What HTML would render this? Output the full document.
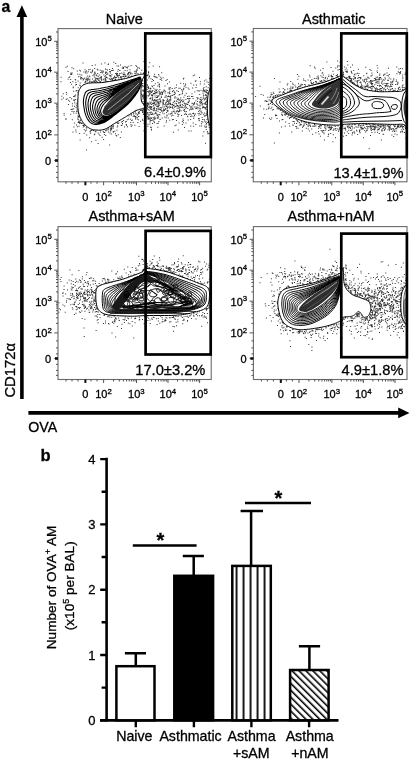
<!DOCTYPE html>
<html><head><meta charset="utf-8"><style>
html,body{margin:0;padding:0;background:#fff;width:412px;height:761px;overflow:hidden;}
svg{display:block;font-family:"Liberation Sans", sans-serif;will-change:transform;}
text{stroke:#000;stroke-width:0.3px;}
</style></head><body>
<svg width="412" height="761" viewBox="0 0 412 761" font-family='"Liberation Sans", sans-serif' fill="#000">
<clipPath id="clip0"><rect x="58" y="28.6" width="153.3" height="153.20000000000002"/></clipPath>
<g clip-path="url(#clip0)">
<path d="M204.1 112.4h1v1h-1zM110.1 130.4h1v1h-1zM80.9 123.1h1v1h-1zM153.1 80.0h1v1h-1zM211.1 83.5h1v1h-1zM212.6 129.0h1v1h-1zM104.4 62.6h1v1h-1zM111.4 126.1h1v1h-1zM208.2 124.5h1v1h-1zM204.6 98.8h1v1h-1zM208.3 83.9h1v1h-1zM95.1 82.4h1v1h-1zM105.3 81.4h1v1h-1zM207.6 96.6h1v1h-1zM147.4 102.2h1v1h-1zM205.6 106.9h1v1h-1zM97.6 143.0h1v1h-1zM195.3 124.0h1v1h-1zM73.2 112.4h1v1h-1zM79.6 139.6h1v1h-1zM101.1 79.8h1v1h-1zM85.7 77.5h1v1h-1zM138.5 111.7h1v1h-1zM109.9 71.0h1v1h-1zM144.0 70.2h1v1h-1zM143.0 103.3h1v1h-1zM75.1 98.9h1v1h-1zM95.4 131.3h1v1h-1zM63.6 112.9h1v1h-1zM71.9 103.2h1v1h-1zM201.5 101.6h1v1h-1zM100.2 81.2h1v1h-1zM152.7 65.5h1v1h-1zM114.9 78.8h1v1h-1zM135.2 117.2h1v1h-1zM151.9 79.1h1v1h-1zM209.8 89.3h1v1h-1zM143.5 61.1h1v1h-1zM124.0 126.6h1v1h-1zM80.8 77.4h1v1h-1zM103.6 81.8h1v1h-1zM106.4 129.7h1v1h-1zM145.0 102.9h1v1h-1zM209.9 127.7h1v1h-1zM205.8 113.3h1v1h-1zM140.1 120.7h1v1h-1zM122.8 74.1h1v1h-1zM74.0 105.8h1v1h-1zM200.6 102.5h1v1h-1zM108.2 129.2h1v1h-1zM210.3 88.7h1v1h-1zM143.2 110.5h1v1h-1zM86.5 72.4h1v1h-1zM205.4 91.0h1v1h-1zM143.6 85.6h1v1h-1zM105.2 77.2h1v1h-1zM78.5 125.8h1v1h-1zM202.5 90.3h1v1h-1zM101.6 136.8h1v1h-1zM139.9 110.0h1v1h-1zM138.8 111.0h1v1h-1zM135.7 113.3h1v1h-1zM77.9 116.0h1v1h-1zM113.3 77.0h1v1h-1zM74.4 96.3h1v1h-1zM89.6 80.8h1v1h-1zM143.6 92.7h1v1h-1zM123.4 74.5h1v1h-1zM115.7 135.0h1v1h-1zM98.3 79.9h1v1h-1zM203.8 115.6h1v1h-1zM71.1 83.7h1v1h-1zM83.8 129.3h1v1h-1zM77.5 115.2h1v1h-1zM131.1 76.1h1v1h-1zM110.0 127.7h1v1h-1zM79.2 133.0h1v1h-1zM190.7 130.6h1v1h-1zM72.0 108.7h1v1h-1zM114.9 76.9h1v1h-1zM115.2 78.7h1v1h-1zM104.2 131.9h1v1h-1zM146.0 106.8h1v1h-1zM118.4 78.4h1v1h-1zM91.6 129.7h1v1h-1zM135.3 113.5h1v1h-1zM71.5 108.7h1v1h-1zM144.5 90.1h1v1h-1zM202.6 93.3h1v1h-1zM89.2 81.0h1v1h-1zM145.3 70.3h1v1h-1zM110.5 129.2h1v1h-1zM201.8 98.8h1v1h-1zM151.4 106.3h1v1h-1zM79.9 85.5h1v1h-1zM121.1 121.4h1v1h-1zM105.5 69.0h1v1h-1zM209.6 89.6h1v1h-1zM107.0 69.6h1v1h-1zM149.1 75.6h1v1h-1zM99.5 135.1h1v1h-1zM206.1 114.7h1v1h-1zM142.4 95.1h1v1h-1zM148.5 104.2h1v1h-1zM205.8 129.1h1v1h-1zM77.7 87.3h1v1h-1zM141.1 110.1h1v1h-1zM78.8 116.6h1v1h-1zM209.6 88.0h1v1h-1zM205.5 103.6h1v1h-1zM117.0 122.4h1v1h-1zM114.3 130.8h1v1h-1zM116.1 77.1h1v1h-1zM207.3 132.2h1v1h-1zM149.3 62.3h1v1h-1zM205.5 121.3h1v1h-1zM117.2 125.3h1v1h-1zM130.4 76.4h1v1h-1zM205.3 94.1h1v1h-1zM201.0 125.6h1v1h-1zM159.1 66.3h1v1h-1zM199.2 112.7h1v1h-1zM205.6 124.2h1v1h-1zM153.8 103.0h1v1h-1zM80.0 119.5h1v1h-1zM86.9 80.3h1v1h-1zM115.1 79.2h1v1h-1zM159.4 89.0h1v1h-1zM109.3 78.2h1v1h-1zM207.7 87.3h1v1h-1zM213.0 133.0h1v1h-1zM143.2 108.8h1v1h-1zM211.2 87.0h1v1h-1zM91.7 82.0h1v1h-1zM94.3 133.5h1v1h-1zM202.8 96.6h1v1h-1zM119.8 137.1h1v1h-1zM148.0 103.4h1v1h-1zM151.2 103.8h1v1h-1zM105.0 130.3h1v1h-1zM208.0 120.6h1v1h-1zM153.8 109.5h1v1h-1zM204.7 94.9h1v1h-1zM75.3 129.5h1v1h-1zM66.1 93.7h1v1h-1zM100.0 131.6h1v1h-1zM135.4 72.9h1v1h-1zM74.2 95.2h1v1h-1zM67.9 103.9h1v1h-1zM207.5 133.3h1v1h-1zM72.3 81.3h1v1h-1zM112.7 125.1h1v1h-1zM78.2 116.1h1v1h-1zM153.8 118.8h1v1h-1zM75.7 112.8h1v1h-1zM116.1 135.5h1v1h-1zM151.9 86.2h1v1h-1zM206.5 92.0h1v1h-1zM101.0 79.3h1v1h-1zM135.7 71.6h1v1h-1zM205.5 79.6h1v1h-1zM211.7 131.1h1v1h-1zM85.8 127.3h1v1h-1zM134.6 75.0h1v1h-1zM73.5 111.1h1v1h-1zM74.1 100.2h1v1h-1zM145.2 110.3h1v1h-1zM130.8 114.8h1v1h-1zM75.0 84.4h1v1h-1zM117.7 134.3h1v1h-1zM65.8 98.9h1v1h-1zM147.3 112.7h1v1h-1zM145.2 113.1h1v1h-1zM89.4 78.7h1v1h-1zM143.3 72.3h1v1h-1zM207.9 93.3h1v1h-1zM207.8 122.1h1v1h-1zM199.3 125.6h1v1h-1zM123.1 120.0h1v1h-1zM146.6 75.0h1v1h-1zM103.0 131.2h1v1h-1zM84.4 124.8h1v1h-1zM210.0 129.3h1v1h-1zM144.8 104.2h1v1h-1zM75.6 131.4h1v1h-1zM105.5 71.3h1v1h-1zM99.7 69.7h1v1h-1zM139.1 67.8h1v1h-1zM92.5 81.2h1v1h-1zM106.5 81.1h1v1h-1zM122.6 78.7h1v1h-1zM73.2 108.2h1v1h-1zM117.3 70.7h1v1h-1zM141.8 110.1h1v1h-1zM87.5 77.7h1v1h-1zM134.9 116.1h1v1h-1zM123.0 68.1h1v1h-1zM83.3 84.6h1v1h-1zM90.2 132.7h1v1h-1zM71.9 105.6h1v1h-1zM204.2 125.5h1v1h-1zM63.7 114.8h1v1h-1zM206.1 111.4h1v1h-1zM105.3 78.8h1v1h-1zM184.1 108.9h1v1h-1zM135.8 70.7h1v1h-1zM82.5 125.0h1v1h-1zM93.9 134.3h1v1h-1zM111.1 128.1h1v1h-1zM135.8 71.7h1v1h-1zM144.1 87.0h1v1h-1zM209.5 85.1h1v1h-1zM136.1 75.2h1v1h-1zM133.4 112.6h1v1h-1zM76.0 124.6h1v1h-1zM141.5 84.9h1v1h-1zM110.5 128.6h1v1h-1zM208.5 124.3h1v1h-1zM104.4 76.1h1v1h-1zM144.0 122.3h1v1h-1zM212.7 129.5h1v1h-1zM105.2 79.0h1v1h-1zM144.8 108.9h1v1h-1zM144.3 113.4h1v1h-1zM142.3 111.4h1v1h-1zM115.9 74.4h1v1h-1zM204.7 114.8h1v1h-1zM154.8 112.8h1v1h-1zM76.9 126.3h1v1h-1zM126.0 124.8h1v1h-1zM210.1 85.9h1v1h-1zM78.1 119.3h1v1h-1zM111.1 128.8h1v1h-1zM85.1 130.4h1v1h-1zM107.3 77.5h1v1h-1zM89.6 69.0h1v1h-1zM207.2 114.1h1v1h-1zM95.2 79.9h1v1h-1zM204.5 107.8h1v1h-1zM212.2 132.9h1v1h-1zM196.7 90.2h1v1h-1zM92.5 81.3h1v1h-1zM142.6 97.9h1v1h-1zM198.5 114.5h1v1h-1zM116.2 74.6h1v1h-1zM75.6 90.6h1v1h-1zM93.9 76.4h1v1h-1zM78.9 115.0h1v1h-1zM204.8 126.7h1v1h-1zM203.5 90.0h1v1h-1zM206.5 89.7h1v1h-1zM147.2 105.5h1v1h-1zM98.7 79.8h1v1h-1zM99.4 81.0h1v1h-1zM205.7 86.2h1v1h-1zM203.2 97.8h1v1h-1zM128.1 73.6h1v1h-1zM202.3 121.5h1v1h-1zM77.6 109.5h1v1h-1zM199.8 83.5h1v1h-1zM135.4 73.4h1v1h-1zM137.3 122.1h1v1h-1zM127.7 76.2h1v1h-1zM77.9 76.3h1v1h-1zM124.9 76.1h1v1h-1zM124.2 73.5h1v1h-1zM94.7 130.7h1v1h-1zM208.4 81.9h1v1h-1zM212.5 84.0h1v1h-1zM110.7 126.8h1v1h-1zM137.9 112.1h1v1h-1zM120.8 78.5h1v1h-1zM61.4 95.7h1v1h-1zM90.8 130.0h1v1h-1zM76.2 90.1h1v1h-1zM65.8 118.5h1v1h-1zM124.7 74.4h1v1h-1zM131.8 119.5h1v1h-1zM117.4 123.0h1v1h-1zM116.8 126.5h1v1h-1zM134.1 115.9h1v1h-1zM142.7 89.6h1v1h-1zM130.4 72.5h1v1h-1zM201.7 103.6h1v1h-1zM78.7 121.7h1v1h-1zM100.7 78.8h1v1h-1zM96.6 81.7h1v1h-1zM76.1 105.3h1v1h-1zM125.8 121.1h1v1h-1zM105.3 130.3h1v1h-1zM125.5 75.8h1v1h-1zM94.7 78.7h1v1h-1zM121.7 124.6h1v1h-1zM130.7 113.8h1v1h-1zM203.7 119.0h1v1h-1zM109.1 144.4h1v1h-1zM97.6 132.6h1v1h-1zM209.7 127.4h1v1h-1zM122.0 123.1h1v1h-1zM147.8 91.8h1v1h-1zM133.0 113.5h1v1h-1zM97.1 78.6h1v1h-1zM132.7 122.0h1v1h-1zM80.4 121.9h1v1h-1zM206.5 119.1h1v1h-1zM205.9 96.6h1v1h-1zM77.6 90.2h1v1h-1zM75.1 94.4h1v1h-1zM141.3 69.7h1v1h-1zM86.1 127.5h1v1h-1zM149.9 105.9h1v1h-1zM204.1 91.2h1v1h-1zM202.4 106.4h1v1h-1zM71.8 119.3h1v1h-1zM143.2 90.5h1v1h-1zM206.0 126.5h1v1h-1zM113.0 131.4h1v1h-1zM202.6 91.2h1v1h-1zM148.7 76.3h1v1h-1zM207.2 121.9h1v1h-1zM91.1 141.3h1v1h-1zM144.9 76.8h1v1h-1zM128.1 118.6h1v1h-1zM113.0 126.2h1v1h-1zM72.4 131.6h1v1h-1zM79.6 75.8h1v1h-1zM127.0 74.2h1v1h-1zM103.1 139.1h1v1h-1zM131.3 75.4h1v1h-1zM150.4 78.2h1v1h-1zM205.5 108.8h1v1h-1zM143.0 96.8h1v1h-1zM79.3 121.5h1v1h-1zM97.5 78.9h1v1h-1zM112.7 131.0h1v1h-1zM114.4 79.7h1v1h-1zM118.0 122.7h1v1h-1zM119.6 72.9h1v1h-1zM206.3 99.2h1v1h-1zM124.6 69.9h1v1h-1zM141.9 84.9h1v1h-1zM211.1 84.6h1v1h-1zM126.7 119.2h1v1h-1zM205.4 97.7h1v1h-1zM129.2 72.0h1v1h-1zM205.0 142.8h1v1h-1zM91.0 130.1h1v1h-1zM89.6 131.4h1v1h-1zM93.9 81.1h1v1h-1zM77.4 91.9h1v1h-1zM93.6 80.4h1v1h-1zM116.8 75.8h1v1h-1zM136.5 69.9h1v1h-1zM74.2 102.2h1v1h-1zM158.5 75.6h1v1h-1zM144.7 78.0h1v1h-1zM211.8 128.3h1v1h-1zM69.1 100.7h1v1h-1zM86.7 78.6h1v1h-1zM128.6 115.5h1v1h-1zM94.6 81.8h1v1h-1zM201.7 104.4h1v1h-1zM87.5 82.5h1v1h-1zM203.8 103.3h1v1h-1zM201.3 112.5h1v1h-1zM76.6 105.4h1v1h-1zM206.0 91.8h1v1h-1zM83.6 124.1h1v1h-1zM211.7 129.0h1v1h-1zM108.9 78.4h1v1h-1zM128.0 76.3h1v1h-1zM146.5 75.2h1v1h-1zM89.1 137.2h1v1h-1zM83.6 132.8h1v1h-1zM142.2 80.3h1v1h-1zM202.4 135.4h1v1h-1zM88.5 79.5h1v1h-1zM77.2 102.7h1v1h-1zM206.6 101.5h1v1h-1zM203.4 131.2h1v1h-1zM145.9 70.6h1v1h-1zM212.3 84.9h1v1h-1zM71.5 111.0h1v1h-1zM148.2 72.5h1v1h-1zM112.7 80.7h1v1h-1zM199.4 98.6h1v1h-1zM110.3 129.6h1v1h-1zM77.7 122.1h1v1h-1zM111.6 126.5h1v1h-1zM79.0 122.0h1v1h-1zM77.2 118.4h1v1h-1zM112.6 127.7h1v1h-1zM135.4 116.4h1v1h-1zM207.9 120.2h1v1h-1zM85.1 84.0h1v1h-1zM111.1 77.9h1v1h-1zM205.3 121.7h1v1h-1zM84.0 77.8h1v1h-1zM112.7 131.5h1v1h-1zM76.3 110.5h1v1h-1zM147.8 86.2h1v1h-1zM109.5 132.4h1v1h-1zM95.2 77.4h1v1h-1zM75.7 103.4h1v1h-1zM123.5 74.0h1v1h-1zM105.2 134.9h1v1h-1zM70.6 109.0h1v1h-1zM131.5 124.8h1v1h-1zM79.7 82.5h1v1h-1zM83.2 124.9h1v1h-1zM148.7 118.0h1v1h-1zM70.2 113.8h1v1h-1zM115.0 133.2h1v1h-1zM143.5 95.5h1v1h-1zM141.2 93.8h1v1h-1zM136.7 117.0h1v1h-1zM210.1 126.9h1v1h-1zM141.5 86.6h1v1h-1zM79.2 115.6h1v1h-1zM101.1 79.5h1v1h-1zM75.6 106.9h1v1h-1zM118.3 122.5h1v1h-1zM140.3 72.6h1v1h-1zM198.5 119.6h1v1h-1zM123.1 67.0h1v1h-1zM103.9 134.0h1v1h-1zM73.5 99.2h1v1h-1zM62.7 93.3h1v1h-1zM137.9 119.2h1v1h-1zM144.7 104.1h1v1h-1zM131.2 119.9h1v1h-1zM154.1 73.7h1v1h-1zM146.8 107.9h1v1h-1zM191.3 107.2h1v1h-1zM103.8 132.0h1v1h-1zM134.4 70.7h1v1h-1zM63.0 97.5h1v1h-1zM138.8 112.8h1v1h-1zM203.9 106.7h1v1h-1zM142.9 73.0h1v1h-1zM77.9 110.3h1v1h-1zM105.2 80.0h1v1h-1zM85.4 79.0h1v1h-1zM85.8 129.6h1v1h-1zM110.2 79.1h1v1h-1zM146.3 97.6h1v1h-1zM78.3 121.3h1v1h-1zM65.0 118.4h1v1h-1zM205.2 106.9h1v1h-1zM120.8 125.1h1v1h-1zM61.3 98.8h1v1h-1zM142.1 112.1h1v1h-1zM138.6 125.9h1v1h-1zM138.4 116.1h1v1h-1zM137.3 113.7h1v1h-1zM206.7 92.8h1v1h-1zM202.0 107.4h1v1h-1zM65.8 92.0h1v1h-1zM122.0 120.9h1v1h-1zM73.2 90.7h1v1h-1zM77.7 98.9h1v1h-1zM125.0 121.5h1v1h-1zM76.8 102.5h1v1h-1zM80.2 86.9h1v1h-1zM205.9 126.3h1v1h-1zM78.2 90.6h1v1h-1zM108.2 127.7h1v1h-1zM149.4 123.5h1v1h-1zM205.6 96.9h1v1h-1zM129.9 118.7h1v1h-1zM111.8 70.1h1v1h-1zM150.7 91.4h1v1h-1zM210.9 128.3h1v1h-1zM142.4 109.3h1v1h-1zM149.4 107.3h1v1h-1zM204.7 115.2h1v1h-1zM132.7 116.1h1v1h-1zM145.5 109.6h1v1h-1zM143.2 94.3h1v1h-1zM83.0 78.7h1v1h-1zM142.1 83.2h1v1h-1zM143.8 83.0h1v1h-1zM142.3 95.5h1v1h-1zM85.9 149.4h1v1h-1zM209.9 87.7h1v1h-1zM206.0 96.8h1v1h-1zM205.6 89.5h1v1h-1zM206.5 109.4h1v1h-1zM208.7 133.0h1v1h-1zM93.1 130.1h1v1h-1zM206.9 90.1h1v1h-1zM100.2 81.9h1v1h-1zM93.2 129.9h1v1h-1zM149.4 101.5h1v1h-1zM154.2 116.6h1v1h-1zM137.4 73.1h1v1h-1zM106.5 128.7h1v1h-1zM79.3 84.8h1v1h-1zM205.4 101.5h1v1h-1zM111.6 79.0h1v1h-1zM77.9 94.4h1v1h-1zM82.8 126.6h1v1h-1zM73.4 126.5h1v1h-1zM68.1 99.7h1v1h-1zM73.9 122.5h1v1h-1zM66.6 98.2h1v1h-1zM142.3 89.7h1v1h-1zM206.4 106.0h1v1h-1zM82.6 79.4h1v1h-1zM82.8 85.1h1v1h-1zM198.7 118.0h1v1h-1zM192.7 122.6h1v1h-1zM128.1 72.0h1v1h-1zM79.7 120.1h1v1h-1zM111.7 125.9h1v1h-1zM69.5 96.9h1v1h-1zM148.0 72.2h1v1h-1zM207.5 116.4h1v1h-1zM91.2 81.2h1v1h-1zM206.2 113.6h1v1h-1zM155.9 90.2h1v1h-1zM77.9 113.2h1v1h-1zM85.3 81.7h1v1h-1zM73.4 99.9h1v1h-1zM205.9 104.2h1v1h-1zM138.3 112.9h1v1h-1zM103.5 79.4h1v1h-1zM86.2 134.5h1v1h-1zM142.0 82.9h1v1h-1zM208.3 84.0h1v1h-1zM144.3 81.3h1v1h-1zM116.1 72.8h1v1h-1zM141.6 94.6h1v1h-1zM79.2 122.9h1v1h-1zM135.0 118.5h1v1h-1zM85.7 79.0h1v1h-1zM131.4 76.3h1v1h-1zM212.9 85.3h1v1h-1zM79.4 122.7h1v1h-1zM143.9 100.9h1v1h-1zM102.8 131.6h1v1h-1zM136.8 114.7h1v1h-1zM148.7 112.1h1v1h-1zM208.1 122.3h1v1h-1zM78.0 121.2h1v1h-1zM72.8 87.3h1v1h-1zM206.6 81.4h1v1h-1zM73.1 96.1h1v1h-1zM205.9 100.7h1v1h-1zM128.5 76.6h1v1h-1zM144.6 96.3h1v1h-1zM206.6 113.4h1v1h-1zM123.9 76.4h1v1h-1zM154.8 76.5h1v1h-1zM112.7 78.1h1v1h-1zM89.1 82.6h1v1h-1zM210.2 134.4h1v1h-1zM136.4 68.9h1v1h-1zM87.6 78.7h1v1h-1zM148.4 77.6h1v1h-1zM77.2 99.7h1v1h-1zM148.4 66.6h1v1h-1zM71.1 98.2h1v1h-1zM120.7 77.5h1v1h-1zM75.4 82.0h1v1h-1zM130.3 124.2h1v1h-1zM92.0 78.5h1v1h-1zM146.7 111.9h1v1h-1zM207.8 92.9h1v1h-1zM78.1 94.1h1v1h-1zM83.7 125.7h1v1h-1zM98.6 77.7h1v1h-1zM107.9 131.5h1v1h-1zM89.8 130.5h1v1h-1zM204.7 115.4h1v1h-1zM94.4 71.6h1v1h-1zM133.6 115.0h1v1h-1zM76.2 110.9h1v1h-1zM81.9 122.8h1v1h-1zM86.8 79.8h1v1h-1zM110.8 133.6h1v1h-1zM116.4 129.8h1v1h-1zM95.8 75.3h1v1h-1zM211.0 84.9h1v1h-1zM119.4 70.0h1v1h-1zM208.7 126.7h1v1h-1zM206.9 131.0h1v1h-1zM95.4 139.8h1v1h-1zM135.0 111.6h1v1h-1zM79.1 115.5h1v1h-1zM147.2 116.0h1v1h-1zM76.5 108.6h1v1h-1zM98.6 133.7h1v1h-1zM76.6 111.3h1v1h-1zM147.4 86.5h1v1h-1zM149.8 103.1h1v1h-1zM126.9 67.6h1v1h-1zM144.9 119.5h1v1h-1zM77.6 117.2h1v1h-1zM150.7 94.3h1v1h-1zM209.0 78.1h1v1h-1zM164.2 116.4h1v1h-1zM157.4 82.1h1v1h-1zM200.4 110.5h1v1h-1zM179.4 93.9h1v1h-1zM149.5 92.2h1v1h-1zM166.9 100.9h1v1h-1zM157.9 105.9h1v1h-1zM183.1 109.7h1v1h-1zM178.6 122.5h1v1h-1zM203.6 106.9h1v1h-1zM193.0 112.7h1v1h-1zM185.8 110.9h1v1h-1zM197.5 104.7h1v1h-1zM186.9 97.9h1v1h-1zM200.7 101.9h1v1h-1zM162.8 102.3h1v1h-1zM153.2 105.1h1v1h-1zM198.3 107.4h1v1h-1zM150.4 97.4h1v1h-1zM200.6 111.2h1v1h-1zM158.6 84.3h1v1h-1zM168.7 96.2h1v1h-1zM142.4 120.1h1v1h-1zM144.2 73.2h1v1h-1zM148.2 95.4h1v1h-1zM167.3 110.6h1v1h-1zM184.9 84.8h1v1h-1zM120.9 131.6h1v1h-1zM194.1 74.5h1v1h-1zM147.6 118.8h1v1h-1zM150.4 120.1h1v1h-1zM192.3 113.1h1v1h-1zM174.2 100.6h1v1h-1zM155.3 111.9h1v1h-1zM181.9 90.7h1v1h-1zM180.8 100.0h1v1h-1zM165.1 90.7h1v1h-1zM200.2 99.0h1v1h-1zM158.2 104.8h1v1h-1zM202.9 88.2h1v1h-1zM157.7 115.8h1v1h-1zM167.3 106.7h1v1h-1zM221.5 86.3h1v1h-1zM183.6 102.5h1v1h-1zM178.6 94.5h1v1h-1zM184.7 103.8h1v1h-1zM156.4 95.2h1v1h-1zM193.6 113.6h1v1h-1zM147.6 95.2h1v1h-1zM203.1 113.8h1v1h-1zM204.9 102.5h1v1h-1zM162.2 112.4h1v1h-1zM160.9 97.0h1v1h-1zM180.2 97.4h1v1h-1zM176.3 90.3h1v1h-1zM152.5 109.4h1v1h-1zM189.6 113.3h1v1h-1zM127.0 126.3h1v1h-1zM165.6 117.2h1v1h-1zM166.3 105.7h1v1h-1zM169.4 100.7h1v1h-1zM183.4 107.3h1v1h-1zM146.5 102.7h1v1h-1zM190.1 119.1h1v1h-1zM171.7 113.4h1v1h-1zM160.4 93.8h1v1h-1zM143.2 95.4h1v1h-1zM147.6 118.0h1v1h-1zM184.6 106.4h1v1h-1zM152.9 100.5h1v1h-1zM177.5 116.0h1v1h-1zM201.5 98.7h1v1h-1zM200.8 99.9h1v1h-1zM168.9 81.4h1v1h-1zM150.0 112.5h1v1h-1zM200.5 89.7h1v1h-1zM183.4 96.7h1v1h-1zM203.0 94.8h1v1h-1zM176.3 111.0h1v1h-1zM204.7 102.2h1v1h-1zM196.3 103.2h1v1h-1zM193.2 84.5h1v1h-1zM188.1 102.0h1v1h-1zM185.5 86.8h1v1h-1zM181.6 106.4h1v1h-1zM181.4 107.0h1v1h-1zM199.8 102.8h1v1h-1zM163.7 125.5h1v1h-1zM173.5 109.6h1v1h-1zM199.6 104.6h1v1h-1zM173.8 100.9h1v1h-1zM170.1 113.6h1v1h-1zM168.6 88.7h1v1h-1zM145.3 114.6h1v1h-1zM158.9 108.7h1v1h-1zM168.4 113.6h1v1h-1zM181.0 89.3h1v1h-1zM198.4 90.1h1v1h-1zM152.0 123.1h1v1h-1zM184.5 105.8h1v1h-1zM192.1 87.4h1v1h-1zM159.3 99.0h1v1h-1zM190.5 82.7h1v1h-1zM183.3 77.8h1v1h-1zM151.5 85.4h1v1h-1zM175.5 106.0h1v1h-1zM169.7 102.5h1v1h-1zM190.4 106.1h1v1h-1zM189.0 109.6h1v1h-1zM165.5 79.9h1v1h-1zM143.9 99.7h1v1h-1zM182.4 89.4h1v1h-1zM200.4 97.0h1v1h-1zM163.5 100.1h1v1h-1zM195.5 87.0h1v1h-1zM170.2 97.7h1v1h-1zM174.5 125.2h1v1h-1zM173.9 91.4h1v1h-1zM176.0 84.4h1v1h-1zM202.7 106.0h1v1h-1zM179.0 109.6h1v1h-1zM172.3 108.1h1v1h-1zM169.4 90.7h1v1h-1zM184.2 114.0h1v1h-1zM154.5 94.4h1v1h-1zM163.9 90.5h1v1h-1zM174.7 96.3h1v1h-1zM162.4 101.8h1v1h-1zM173.2 110.9h1v1h-1zM161.3 109.9h1v1h-1zM186.8 103.9h1v1h-1zM174.7 112.9h1v1h-1zM228.6 87.6h1v1h-1zM183.8 85.7h1v1h-1zM173.9 111.5h1v1h-1zM183.3 87.7h1v1h-1zM183.3 99.7h1v1h-1zM175.5 97.6h1v1h-1zM154.8 118.3h1v1h-1zM192.7 75.2h1v1h-1zM152.0 112.7h1v1h-1zM219.6 128.2h1v1h-1zM168.1 103.3h1v1h-1zM174.6 102.8h1v1h-1zM198.2 111.0h1v1h-1zM206.1 123.1h1v1h-1zM149.3 89.9h1v1h-1zM167.7 104.0h1v1h-1zM142.5 101.0h1v1h-1zM179.3 109.2h1v1h-1zM173.6 104.8h1v1h-1zM167.6 110.3h1v1h-1zM159.6 98.4h1v1h-1zM166.7 103.5h1v1h-1zM158.1 95.6h1v1h-1zM188.7 95.7h1v1h-1zM173.2 90.1h1v1h-1zM166.0 120.3h1v1h-1zM187.8 101.5h1v1h-1zM153.2 87.8h1v1h-1zM172.5 115.1h1v1h-1zM151.0 94.8h1v1h-1zM192.7 108.6h1v1h-1zM178.4 102.8h1v1h-1zM172.1 105.8h1v1h-1zM184.9 104.9h1v1h-1zM170.1 96.7h1v1h-1zM190.3 125.4h1v1h-1zM182.9 78.4h1v1h-1zM172.3 103.7h1v1h-1zM199.6 107.8h1v1h-1zM205.2 91.4h1v1h-1zM149.8 87.9h1v1h-1zM157.3 126.7h1v1h-1zM210.1 125.9h1v1h-1zM158.3 108.9h1v1h-1zM147.7 103.8h1v1h-1zM160.7 108.2h1v1h-1zM164.0 110.0h1v1h-1zM138.0 116.0h1v1h-1zM176.7 107.8h1v1h-1zM145.3 104.6h1v1h-1zM147.0 104.9h1v1h-1zM198.0 117.9h1v1h-1zM159.6 112.0h1v1h-1zM174.3 92.0h1v1h-1zM191.1 96.0h1v1h-1zM195.5 106.6h1v1h-1zM167.9 96.1h1v1h-1zM177.1 98.9h1v1h-1zM156.2 92.5h1v1h-1zM191.6 107.7h1v1h-1zM149.5 113.9h1v1h-1zM176.1 103.1h1v1h-1zM193.1 125.8h1v1h-1zM187.5 102.2h1v1h-1zM219.9 138.1h1v1h-1zM163.1 108.5h1v1h-1zM173.9 97.5h1v1h-1zM145.2 71.9h1v1h-1zM182.0 101.3h1v1h-1zM179.6 105.0h1v1h-1zM178.3 87.8h1v1h-1zM125.8 124.0h1v1h-1zM159.9 100.2h1v1h-1zM178.7 111.0h1v1h-1zM145.9 75.1h1v1h-1zM155.2 104.5h1v1h-1zM167.2 99.2h1v1h-1zM184.2 110.5h1v1h-1zM172.0 104.0h1v1h-1zM154.7 90.4h1v1h-1zM194.9 113.4h1v1h-1zM163.0 110.6h1v1h-1zM164.0 109.6h1v1h-1zM142.9 114.1h1v1h-1zM157.1 115.1h1v1h-1zM191.6 102.8h1v1h-1zM174.3 87.8h1v1h-1zM193.2 117.8h1v1h-1zM166.9 110.8h1v1h-1zM181.8 104.1h1v1h-1zM149.2 98.2h1v1h-1zM207.4 103.3h1v1h-1zM202.4 103.3h1v1h-1zM181.7 99.3h1v1h-1zM150.9 126.8h1v1h-1zM199.4 105.5h1v1h-1zM183.1 88.7h1v1h-1zM205.9 95.0h1v1h-1zM161.4 110.9h1v1h-1zM171.5 111.3h1v1h-1zM176.0 100.6h1v1h-1zM186.2 103.6h1v1h-1zM198.6 90.8h1v1h-1zM207.7 117.3h1v1h-1zM148.4 107.1h1v1h-1zM143.5 130.2h1v1h-1zM184.4 94.7h1v1h-1zM160.3 101.5h1v1h-1zM195.4 100.3h1v1h-1zM179.7 87.7h1v1h-1zM164.6 92.6h1v1h-1zM179.3 106.8h1v1h-1zM157.9 102.0h1v1h-1zM178.4 114.0h1v1h-1zM151.0 113.9h1v1h-1zM157.7 106.6h1v1h-1zM185.3 103.3h1v1h-1zM162.7 100.2h1v1h-1zM165.2 109.1h1v1h-1zM196.6 103.7h1v1h-1zM195.3 107.9h1v1h-1zM188.7 99.4h1v1h-1zM187.6 87.5h1v1h-1zM175.5 111.4h1v1h-1zM153.2 120.5h1v1h-1zM169.9 103.6h1v1h-1zM142.9 112.5h1v1h-1zM167.7 117.6h1v1h-1zM188.4 113.9h1v1h-1zM160.1 101.0h1v1h-1zM176.1 104.4h1v1h-1zM167.4 92.2h1v1h-1zM158.3 108.2h1v1h-1zM147.5 114.3h1v1h-1zM177.5 97.7h1v1h-1zM134.4 124.7h1v1h-1zM178.7 99.8h1v1h-1zM176.5 100.8h1v1h-1zM160.2 100.4h1v1h-1zM151.7 95.2h1v1h-1zM143.8 121.3h1v1h-1zM190.4 108.9h1v1h-1zM167.3 100.6h1v1h-1zM148.2 87.4h1v1h-1zM201.0 102.0h1v1h-1zM153.6 113.5h1v1h-1zM168.8 102.7h1v1h-1zM201.2 121.3h1v1h-1zM184.1 111.1h1v1h-1zM162.3 105.5h1v1h-1zM189.0 105.3h1v1h-1zM146.0 110.2h1v1h-1zM158.5 95.2h1v1h-1zM173.0 131.8h1v1h-1zM172.7 102.0h1v1h-1zM167.9 95.4h1v1h-1zM175.7 87.1h1v1h-1zM190.2 116.1h1v1h-1zM174.5 106.3h1v1h-1zM200.9 123.3h1v1h-1zM188.4 130.6h1v1h-1zM168.9 93.2h1v1h-1zM177.9 114.6h1v1h-1zM176.7 109.9h1v1h-1zM154.0 107.4h1v1h-1zM205.1 108.3h1v1h-1zM142.7 102.8h1v1h-1zM204.1 120.5h1v1h-1zM198.9 109.8h1v1h-1zM173.8 106.8h1v1h-1zM157.6 116.7h1v1h-1zM170.6 112.9h1v1h-1zM187.3 108.1h1v1h-1zM193.8 106.6h1v1h-1zM182.9 122.3h1v1h-1zM199.8 108.6h1v1h-1zM162.6 102.0h1v1h-1zM181.6 93.6h1v1h-1zM194.3 91.5h1v1h-1zM179.7 104.2h1v1h-1zM166.0 105.9h1v1h-1zM203.9 80.5h1v1h-1zM192.6 103.2h1v1h-1zM177.0 104.9h1v1h-1zM201.6 117.0h1v1h-1zM163.6 89.5h1v1h-1zM177.8 91.1h1v1h-1zM170.0 102.9h1v1h-1zM184.4 113.8h1v1h-1zM191.5 115.8h1v1h-1zM206.9 105.3h1v1h-1zM152.3 89.9h1v1h-1zM153.6 93.1h1v1h-1zM182.7 101.1h1v1h-1zM203.8 83.5h1v1h-1zM193.1 104.2h1v1h-1zM153.5 110.1h1v1h-1zM159.2 101.4h1v1h-1zM164.9 108.1h1v1h-1zM174.8 92.7h1v1h-1zM203.5 87.0h1v1h-1zM145.0 96.0h1v1h-1zM187.2 115.7h1v1h-1zM190.6 114.3h1v1h-1zM189.4 98.0h1v1h-1zM187.2 116.3h1v1h-1zM187.7 119.6h1v1h-1zM196.6 108.3h1v1h-1zM189.5 98.0h1v1h-1zM206.8 92.7h1v1h-1zM169.7 87.0h1v1h-1zM169.3 105.8h1v1h-1zM152.7 102.4h1v1h-1zM166.8 98.5h1v1h-1zM159.5 118.8h1v1h-1zM187.9 98.3h1v1h-1zM182.5 118.6h1v1h-1zM170.1 106.7h1v1h-1zM159.0 83.9h1v1h-1zM157.1 96.4h1v1h-1zM148.9 109.7h1v1h-1zM162.9 103.2h1v1h-1zM176.1 120.1h1v1h-1zM171.7 88.0h1v1h-1zM142.1 110.5h1v1h-1zM169.6 96.1h1v1h-1zM154.6 117.6h1v1h-1zM179.8 102.2h1v1h-1zM191.0 95.9h1v1h-1zM168.5 87.5h1v1h-1zM142.0 96.3h1v1h-1zM193.4 116.2h1v1h-1zM157.6 117.7h1v1h-1zM177.5 106.0h1v1h-1zM161.1 91.6h1v1h-1zM178.2 101.7h1v1h-1zM159.6 119.0h1v1h-1zM167.8 106.5h1v1h-1zM156.6 108.4h1v1h-1zM197.0 98.6h1v1h-1zM151.4 80.9h1v1h-1zM148.8 94.5h1v1h-1zM142.7 90.7h1v1h-1zM187.3 104.1h1v1h-1zM152.1 98.7h1v1h-1zM198.8 120.2h1v1h-1zM182.0 92.4h1v1h-1zM149.6 92.9h1v1h-1zM169.4 100.5h1v1h-1zM170.4 95.3h1v1h-1zM159.4 98.3h1v1h-1zM130.3 122.1h1v1h-1zM185.1 83.4h1v1h-1zM184.0 102.8h1v1h-1zM162.1 103.5h1v1h-1zM179.6 102.1h1v1h-1zM197.1 100.9h1v1h-1zM179.7 99.3h1v1h-1zM186.0 114.0h1v1h-1zM192.6 97.9h1v1h-1zM199.5 101.1h1v1h-1zM200.3 114.0h1v1h-1zM173.2 104.9h1v1h-1zM156.5 102.4h1v1h-1zM161.9 92.0h1v1h-1zM199.2 93.9h1v1h-1zM156.7 91.4h1v1h-1zM172.9 105.1h1v1h-1zM172.2 91.3h1v1h-1zM178.2 105.6h1v1h-1zM159.1 108.8h1v1h-1zM158.7 83.6h1v1h-1zM147.0 103.4h1v1h-1zM150.8 101.8h1v1h-1zM156.6 114.7h1v1h-1zM204.8 103.8h1v1h-1zM184.0 127.1h1v1h-1zM158.8 91.2h1v1h-1zM165.7 101.9h1v1h-1zM201.6 112.3h1v1h-1zM154.1 91.2h1v1h-1zM177.7 129.4h1v1h-1zM191.5 93.2h1v1h-1zM194.0 102.5h1v1h-1zM150.8 103.9h1v1h-1zM204.3 89.8h1v1h-1zM167.0 107.5h1v1h-1zM157.6 104.2h1v1h-1zM178.5 107.9h1v1h-1zM170.9 115.4h1v1h-1zM152.3 114.1h1v1h-1zM153.4 106.4h1v1h-1zM191.6 105.4h1v1h-1zM204.5 98.6h1v1h-1zM163.6 104.1h1v1h-1zM174.1 93.9h1v1h-1zM182.8 119.9h1v1h-1zM150.0 126.7h1v1h-1zM152.2 98.7h1v1h-1zM178.3 107.4h1v1h-1zM168.3 100.4h1v1h-1zM150.5 116.9h1v1h-1zM185.3 107.8h1v1h-1zM169.7 103.9h1v1h-1zM200.5 100.5h1v1h-1zM175.9 104.4h1v1h-1zM168.8 92.0h1v1h-1zM179.1 110.4h1v1h-1zM171.9 95.1h1v1h-1zM160.0 108.9h1v1h-1zM166.4 104.4h1v1h-1zM194.0 115.0h1v1h-1zM191.5 102.8h1v1h-1zM206.9 114.3h1v1h-1zM166.6 109.7h1v1h-1zM166.1 100.5h1v1h-1zM180.1 105.1h1v1h-1zM165.1 103.8h1v1h-1zM163.7 113.3h1v1h-1zM194.8 80.8h1v1h-1zM180.3 106.6h1v1h-1zM148.0 86.6h1v1h-1zM199.9 81.3h1v1h-1zM162.2 92.0h1v1h-1zM196.0 84.6h1v1h-1zM158.4 121.0h1v1h-1zM203.0 88.8h1v1h-1zM170.8 104.3h1v1h-1zM156.7 97.1h1v1h-1zM167.0 83.2h1v1h-1zM157.6 99.3h1v1h-1zM180.6 110.3h1v1h-1zM180.2 101.0h1v1h-1zM176.9 113.4h1v1h-1zM162.6 99.0h1v1h-1zM178.2 98.8h1v1h-1zM181.9 123.9h1v1h-1zM203.1 107.0h1v1h-1zM182.6 105.1h1v1h-1zM166.7 96.2h1v1h-1zM171.7 94.7h1v1h-1zM172.8 119.1h1v1h-1zM162.8 90.8h1v1h-1zM162.0 93.0h1v1h-1zM153.8 101.9h1v1h-1zM204.5 98.3h1v1h-1zM175.6 124.5h1v1h-1zM199.0 77.0h1v1h-1zM170.0 107.0h1v1h-1zM177.7 110.8h1v1h-1zM171.9 90.7h1v1h-1zM187.1 95.9h1v1h-1zM195.8 107.8h1v1h-1zM181.8 120.9h1v1h-1zM159.8 92.9h1v1h-1zM157.3 85.6h1v1h-1zM169.3 119.8h1v1h-1zM169.0 99.3h1v1h-1zM211.2 78.6h1v1h-1zM202.1 119.0h1v1h-1zM188.8 100.8h1v1h-1zM166.4 115.4h1v1h-1zM185.4 98.9h1v1h-1zM189.1 98.0h1v1h-1zM171.9 119.2h1v1h-1zM142.1 118.8h1v1h-1zM144.0 79.5h1v1h-1zM185.8 92.7h1v1h-1zM185.4 122.5h1v1h-1zM170.2 99.0h1v1h-1zM147.9 88.0h1v1h-1zM168.1 101.8h1v1h-1zM197.6 97.7h1v1h-1zM203.7 99.6h1v1h-1zM197.1 106.7h1v1h-1zM161.8 94.1h1v1h-1zM155.1 99.8h1v1h-1zM161.7 117.4h1v1h-1zM171.8 107.1h1v1h-1zM199.2 101.8h1v1h-1zM190.7 108.9h1v1h-1zM190.1 107.5h1v1h-1zM181.1 115.0h1v1h-1zM191.9 108.6h1v1h-1zM150.4 117.8h1v1h-1zM165.0 102.5h1v1h-1zM142.7 98.4h1v1h-1zM207.1 108.7h1v1h-1zM194.1 102.0h1v1h-1zM147.2 86.8h1v1h-1zM180.2 82.8h1v1h-1zM170.4 106.8h1v1h-1zM177.9 111.5h1v1h-1zM171.5 111.8h1v1h-1zM188.5 88.8h1v1h-1zM166.5 114.4h1v1h-1zM196.5 97.1h1v1h-1zM181.8 107.3h1v1h-1zM169.0 107.6h1v1h-1zM173.3 94.2h1v1h-1zM165.4 96.5h1v1h-1zM195.5 80.2h1v1h-1zM169.5 92.9h1v1h-1zM183.1 83.2h1v1h-1zM166.6 107.8h1v1h-1zM197.7 113.1h1v1h-1zM150.6 106.9h1v1h-1zM192.3 96.0h1v1h-1zM186.1 106.8h1v1h-1zM153.3 109.7h1v1h-1zM163.7 106.5h1v1h-1zM156.3 92.1h1v1h-1zM147.6 103.0h1v1h-1zM193.8 103.6h1v1h-1zM170.3 99.6h1v1h-1zM185.3 112.8h1v1h-1zM165.7 121.8h1v1h-1zM134.4 71.0h1v1h-1zM102.6 70.4h1v1h-1zM91.8 70.9h1v1h-1zM144.1 77.2h1v1h-1zM130.6 65.1h1v1h-1zM102.7 71.4h1v1h-1zM71.5 67.3h1v1h-1zM86.0 70.4h1v1h-1zM118.9 75.0h1v1h-1zM87.7 77.5h1v1h-1zM113.7 80.1h1v1h-1zM120.7 78.9h1v1h-1zM117.0 73.1h1v1h-1zM84.5 81.8h1v1h-1zM97.2 73.0h1v1h-1zM161.2 72.3h1v1h-1zM76.0 84.1h1v1h-1zM93.6 80.0h1v1h-1zM130.6 76.9h1v1h-1zM101.2 79.8h1v1h-1zM85.5 80.5h1v1h-1zM73.2 68.2h1v1h-1zM117.9 75.2h1v1h-1zM129.5 69.2h1v1h-1zM106.3 72.0h1v1h-1zM80.2 78.5h1v1h-1zM109.0 71.2h1v1h-1zM88.7 75.6h1v1h-1zM109.2 69.0h1v1h-1zM123.0 75.9h1v1h-1zM81.2 77.1h1v1h-1zM135.4 65.1h1v1h-1zM93.6 73.9h1v1h-1zM80.4 78.5h1v1h-1zM100.9 77.4h1v1h-1zM69.9 82.1h1v1h-1zM105.1 68.6h1v1h-1zM112.0 78.6h1v1h-1zM100.2 72.1h1v1h-1zM117.9 76.8h1v1h-1zM97.4 77.9h1v1h-1zM105.1 79.5h1v1h-1zM70.4 72.5h1v1h-1zM106.0 76.7h1v1h-1zM84.6 69.3h1v1h-1zM94.2 67.9h1v1h-1zM102.8 78.7h1v1h-1zM109.6 75.4h1v1h-1zM65.5 66.8h1v1h-1zM67.5 71.0h1v1h-1zM97.8 75.8h1v1h-1zM136.2 65.9h1v1h-1zM116.9 75.1h1v1h-1zM104.5 78.3h1v1h-1zM80.2 77.8h1v1h-1zM82.3 78.0h1v1h-1zM93.8 74.4h1v1h-1zM105.1 75.2h1v1h-1zM101.3 70.3h1v1h-1zM110.0 72.6h1v1h-1zM91.9 70.5h1v1h-1zM80.3 77.3h1v1h-1zM116.8 73.8h1v1h-1zM115.0 78.5h1v1h-1zM99.7 77.4h1v1h-1zM159.7 78.9h1v1h-1zM86.8 75.6h1v1h-1zM99.8 81.9h1v1h-1zM111.4 74.2h1v1h-1zM77.3 73.7h1v1h-1zM148.1 71.2h1v1h-1zM127.4 73.0h1v1h-1zM120.2 75.9h1v1h-1zM119.2 69.9h1v1h-1zM107.7 64.1h1v1h-1zM101.3 71.4h1v1h-1zM94.9 72.7h1v1h-1zM107.4 73.6h1v1h-1zM126.7 70.3h1v1h-1zM112.9 69.8h1v1h-1zM121.2 76.6h1v1h-1zM56.4 88.9h1v1h-1zM161.2 79.8h1v1h-1zM137.0 67.4h1v1h-1zM97.4 75.5h1v1h-1zM84.6 69.2h1v1h-1zM111.7 79.9h1v1h-1zM81.3 74.4h1v1h-1zM122.4 75.9h1v1h-1zM92.4 75.2h1v1h-1zM128.1 72.5h1v1h-1zM137.7 67.3h1v1h-1zM56.2 78.9h1v1h-1zM112.0 68.1h1v1h-1zM88.2 69.2h1v1h-1zM71.2 74.0h1v1h-1zM90.2 71.8h1v1h-1zM99.7 77.1h1v1h-1zM68.5 77.0h1v1h-1zM130.2 76.8h1v1h-1zM153.4 75.8h1v1h-1zM118.1 65.5h1v1h-1zM104.7 77.7h1v1h-1zM76.8 70.5h1v1h-1zM117.8 68.9h1v1h-1zM114.2 75.7h1v1h-1zM122.6 73.5h1v1h-1zM166.7 78.9h1v1h-1zM115.2 62.9h1v1h-1zM72.7 86.4h1v1h-1zM77.6 80.4h1v1h-1zM89.3 76.2h1v1h-1zM121.7 67.8h1v1h-1zM97.4 69.5h1v1h-1zM146.8 79.6h1v1h-1zM123.5 71.7h1v1h-1zM95.7 74.2h1v1h-1zM119.8 77.1h1v1h-1zM124.5 66.0h1v1h-1zM79.4 73.8h1v1h-1zM110.2 75.1h1v1h-1zM142.7 85.7h1v1h-1zM134.1 72.8h1v1h-1zM85.2 71.2h1v1h-1zM108.0 63.4h1v1h-1zM84.9 80.9h1v1h-1zM118.9 73.6h1v1h-1zM127.2 77.5h1v1h-1zM114.3 76.7h1v1h-1zM128.3 65.7h1v1h-1zM70.0 73.7h1v1h-1zM147.4 74.8h1v1h-1zM100.9 63.5h1v1h-1zM121.2 72.4h1v1h-1zM148.9 76.2h1v1h-1zM113.2 77.8h1v1h-1zM69.4 76.3h1v1h-1zM99.2 74.4h1v1h-1zM101.8 72.4h1v1h-1zM105.2 73.1h1v1h-1zM113.3 61.7h1v1h-1zM144.8 71.3h1v1h-1zM60.5 81.2h1v1h-1zM106.1 77.1h1v1h-1zM87.8 71.2h1v1h-1zM94.8 64.6h1v1h-1zM116.0 74.1h1v1h-1zM95.5 78.6h1v1h-1zM129.4 71.4h1v1h-1zM95.5 80.7h1v1h-1zM70.9 73.4h1v1h-1zM112.3 79.8h1v1h-1zM125.6 67.1h1v1h-1zM91.7 64.9h1v1h-1zM55.2 75.9h1v1h-1zM60.6 76.8h1v1h-1zM71.7 72.5h1v1h-1zM93.4 74.1h1v1h-1zM105.4 80.2h1v1h-1zM103.4 74.5h1v1h-1zM122.4 66.6h1v1h-1zM93.7 82.7h1v1h-1zM74.7 79.0h1v1h-1zM75.1 79.5h1v1h-1zM155.7 76.7h1v1h-1zM48.5 88.5h1v1h-1zM100.8 76.1h1v1h-1zM116.6 65.5h1v1h-1zM85.1 72.5h1v1h-1zM105.1 71.9h1v1h-1zM125.7 75.6h1v1h-1zM83.4 71.6h1v1h-1zM111.1 69.9h1v1h-1zM131.5 73.2h1v1h-1zM96.8 68.8h1v1h-1zM70.2 78.9h1v1h-1zM114.5 79.2h1v1h-1zM147.6 74.1h1v1h-1zM110.5 76.2h1v1h-1zM162.6 77.3h1v1h-1zM80.0 70.4h1v1h-1zM126.7 66.5h1v1h-1zM91.3 72.2h1v1h-1zM106.2 73.9h1v1h-1zM107.2 73.2h1v1h-1zM82.5 62.6h1v1h-1zM92.2 69.5h1v1h-1zM66.8 65.7h1v1h-1zM94.0 72.6h1v1h-1zM115.1 72.9h1v1h-1zM79.2 69.7h1v1h-1zM96.4 80.7h1v1h-1zM129.9 73.5h1v1h-1zM100.8 76.9h1v1h-1zM120.0 64.5h1v1h-1zM96.5 77.9h1v1h-1zM67.6 78.8h1v1h-1zM109.1 74.7h1v1h-1zM128.6 74.8h1v1h-1zM56.7 79.7h1v1h-1zM147.5 109.1h1v1h-1zM151.8 90.5h1v1h-1zM153.0 93.0h1v1h-1zM165.6 95.1h1v1h-1zM157.9 103.1h1v1h-1zM154.4 103.8h1v1h-1zM147.5 123.7h1v1h-1zM150.9 117.9h1v1h-1zM148.8 93.6h1v1h-1zM152.1 94.4h1v1h-1zM157.8 122.8h1v1h-1zM142.6 98.4h1v1h-1zM159.7 118.8h1v1h-1zM149.5 121.4h1v1h-1zM160.8 95.7h1v1h-1zM154.2 99.0h1v1h-1zM159.2 103.2h1v1h-1zM155.2 91.9h1v1h-1zM158.3 90.5h1v1h-1zM152.1 97.4h1v1h-1zM146.8 112.5h1v1h-1zM155.8 96.9h1v1h-1zM156.1 99.8h1v1h-1zM164.4 96.7h1v1h-1zM150.6 120.1h1v1h-1zM158.2 74.1h1v1h-1zM144.3 94.4h1v1h-1zM150.4 108.9h1v1h-1zM164.5 85.5h1v1h-1zM160.3 109.5h1v1h-1zM146.5 117.3h1v1h-1zM160.4 91.9h1v1h-1zM158.9 104.7h1v1h-1zM156.5 88.9h1v1h-1zM154.1 108.3h1v1h-1zM153.2 103.3h1v1h-1zM146.6 104.8h1v1h-1zM148.7 118.6h1v1h-1zM156.2 107.9h1v1h-1zM152.7 118.4h1v1h-1zM162.9 109.8h1v1h-1zM149.8 87.8h1v1h-1zM149.8 108.1h1v1h-1zM153.5 84.9h1v1h-1zM154.1 118.2h1v1h-1zM152.2 103.0h1v1h-1zM146.9 106.6h1v1h-1zM160.8 91.5h1v1h-1zM147.8 103.1h1v1h-1zM156.1 105.8h1v1h-1zM150.1 98.3h1v1h-1zM144.6 103.2h1v1h-1zM160.3 76.8h1v1h-1zM136.8 118.6h1v1h-1zM146.7 88.9h1v1h-1zM154.4 76.0h1v1h-1zM149.7 90.7h1v1h-1zM156.4 92.2h1v1h-1zM151.2 108.8h1v1h-1zM149.1 91.3h1v1h-1zM164.8 105.6h1v1h-1zM150.5 90.7h1v1h-1zM150.9 128.7h1v1h-1zM145.4 108.8h1v1h-1zM147.4 125.7h1v1h-1zM155.8 90.0h1v1h-1zM155.2 110.2h1v1h-1zM151.9 90.7h1v1h-1zM147.7 109.2h1v1h-1zM156.0 110.3h1v1h-1zM149.8 88.6h1v1h-1zM150.4 88.2h1v1h-1zM146.8 84.2h1v1h-1zM152.8 93.4h1v1h-1zM147.9 90.7h1v1h-1zM147.1 84.8h1v1h-1zM162.7 103.4h1v1h-1zM156.3 108.7h1v1h-1zM159.1 86.4h1v1h-1zM152.2 95.5h1v1h-1zM157.7 102.3h1v1h-1zM156.6 99.4h1v1h-1zM159.2 93.8h1v1h-1zM166.1 111.9h1v1h-1zM150.6 112.3h1v1h-1zM153.5 110.3h1v1h-1zM151.6 99.7h1v1h-1zM130.8 126.0h1v1h-1zM143.6 123.0h1v1h-1zM152.1 97.3h1v1h-1zM155.7 100.7h1v1h-1zM148.5 116.4h1v1h-1zM158.8 92.5h1v1h-1zM159.7 106.9h1v1h-1zM149.5 102.7h1v1h-1zM160.5 93.7h1v1h-1zM162.5 99.3h1v1h-1zM154.8 83.3h1v1h-1zM146.1 95.6h1v1h-1zM160.8 78.2h1v1h-1zM151.0 129.5h1v1h-1zM149.7 120.2h1v1h-1zM152.7 116.9h1v1h-1zM148.8 105.7h1v1h-1zM158.4 114.1h1v1h-1zM156.7 117.4h1v1h-1zM159.3 114.3h1v1h-1zM155.5 113.1h1v1h-1zM147.2 91.1h1v1h-1zM151.0 107.2h1v1h-1zM157.3 95.7h1v1h-1zM149.6 87.9h1v1h-1zM169.5 88.4h1v1h-1zM150.5 107.2h1v1h-1zM148.5 114.7h1v1h-1zM158.9 85.7h1v1h-1zM156.5 123.0h1v1h-1zM151.8 119.7h1v1h-1zM150.6 97.5h1v1h-1zM154.6 96.5h1v1h-1zM157.0 101.2h1v1h-1zM156.6 113.8h1v1h-1zM150.2 97.4h1v1h-1zM154.6 88.8h1v1h-1zM157.1 106.2h1v1h-1zM156.6 77.2h1v1h-1zM146.7 115.9h1v1h-1zM147.3 105.7h1v1h-1zM150.6 111.4h1v1h-1zM153.1 107.9h1v1h-1zM157.5 110.7h1v1h-1zM155.7 103.7h1v1h-1zM151.2 92.1h1v1h-1zM152.1 99.3h1v1h-1zM162.6 101.1h1v1h-1zM148.3 117.1h1v1h-1zM153.8 121.5h1v1h-1zM161.4 107.0h1v1h-1zM154.1 93.0h1v1h-1zM154.2 99.7h1v1h-1zM149.7 118.7h1v1h-1zM151.3 106.0h1v1h-1zM158.3 101.3h1v1h-1zM154.8 92.8h1v1h-1zM150.4 112.6h1v1h-1zM157.4 105.5h1v1h-1zM154.6 101.4h1v1h-1zM152.6 103.2h1v1h-1zM153.8 122.2h1v1h-1zM153.5 100.1h1v1h-1z" fill="#333"/>
<path d="M86.6 83.6 88.3 83.2 90.1 83.0 92.2 82.9 94.4 82.8 96.7 82.8 99.1 82.7 101.6 82.6 104.0 82.3 106.6 81.9 109.3 81.5 112.2 81.0 115.1 80.5 118.0 80.0 120.7 79.5 123.2 79.0 125.4 78.5 127.3 78.1 128.9 77.6 130.4 77.2 131.7 76.7 132.9 76.3 134.0 75.9 135.0 75.6 136.0 75.3 136.9 75.1 137.8 74.9 138.5 74.7 139.2 74.6 139.8 74.5 140.3 74.4 140.9 74.3 141.4 74.3 141.9 74.2 142.5 74.2 143.0 74.1 143.5 74.0 143.9 74.1 144.2 74.2 144.4 74.4 144.5 74.8 144.4 75.4 144.1 76.1 143.8 76.9 143.3 77.8 142.8 78.8 142.3 79.8 141.9 80.9 141.6 82.0 141.4 83.1 141.3 84.3 141.2 85.6 141.1 86.9 141.0 88.2 141.0 89.5 141.0 90.8 141.0 92.0 141.0 93.2 141.0 94.4 141.0 95.6 141.0 96.7 141.1 97.9 141.2 98.9 141.3 100.0 141.5 101.0 141.8 102.0 142.3 102.9 142.9 103.8 143.6 104.6 144.1 105.4 144.5 106.2 144.7 106.9 144.5 107.5 144.0 108.0 143.2 108.4 142.2 108.8 141.1 109.1 139.8 109.3 138.5 109.7 137.2 110.1 136.0 110.6 134.8 111.2 133.5 112.0 132.2 112.8 130.8 113.6 129.5 114.5 128.1 115.3 126.7 116.2 125.4 117.0 124.1 117.8 122.7 118.6 121.4 119.4 120.1 120.2 118.7 121.0 117.4 121.8 116.0 122.6 114.7 123.4 113.4 124.2 112.0 125.1 110.7 126.0 109.3 126.8 108.0 127.7 106.7 128.4 105.3 129.0 104.0 129.5 102.6 129.8 101.3 130.0 99.9 130.2 98.5 130.2 97.1 130.1 95.8 130.0 94.5 129.9 93.4 129.7 92.4 129.5 91.4 129.2 90.5 128.8 89.6 128.4 88.8 127.9 88.1 127.4 87.3 126.9 86.6 126.3 85.9 125.7 85.2 125.1 84.6 124.4 84.0 123.7 83.4 123.0 82.9 122.2 82.3 121.4 81.8 120.5 81.3 119.6 80.8 118.6 80.3 117.6 79.8 116.5 79.4 115.4 79.0 114.2 78.7 113.0 78.4 111.7 78.2 110.3 78.0 108.7 77.9 107.1 77.8 105.5 77.8 103.8 77.8 102.1 77.8 100.6 77.9 99.1 78.0 97.7 78.0 96.4 78.1 95.1 78.2 93.8 78.4 92.6 78.7 91.5 79.0 90.4 79.5 89.4 80.1 88.5 80.6 87.6 81.3 86.7 82.1 86.0 82.9 85.3 84.0 84.6 85.2 84.1Z" fill="#fff"/>
<path d="M83.5 104.0 83.4 102.7 83.4 101.4 83.5 100.1 83.6 99.0 83.8 97.9 84.0 96.8 84.2 95.9 84.5 95.0 84.8 94.2 85.0 93.5 85.3 92.9 85.6 92.3 86.0 91.8 86.5 91.3 87.1 90.9 88.0 90.5 89.1 90.1 90.3 89.9 91.7 89.6 93.3 89.4 94.9 89.2 96.6 89.0 98.3 88.8 100.0 88.5 101.7 88.1 103.6 87.7 105.5 87.3 107.4 86.9 109.4 86.4 111.3 85.9 113.2 85.5 115.0 85.0 116.7 84.5 118.5 84.0 120.2 83.5 121.9 83.0 123.5 82.4 125.1 81.9 126.6 81.5 128.0 81.0 129.4 80.6 130.7 80.1 131.9 79.7 133.1 79.3 134.2 78.9 135.2 78.6 136.2 78.2 137.0 78.0 137.7 77.8 138.3 77.5 138.8 77.3 139.3 77.2 139.6 77.1 140.0 77.1 140.2 77.2 140.5 77.5 140.7 78.0 140.9 78.6 141.1 79.3 141.2 80.2 141.3 81.1 141.3 82.0 141.2 83.0 141.0 84.0 140.7 85.0 140.4 86.0 140.0 87.1 139.6 88.2 139.1 89.4 138.5 90.6 137.8 91.8 137.0 93.0 136.1 94.3 135.2 95.6 134.1 97.0 133.0 98.4 131.8 99.9 130.6 101.3 129.3 102.7 128.0 104.0 126.6 105.3 125.2 106.6 123.7 107.9 122.2 109.2 120.6 110.4 119.1 111.6 117.5 112.8 116.0 114.0 114.5 115.2 113.0 116.4 111.5 117.6 109.9 118.8 108.4 119.9 106.9 120.9 105.5 121.8 104.0 122.5 102.5 123.1 101.1 123.6 99.6 123.9 98.2 124.2 96.8 124.4 95.4 124.4 94.2 124.3 93.0 124.0 91.9 123.6 91.0 123.0 90.1 122.3 89.2 121.4 88.5 120.4 87.8 119.4 87.1 118.2 86.5 117.0 85.9 115.6 85.4 114.1 84.9 112.4 84.5 110.6 84.2 108.8 83.9 107.1 83.7 105.5ZM85.8 105.0 85.7 103.7 85.7 102.6 85.8 101.4 85.9 100.4 86.1 99.4 86.3 98.4 86.5 97.5 86.8 96.7 87.0 95.9 87.3 95.2 87.5 94.6 87.8 94.1 88.2 93.6 88.7 93.1 89.3 92.7 90.2 92.2 91.2 91.9 92.4 91.6 93.7 91.4 95.2 91.2 96.7 91.0 98.3 90.8 99.9 90.5 101.5 90.2 103.1 89.8 104.8 89.4 106.5 89.0 108.3 88.6 110.1 88.1 111.8 87.6 113.5 87.1 115.2 86.7 116.8 86.2 118.4 85.7 119.9 85.1 121.5 84.6 122.9 84.1 124.4 83.6 125.8 83.1 127.1 82.6 128.4 82.1 129.6 81.7 130.8 81.2 131.9 80.8 133.0 80.3 134.0 79.9 135.0 79.6 135.9 79.3 136.7 79.0 137.4 78.6 138.1 78.3 138.7 78.0 139.3 77.9 139.8 77.8 140.2 77.8 140.5 78.1 140.8 78.5 141.0 79.1 141.1 79.8 141.2 80.6 141.2 81.5 141.1 82.5 141.0 83.4 140.7 84.4 140.4 85.4 140.0 86.5 139.5 87.6 139.0 88.7 138.4 89.9 137.7 91.0 136.9 92.2 136.2 93.4 135.3 94.6 134.4 95.9 133.4 97.2 132.4 98.5 131.3 99.8 130.2 101.1 129.0 102.4 127.8 103.7 126.5 104.9 125.2 106.1 123.8 107.3 122.4 108.5 120.9 109.7 119.5 110.9 118.0 112.0 116.6 113.2 115.1 114.3 113.6 115.5 112.1 116.7 110.7 117.8 109.2 118.9 107.7 120.0 106.2 120.8 104.8 121.5 103.4 122.1 102.1 122.6 100.7 122.9 99.3 123.2 98.0 123.3 96.8 123.3 95.6 123.2 94.6 122.9 93.6 122.5 92.7 122.0 91.8 121.4 91.1 120.6 90.4 119.7 89.7 118.8 89.1 117.7 88.5 116.6 88.0 115.4 87.5 114.0 87.1 112.5 86.7 110.9 86.4 109.3 86.1 107.8 85.9 106.3ZM88.1 105.9 88.0 104.8 88.0 103.8 88.1 102.7 88.2 101.8 88.4 100.8 88.6 100.0 88.8 99.1 89.1 98.4 89.3 97.6 89.5 97.0 89.8 96.4 90.1 95.8 90.5 95.3 90.9 94.8 91.5 94.4 92.3 94.0 93.3 93.6 94.4 93.3 95.6 93.0 97.0 92.8 98.4 92.6 99.8 92.3 101.3 92.0 102.8 91.7 104.3 91.3 105.8 90.8 107.4 90.4 109.0 89.9 110.6 89.4 112.2 88.9 113.8 88.4 115.3 87.9 116.8 87.4 118.3 86.8 119.7 86.3 121.2 85.7 122.6 85.2 123.9 84.6 125.3 84.1 126.5 83.6 127.8 83.1 129.0 82.6 130.1 82.1 131.3 81.6 132.4 81.1 133.4 80.7 134.4 80.3 135.3 79.9 136.2 79.6 137.0 79.2 137.7 78.8 138.5 78.5 139.1 78.3 139.6 78.1 140.1 78.2 140.5 78.3 140.8 78.7 141.0 79.3 141.1 80.0 141.2 80.8 141.1 81.7 141.0 82.7 140.8 83.7 140.6 84.6 140.2 85.6 139.8 86.7 139.3 87.8 138.7 88.9 138.0 90.1 137.3 91.3 136.5 92.5 135.7 93.6 134.9 94.8 134.0 96.0 133.1 97.3 132.1 98.5 131.0 99.8 129.9 101.0 128.8 102.2 127.6 103.4 126.4 104.6 125.2 105.8 123.8 107.0 122.5 108.1 121.1 109.3 119.7 110.4 118.3 111.5 117.0 112.6 115.6 113.7 114.2 114.8 112.7 115.9 111.3 117.0 109.8 118.1 108.4 119.1 107.0 119.9 105.7 120.6 104.4 121.1 103.1 121.5 101.8 121.9 100.5 122.1 99.3 122.2 98.2 122.2 97.1 122.1 96.1 121.8 95.2 121.5 94.4 121.0 93.6 120.5 92.9 119.8 92.3 119.0 91.7 118.2 91.1 117.3 90.6 116.3 90.1 115.2 89.7 114.0 89.3 112.6 88.9 111.2 88.6 109.8 88.4 108.4 88.2 107.1ZM90.3 106.9 90.3 105.9 90.3 105.0 90.4 104.0 90.5 103.2 90.7 102.3 90.9 101.5 91.1 100.8 91.3 100.0 91.6 99.4 91.8 98.7 92.1 98.2 92.4 97.6 92.7 97.1 93.2 96.6 93.8 96.2 94.5 95.7 95.4 95.3 96.4 95.0 97.5 94.7 98.7 94.4 100.0 94.1 101.3 93.8 102.7 93.5 104.0 93.1 105.3 92.6 106.7 92.2 108.2 91.7 109.7 91.1 111.1 90.6 112.6 90.1 114.0 89.5 115.4 89.0 116.8 88.4 118.2 87.9 119.6 87.3 120.9 86.7 122.3 86.1 123.6 85.5 124.8 85.0 126.0 84.4 127.2 83.9 128.4 83.3 129.6 82.8 130.7 82.3 131.8 81.8 132.9 81.3 133.9 80.8 134.8 80.4 135.7 80.0 136.6 79.6 137.4 79.2 138.2 78.9 138.9 78.6 139.6 78.4 140.1 78.4 140.5 78.6 140.8 79.0 141.0 79.5 141.1 80.2 141.2 81.0 141.1 81.9 141.0 82.9 140.7 83.8 140.5 84.8 140.1 85.8 139.6 86.9 139.0 88.0 138.4 89.1 137.7 90.3 137.0 91.5 136.2 92.7 135.4 93.8 134.5 95.0 133.7 96.1 132.7 97.3 131.8 98.5 130.8 99.7 129.7 100.9 128.6 102.1 127.5 103.3 126.4 104.4 125.1 105.5 123.9 106.7 122.6 107.8 121.3 108.9 120.0 109.9 118.6 111.0 117.3 112.0 116.0 113.1 114.6 114.1 113.3 115.2 111.9 116.3 110.5 117.3 109.1 118.2 107.8 119.0 106.5 119.6 105.3 120.1 104.1 120.5 102.9 120.8 101.7 121.0 100.6 121.1 99.6 121.1 98.6 120.9 97.7 120.8 96.8 120.5 96.1 120.1 95.4 119.6 94.7 119.0 94.1 118.3 93.6 117.6 93.1 116.8 92.6 115.9 92.2 115.0 91.8 113.9 91.4 112.7 91.1 111.5 90.8 110.3 90.6 109.1 90.4 107.9ZM92.6 107.8 92.6 107.0 92.6 106.2 92.7 105.3 92.8 104.6 93.0 103.8 93.2 103.1 93.4 102.4 93.6 101.7 93.9 101.1 94.1 100.5 94.3 99.9 94.6 99.4 95.0 98.9 95.4 98.4 96.0 97.9 96.6 97.5 97.4 97.0 98.4 96.7 99.4 96.3 100.5 96.0 101.6 95.6 102.8 95.3 104.0 94.9 105.2 94.4 106.4 94.0 107.7 93.4 109.0 92.9 110.3 92.3 111.6 91.8 113.0 91.2 114.3 90.6 115.6 90.0 116.8 89.4 118.1 88.8 119.4 88.2 120.7 87.6 122.0 87.0 123.2 86.4 124.4 85.8 125.6 85.2 126.8 84.6 127.9 84.0 129.1 83.5 130.2 82.9 131.4 82.3 132.4 81.8 133.5 81.3 134.4 80.9 135.4 80.5 136.3 80.0 137.2 79.6 138.0 79.2 138.8 78.9 139.5 78.7 140.1 78.6 140.5 78.8 140.8 79.1 141.0 79.7 141.1 80.4 141.1 81.2 141.1 82.1 140.9 83.0 140.7 84.0 140.4 85.0 140.0 86.0 139.5 87.0 138.9 88.1 138.2 89.3 137.4 90.5 136.7 91.7 135.9 92.8 135.1 94.0 134.2 95.1 133.4 96.2 132.5 97.4 131.5 98.6 130.5 99.7 129.5 100.9 128.5 102.0 127.4 103.1 126.3 104.2 125.1 105.3 123.9 106.4 122.7 107.4 121.4 108.5 120.2 109.5 118.9 110.5 117.7 111.5 116.4 112.5 115.1 113.5 113.8 114.5 112.4 115.5 111.1 116.4 109.8 117.3 108.6 118.1 107.4 118.7 106.2 119.1 105.1 119.5 104.0 119.7 102.9 119.9 101.9 120.0 101.0 119.9 100.1 119.8 99.2 119.7 98.5 119.4 97.8 119.1 97.2 118.7 96.6 118.2 96.0 117.6 95.5 117.0 95.1 116.3 94.7 115.6 94.3 114.8 93.9 113.8 93.6 112.9 93.3 111.8 93.1 110.8 92.9 109.7 92.7 108.8ZM94.9 108.8 94.9 108.1 94.9 107.4 95.0 106.6 95.1 106.0 95.3 105.3 95.5 104.6 95.7 104.0 95.9 103.4 96.1 102.8 96.4 102.2 96.6 101.7 96.9 101.2 97.3 100.7 97.7 100.2 98.2 99.7 98.8 99.2 99.5 98.7 100.3 98.3 101.2 97.9 102.2 97.5 103.2 97.1 104.2 96.7 105.3 96.3 106.3 95.8 107.4 95.2 108.5 94.7 109.7 94.1 110.9 93.5 112.1 92.9 113.3 92.2 114.5 91.6 115.7 91.0 116.8 90.4 118.0 89.7 119.3 89.1 120.5 88.4 121.7 87.8 122.9 87.1 124.0 86.5 125.2 85.9 126.3 85.3 127.5 84.7 128.7 84.0 129.8 83.4 130.9 82.9 132.0 82.3 133.1 81.8 134.1 81.3 135.0 80.8 136.0 80.4 136.9 79.9 137.9 79.5 138.7 79.1 139.4 78.9 140.0 78.8 140.5 79.0 140.8 79.3 141.0 79.8 141.1 80.5 141.1 81.3 141.0 82.2 140.8 83.2 140.6 84.1 140.3 85.1 139.8 86.1 139.3 87.2 138.7 88.3 138.0 89.4 137.2 90.6 136.4 91.8 135.6 93.0 134.8 94.1 134.0 95.2 133.1 96.3 132.2 97.5 131.3 98.6 130.3 99.7 129.3 100.8 128.3 101.9 127.3 103.0 126.2 104.0 125.1 105.1 124.0 106.1 122.8 107.1 121.6 108.1 120.4 109.1 119.2 110.1 118.0 111.0 116.8 111.9 115.5 112.9 114.3 113.8 113.0 114.8 111.7 115.6 110.5 116.4 109.3 117.1 108.2 117.7 107.1 118.1 106.1 118.4 105.1 118.7 104.1 118.8 103.2 118.8 102.3 118.8 101.5 118.7 100.8 118.6 100.1 118.4 99.5 118.1 98.9 117.8 98.4 117.4 97.9 116.9 97.5 116.4 97.1 115.8 96.7 115.2 96.3 114.5 96.0 113.8 95.7 113.0 95.5 112.1 95.3 111.3 95.1 110.4 95.0 109.6ZM97.0 109.7 97.0 109.1 97.0 108.4 97.1 107.8 97.2 107.2 97.4 106.7 97.6 106.1 97.8 105.5 98.0 104.9 98.2 104.4 98.5 103.9 98.7 103.3 99.0 102.8 99.4 102.3 99.8 101.8 100.2 101.3 100.8 100.8 101.4 100.3 102.1 99.8 102.9 99.4 103.7 98.9 104.6 98.5 105.5 98.0 106.4 97.5 107.3 96.9 108.3 96.4 109.3 95.8 110.3 95.1 111.4 94.5 112.5 93.8 113.6 93.2 114.7 92.5 115.8 91.8 116.9 91.2 118.0 90.5 119.1 89.8 120.3 89.2 121.4 88.5 122.6 87.8 123.7 87.2 124.9 86.5 126.0 85.9 127.1 85.2 128.3 84.6 129.4 83.9 130.6 83.3 131.7 82.7 132.7 82.2 133.7 81.7 134.7 81.2 135.7 80.7 136.7 80.2 137.7 79.7 138.6 79.3 139.4 79.1 140.0 79.0 140.5 79.1 140.8 79.5 141.0 80.0 141.1 80.7 141.1 81.5 141.0 82.3 140.8 83.3 140.5 84.3 140.2 85.2 139.7 86.2 139.2 87.3 138.5 88.4 137.8 89.6 137.0 90.8 136.2 91.9 135.4 93.1 134.6 94.2 133.7 95.3 132.9 96.4 132.0 97.5 131.1 98.6 130.2 99.7 129.2 100.7 128.2 101.8 127.2 102.8 126.2 103.8 125.1 104.9 124.0 105.9 122.9 106.9 121.7 107.8 120.6 108.8 119.4 109.7 118.3 110.6 117.1 111.5 115.9 112.4 114.7 113.2 113.5 114.1 112.3 114.9 111.1 115.7 110.0 116.3 109.0 116.8 108.0 117.2 107.0 117.5 106.1 117.7 105.2 117.8 104.4 117.8 103.6 117.8 102.9 117.7 102.2 117.6 101.6 117.5 101.0 117.2 100.5 116.9 100.1 116.6 99.7 116.2 99.3 115.8 98.9 115.4 98.6 114.9 98.3 114.3 98.0 113.7 97.7 113.1 97.5 112.4 97.3 111.7 97.2 111.0 97.0 110.3ZM98.9 110.5 98.9 110.0 98.9 109.4 99.0 108.9 99.1 108.4 99.3 107.9 99.5 107.4 99.7 106.9 99.9 106.3 100.1 105.8 100.4 105.3 100.6 104.8 100.9 104.3 101.3 103.8 101.6 103.3 102.1 102.8 102.6 102.2 103.1 101.7 103.8 101.2 104.4 100.7 105.1 100.2 105.9 99.7 106.7 99.2 107.5 98.6 108.3 98.0 109.1 97.4 110.0 96.7 110.9 96.1 111.9 95.4 112.8 94.7 113.8 94.0 114.8 93.3 115.8 92.6 116.9 91.9 117.9 91.2 119.0 90.5 120.1 89.8 121.2 89.1 122.3 88.4 123.4 87.7 124.5 87.0 125.7 86.4 126.8 85.7 128.0 85.0 129.1 84.3 130.3 83.7 131.4 83.1 132.4 82.5 133.5 82.0 134.5 81.5 135.5 80.9 136.6 80.4 137.6 79.9 138.5 79.5 139.3 79.3 140.0 79.2 140.5 79.3 140.8 79.6 141.1 80.1 141.1 80.8 141.1 81.6 141.0 82.4 140.8 83.4 140.5 84.4 140.1 85.3 139.7 86.3 139.1 87.4 138.4 88.5 137.7 89.7 136.9 90.9 136.0 92.1 135.2 93.2 134.4 94.3 133.5 95.4 132.7 96.5 131.8 97.5 130.9 98.6 130.0 99.6 129.1 100.7 128.1 101.7 127.1 102.7 126.1 103.7 125.1 104.7 124.0 105.7 122.9 106.6 121.8 107.6 120.7 108.5 119.6 109.4 118.5 110.2 117.4 111.0 116.3 111.9 115.1 112.7 114.0 113.5 112.8 114.3 111.7 115.0 110.7 115.5 109.7 116.0 108.7 116.4 107.9 116.6 107.0 116.8 106.2 116.9 105.5 116.9 104.8 116.9 104.1 116.8 103.5 116.7 103.0 116.6 102.5 116.4 102.0 116.2 101.6 115.9 101.2 115.6 100.9 115.3 100.6 115.0 100.3 114.6 100.0 114.2 99.7 113.7 99.5 113.2 99.3 112.7 99.2 112.1 99.0 111.6 98.9 111.0ZM100.6 111.2 100.6 110.8 100.7 110.3 100.7 109.9 100.9 109.5 101.0 109.0 101.2 108.5 101.4 108.1 101.6 107.6 101.8 107.1 102.1 106.6 102.4 106.1 102.7 105.6 103.0 105.1 103.3 104.6 103.8 104.1 104.2 103.5 104.7 103.0 105.2 102.5 105.8 101.9 106.4 101.4 107.0 100.8 107.7 100.2 108.4 99.6 109.1 99.0 109.8 98.3 110.6 97.6 111.4 96.9 112.3 96.2 113.2 95.5 114.1 94.7 115.0 94.0 115.9 93.3 116.9 92.6 117.9 91.8 118.9 91.1 120.0 90.4 121.0 89.6 122.1 88.9 123.2 88.2 124.3 87.5 125.4 86.8 126.5 86.1 127.7 85.4 128.8 84.7 130.0 84.0 131.1 83.4 132.2 82.8 133.2 82.2 134.3 81.7 135.4 81.1 136.4 80.6 137.5 80.1 138.4 79.7 139.3 79.4 140.0 79.3 140.5 79.4 140.9 79.7 141.1 80.2 141.1 80.9 141.1 81.7 141.0 82.5 140.7 83.5 140.4 84.5 140.1 85.4 139.6 86.4 139.0 87.5 138.3 88.6 137.5 89.8 136.7 91.0 135.9 92.1 135.0 93.3 134.2 94.4 133.4 95.5 132.5 96.5 131.7 97.6 130.8 98.6 129.9 99.6 129.0 100.6 128.0 101.6 127.1 102.6 126.1 103.6 125.1 104.5 124.0 105.5 123.0 106.4 121.9 107.3 120.9 108.2 119.8 109.1 118.8 109.9 117.7 110.7 116.6 111.5 115.5 112.2 114.4 113.0 113.3 113.7 112.2 114.3 111.2 114.9 110.3 115.3 109.4 115.6 108.6 115.8 107.9 116.0 107.1 116.0 106.5 116.1 105.8 116.0 105.3 116.0 104.7 115.9 104.2 115.8 103.7 115.7 103.3 115.5 103.0 115.3 102.6 115.1 102.3 114.9 102.1 114.6 101.8 114.3 101.6 114.0 101.3 113.6 101.1 113.3 101.0 112.9 100.8 112.5 100.7 112.0 100.6 111.6Z" fill="none" stroke="#000" stroke-width="1.05"/>
<path d="M102.5 112.0 102.5 111.7 102.6 111.3 102.7 111.0 102.8 110.6 102.9 110.2 103.1 109.8 103.3 109.4 103.5 109.0 103.7 108.6 104.0 108.1 104.3 107.6 104.6 107.1 104.9 106.6 105.2 106.1 105.6 105.6 106.0 105.0 106.4 104.4 106.8 103.8 107.3 103.2 107.8 102.6 108.3 102.0 108.8 101.3 109.4 100.7 110.0 100.0 110.6 99.3 111.3 98.6 112.0 97.8 112.8 97.1 113.5 96.3 114.3 95.5 115.1 94.8 116.0 94.0 116.9 93.2 117.8 92.5 118.8 91.7 119.8 91.0 120.8 90.2 121.9 89.5 122.9 88.7 124.0 88.0 125.1 87.3 126.2 86.5 127.4 85.8 128.5 85.1 129.7 84.4 130.8 83.7 131.9 83.1 133.0 82.5 134.1 81.9 135.2 81.4 136.3 80.8 137.3 80.3 138.3 79.9 139.2 79.6 140.0 79.4 140.5 79.5 140.9 79.8 141.1 80.3 141.1 81.0 141.1 81.8 140.9 82.6 140.7 83.6 140.4 84.5 140.0 85.5 139.5 86.5 138.9 87.6 138.2 88.7 137.4 89.9 136.6 91.1 135.7 92.2 134.8 93.4 134.0 94.5 133.2 95.6 132.3 96.6 131.5 97.6 130.6 98.6 129.7 99.6 128.8 100.6 127.9 101.6 127.0 102.5 126.0 103.4 125.1 104.4 124.1 105.3 123.1 106.2 122.0 107.1 121.0 107.9 120.0 108.7 119.0 109.5 118.0 110.3 116.9 111.0 115.9 111.7 114.8 112.4 113.8 113.0 112.8 113.6 111.9 114.1 111.0 114.5 110.2 114.8 109.5 115.0 108.8 115.1 108.2 115.1 107.6 115.1 107.0 115.1 106.5 115.0 106.0 115.0 105.6 115.0 105.2 114.9 104.8 114.8 104.5 114.7 104.2 114.5 104.0 114.4 103.7 114.2 103.5 114.0 103.3 113.8 103.1 113.6 102.9 113.4 102.8 113.1 102.7 112.9 102.6 112.6 102.5 112.3Z" fill="#2e2e2e"/>
<path d="M108 110L118 102L128 94L139 83" fill="none" stroke="#bbb" stroke-width="0.8"/>
<path d="M104 107L114 99L124 91.5L134 85" fill="none" stroke="#666" stroke-width="0.7"/>
<path d="M108 114L120 106L130 98L138 89" fill="none" stroke="#666" stroke-width="0.7"/>
<path d="M86.6 83.6 88.3 83.2 90.1 83.0 92.2 82.9 94.4 82.8 96.7 82.8 99.1 82.7 101.6 82.6 104.0 82.3 106.6 81.9 109.3 81.5 112.2 81.0 115.1 80.5 118.0 80.0 120.7 79.5 123.2 79.0 125.4 78.5 127.3 78.1 128.9 77.6 130.4 77.2 131.7 76.7 132.9 76.3 134.0 75.9 135.0 75.6 136.0 75.3 136.9 75.1 137.8 74.9 138.5 74.7 139.2 74.6 139.8 74.5 140.3 74.4 140.9 74.3 141.4 74.3 141.9 74.2 142.5 74.2 143.0 74.1 143.5 74.0 143.9 74.1 144.2 74.2 144.4 74.4 144.5 74.8 144.4 75.4 144.1 76.1 143.8 76.9 143.3 77.8 142.8 78.8 142.3 79.8 141.9 80.9 141.6 82.0 141.4 83.1 141.3 84.3 141.2 85.6 141.1 86.9 141.0 88.2 141.0 89.5 141.0 90.8 141.0 92.0 141.0 93.2 141.0 94.4 141.0 95.6 141.0 96.7 141.1 97.9 141.2 98.9 141.3 100.0 141.5 101.0 141.8 102.0 142.3 102.9 142.9 103.8 143.6 104.6 144.1 105.4 144.5 106.2 144.7 106.9 144.5 107.5 144.0 108.0 143.2 108.4 142.2 108.8 141.1 109.1 139.8 109.3 138.5 109.7 137.2 110.1 136.0 110.6 134.8 111.2 133.5 112.0 132.2 112.8 130.8 113.6 129.5 114.5 128.1 115.3 126.7 116.2 125.4 117.0 124.1 117.8 122.7 118.6 121.4 119.4 120.1 120.2 118.7 121.0 117.4 121.8 116.0 122.6 114.7 123.4 113.4 124.2 112.0 125.1 110.7 126.0 109.3 126.8 108.0 127.7 106.7 128.4 105.3 129.0 104.0 129.5 102.6 129.8 101.3 130.0 99.9 130.2 98.5 130.2 97.1 130.1 95.8 130.0 94.5 129.9 93.4 129.7 92.4 129.5 91.4 129.2 90.5 128.8 89.6 128.4 88.8 127.9 88.1 127.4 87.3 126.9 86.6 126.3 85.9 125.7 85.2 125.1 84.6 124.4 84.0 123.7 83.4 123.0 82.9 122.2 82.3 121.4 81.8 120.5 81.3 119.6 80.8 118.6 80.3 117.6 79.8 116.5 79.4 115.4 79.0 114.2 78.7 113.0 78.4 111.7 78.2 110.3 78.0 108.7 77.9 107.1 77.8 105.5 77.8 103.8 77.8 102.1 77.8 100.6 77.9 99.1 78.0 97.7 78.0 96.4 78.1 95.1 78.2 93.8 78.4 92.6 78.7 91.5 79.0 90.4 79.5 89.4 80.1 88.5 80.6 87.6 81.3 86.7 82.1 86.0 82.9 85.3 84.0 84.6 85.2 84.1Z" fill="none" stroke="#000" stroke-width="1.0"/>
<path d="M213.0 89.5 212.6 87.9 212.1 87.2 211.5 87.3 210.9 87.8 210.2 88.8 209.6 90.0 209.0 91.3 208.6 92.5 208.3 93.8 208.0 95.3 207.8 97.1 207.6 99.0 207.5 101.0 207.4 103.1 207.3 105.1 207.3 107.0 207.3 108.9 207.4 111.0 207.5 113.1 207.6 115.2 207.8 117.2 208.0 119.0 208.3 120.7 208.6 122.0 209.0 123.3 209.6 124.6 210.2 125.9 210.9 126.9 211.5 127.6 212.1 127.7 212.6 127.0 213.0 125.5 213.2 122.6 213.4 118.4 213.5 113.2 213.6 107.5 213.5 101.9 213.4 96.7 213.2 92.4Z" fill="#fff"/>
<path d="M213.0 97.0 212.7 96.1 212.3 95.6 211.8 95.7 211.3 96.1 210.8 96.7 210.3 97.4 209.9 98.3 209.6 99.0 209.4 99.8 209.3 100.8 209.2 101.9 209.2 103.1 209.2 104.3 209.2 105.6 209.2 106.8 209.2 108.0 209.2 109.2 209.2 110.4 209.2 111.7 209.2 112.9 209.2 114.1 209.3 115.2 209.4 116.2 209.6 117.0 209.9 117.7 210.3 118.6 210.8 119.3 211.3 119.9 211.8 120.3 212.3 120.4 212.7 119.9 213.0 119.0 213.2 117.2 213.3 114.6 213.4 111.5 213.4 108.0 213.4 104.5 213.3 101.4 213.2 98.8Z" fill="#999"/>
<path d="M213.0 89.5 212.6 87.9 212.1 87.2 211.5 87.3 210.9 87.8 210.2 88.8 209.6 90.0 209.0 91.3 208.6 92.5 208.3 93.8 208.0 95.3 207.8 97.1 207.6 99.0 207.5 101.0 207.4 103.1 207.3 105.1 207.3 107.0 207.3 108.9 207.4 111.0 207.5 113.1 207.6 115.2 207.8 117.2 208.0 119.0 208.3 120.7 208.6 122.0 209.0 123.3 209.6 124.6 210.2 125.9 210.9 126.9 211.5 127.6 212.1 127.7 212.6 127.0 213.0 125.5 213.2 122.6 213.4 118.4 213.5 113.2 213.6 107.5 213.5 101.9 213.4 96.7 213.2 92.4Z" fill="none" stroke="#000" stroke-width="1.0"/>
</g>
<rect x="58" y="28.6" width="153.3" height="153.20000000000002" fill="none" stroke="#6a6a6a" stroke-width="1.1"/>
<path d="M54.2 41.3H58 M54.2 72.2H58 M54.2 103.2H58 M54.2 134.9H58 M54.2 160.4H58 M56.0 125.4H58 M56.0 119.8H58 M56.0 115.8H58 M56.0 112.7H58 M56.0 110.2H58 M56.0 108.1H58 M56.0 106.3H58 M56.0 104.7H58 M56.0 93.9H58 M56.0 88.4H58 M56.0 84.5H58 M56.0 81.5H58 M56.0 79.1H58 M56.0 77.0H58 M56.0 75.2H58 M56.0 73.6H58 M56.0 62.9H58 M56.0 57.5H58 M56.0 53.6H58 M56.0 50.6H58 M56.0 48.2H58 M56.0 46.1H58 M56.0 44.3H58 M56.0 42.7H58 M56.0 32.0H58 M56.0 142.9H58 M56.0 149.9H58 M56.0 155.9H58 M56.0 166.4H58 M56.0 172.4H58 M56.0 177.4H58 M85.4 181.8V185.3 M103.6 181.8V185.3 M136.5 181.8V185.3 M168.0 181.8V185.3 M199.6 181.8V185.3 M113.5 181.8V183.8 M119.3 181.8V183.8 M123.4 181.8V183.8 M126.6 181.8V183.8 M129.2 181.8V183.8 M131.4 181.8V183.8 M133.3 181.8V183.8 M135.0 181.8V183.8 M146.0 181.8V183.8 M151.5 181.8V183.8 M155.5 181.8V183.8 M158.5 181.8V183.8 M161.0 181.8V183.8 M163.1 181.8V183.8 M164.9 181.8V183.8 M166.6 181.8V183.8 M177.5 181.8V183.8 M183.1 181.8V183.8 M187.0 181.8V183.8 M190.1 181.8V183.8 M192.6 181.8V183.8 M194.7 181.8V183.8 M196.5 181.8V183.8 M198.2 181.8V183.8 M66.0 181.8V183.8 M72.0 181.8V183.8 M78.0 181.8V183.8 M91.0 181.8V183.8 M97.0 181.8V183.8" stroke="#444" stroke-width="0.9" fill="none"/>
<rect x="84.4" y="181.8" width="2" height="3.4" fill="#111"/><rect x="55.0" y="159.2" width="3" height="2.6" fill="#111"/>
<text x="35.2" y="45.7" font-size="11">10<tspan font-size="7.8" dy="-4.8">5</tspan></text>
<text x="35.2" y="76.6" font-size="11">10<tspan font-size="7.8" dy="-4.8">4</tspan></text>
<text x="35.2" y="107.6" font-size="11">10<tspan font-size="7.8" dy="-4.8">3</tspan></text>
<text x="35.2" y="139.3" font-size="11">10<tspan font-size="7.8" dy="-4.8">2</tspan></text>
<text x="51.2" y="164.5" font-size="11" text-anchor="end">0</text>
<text x="85.4" y="200.60000000000002" font-size="11" text-anchor="middle">0</text>
<text x="95.19999999999999" y="200.60000000000002" font-size="11">10<tspan font-size="7.8" dy="-4.8">2</tspan></text>
<text x="128.1" y="200.60000000000002" font-size="11">10<tspan font-size="7.8" dy="-4.8">3</tspan></text>
<text x="159.6" y="200.60000000000002" font-size="11">10<tspan font-size="7.8" dy="-4.8">4</tspan></text>
<text x="191.2" y="200.60000000000002" font-size="11">10<tspan font-size="7.8" dy="-4.8">5</tspan></text>
<text x="105.8" y="23.8" font-size="14.45">Naive</text>
<rect x="145.3" y="33.4" width="65.6" height="123.6" fill="none" stroke="#000" stroke-width="2.7"/>
<text x="206" y="177.3" font-size="14.7" text-anchor="end">6.4±0.9%</text>
<clipPath id="clip1"><rect x="253.3" y="28.5" width="153.7" height="153.3"/></clipPath>
<g clip-path="url(#clip1)">
<path d="M271.6 99.7h1v1h-1zM295.2 86.4h1v1h-1zM362.2 87.0h1v1h-1zM402.5 87.0h1v1h-1zM318.6 82.5h1v1h-1zM351.5 72.7h1v1h-1zM295.3 126.0h1v1h-1zM400.1 68.1h1v1h-1zM275.0 115.2h1v1h-1zM375.4 88.7h1v1h-1zM374.4 124.0h1v1h-1zM290.6 116.4h1v1h-1zM273.6 95.5h1v1h-1zM400.8 126.2h1v1h-1zM281.9 115.0h1v1h-1zM394.0 129.5h1v1h-1zM290.0 116.9h1v1h-1zM371.8 128.9h1v1h-1zM311.2 128.6h1v1h-1zM320.4 125.2h1v1h-1zM370.1 87.5h1v1h-1zM269.5 96.7h1v1h-1zM332.1 75.9h1v1h-1zM337.6 125.4h1v1h-1zM354.6 123.9h1v1h-1zM339.1 127.3h1v1h-1zM343.4 76.2h1v1h-1zM377.7 78.8h1v1h-1zM354.3 124.1h1v1h-1zM385.4 125.5h1v1h-1zM298.3 75.7h1v1h-1zM351.0 71.7h1v1h-1zM403.8 87.3h1v1h-1zM404.9 87.8h1v1h-1zM388.8 74.1h1v1h-1zM349.0 76.9h1v1h-1zM369.8 82.4h1v1h-1zM341.1 68.6h1v1h-1zM303.5 80.0h1v1h-1zM345.4 70.9h1v1h-1zM401.9 88.8h1v1h-1zM394.2 125.6h1v1h-1zM303.9 124.5h1v1h-1zM296.4 119.8h1v1h-1zM271.6 94.1h1v1h-1zM376.6 81.6h1v1h-1zM343.1 73.9h1v1h-1zM323.6 81.9h1v1h-1zM344.0 132.4h1v1h-1zM404.7 127.1h1v1h-1zM288.3 114.5h1v1h-1zM293.6 121.1h1v1h-1zM369.2 125.8h1v1h-1zM377.5 127.3h1v1h-1zM302.0 84.3h1v1h-1zM402.2 126.7h1v1h-1zM365.4 124.1h1v1h-1zM259.5 85.8h1v1h-1zM360.1 85.9h1v1h-1zM366.4 81.0h1v1h-1zM282.2 110.4h1v1h-1zM396.5 134.2h1v1h-1zM397.8 126.6h1v1h-1zM377.3 80.7h1v1h-1zM393.2 78.2h1v1h-1zM363.6 85.8h1v1h-1zM325.0 80.6h1v1h-1zM393.3 79.4h1v1h-1zM383.1 125.6h1v1h-1zM364.4 86.9h1v1h-1zM264.2 114.0h1v1h-1zM370.1 87.1h1v1h-1zM335.0 137.3h1v1h-1zM293.4 117.9h1v1h-1zM323.3 79.4h1v1h-1zM400.3 126.3h1v1h-1zM389.7 86.1h1v1h-1zM284.0 92.3h1v1h-1zM357.8 86.0h1v1h-1zM272.2 97.3h1v1h-1zM360.8 86.7h1v1h-1zM302.8 87.3h1v1h-1zM305.1 80.4h1v1h-1zM405.8 133.2h1v1h-1zM317.6 82.8h1v1h-1zM379.1 85.7h1v1h-1zM290.2 90.3h1v1h-1zM332.4 78.3h1v1h-1zM300.8 83.7h1v1h-1zM394.4 90.1h1v1h-1zM291.2 116.7h1v1h-1zM278.2 108.6h1v1h-1zM389.8 88.7h1v1h-1zM319.3 124.8h1v1h-1zM372.2 125.9h1v1h-1zM407.7 85.1h1v1h-1zM390.2 84.0h1v1h-1zM305.7 122.2h1v1h-1zM371.3 90.3h1v1h-1zM352.1 127.5h1v1h-1zM330.5 66.9h1v1h-1zM279.7 109.5h1v1h-1zM290.5 88.4h1v1h-1zM311.7 83.0h1v1h-1zM362.2 128.4h1v1h-1zM298.0 83.3h1v1h-1zM388.6 126.5h1v1h-1zM405.0 128.1h1v1h-1zM327.9 134.2h1v1h-1zM315.7 78.1h1v1h-1zM357.6 80.2h1v1h-1zM337.9 76.2h1v1h-1zM302.0 87.4h1v1h-1zM324.6 130.0h1v1h-1zM300.2 124.0h1v1h-1zM328.4 80.4h1v1h-1zM346.1 77.4h1v1h-1zM400.1 125.8h1v1h-1zM305.7 122.1h1v1h-1zM346.8 61.1h1v1h-1zM263.0 117.4h1v1h-1zM315.7 82.0h1v1h-1zM306.8 86.2h1v1h-1zM336.3 77.3h1v1h-1zM380.9 139.4h1v1h-1zM281.9 92.4h1v1h-1zM285.2 121.4h1v1h-1zM378.7 82.4h1v1h-1zM378.2 89.1h1v1h-1zM358.5 123.9h1v1h-1zM380.8 125.7h1v1h-1zM327.9 129.9h1v1h-1zM300.5 84.5h1v1h-1zM396.8 84.0h1v1h-1zM294.0 90.0h1v1h-1zM369.0 86.8h1v1h-1zM350.0 127.2h1v1h-1zM284.3 89.0h1v1h-1zM367.0 89.0h1v1h-1zM264.5 100.4h1v1h-1zM285.8 113.4h1v1h-1zM391.2 88.4h1v1h-1zM337.1 66.4h1v1h-1zM284.7 125.7h1v1h-1zM351.3 78.1h1v1h-1zM406.4 127.9h1v1h-1zM286.7 84.4h1v1h-1zM312.7 84.7h1v1h-1zM263.3 108.6h1v1h-1zM335.6 129.9h1v1h-1zM365.5 89.4h1v1h-1zM270.2 95.7h1v1h-1zM393.3 90.3h1v1h-1zM317.6 78.1h1v1h-1zM365.0 86.0h1v1h-1zM301.8 130.5h1v1h-1zM323.4 131.7h1v1h-1zM309.3 84.7h1v1h-1zM381.8 130.6h1v1h-1zM338.8 69.0h1v1h-1zM400.8 125.3h1v1h-1zM346.2 71.0h1v1h-1zM372.9 90.9h1v1h-1zM379.5 90.2h1v1h-1zM382.9 90.9h1v1h-1zM377.0 131.8h1v1h-1zM379.9 88.3h1v1h-1zM346.6 69.5h1v1h-1zM349.9 77.8h1v1h-1zM398.0 125.8h1v1h-1zM376.5 78.8h1v1h-1zM309.1 74.8h1v1h-1zM313.1 82.1h1v1h-1zM343.1 135.8h1v1h-1zM397.2 91.1h1v1h-1zM310.1 80.1h1v1h-1zM373.4 124.1h1v1h-1zM402.2 89.1h1v1h-1zM282.9 111.5h1v1h-1zM273.9 142.6h1v1h-1zM377.9 125.1h1v1h-1zM276.8 108.3h1v1h-1zM406.6 145.9h1v1h-1zM271.6 101.3h1v1h-1zM283.1 92.0h1v1h-1zM361.7 128.0h1v1h-1zM318.5 133.4h1v1h-1zM289.2 125.4h1v1h-1zM297.3 88.7h1v1h-1zM291.2 90.1h1v1h-1zM344.0 66.4h1v1h-1zM395.1 84.1h1v1h-1zM397.0 126.2h1v1h-1zM276.3 97.1h1v1h-1zM325.1 128.2h1v1h-1zM377.9 124.5h1v1h-1zM281.5 114.0h1v1h-1zM328.6 127.0h1v1h-1zM271.7 99.0h1v1h-1zM361.5 124.5h1v1h-1zM273.1 97.2h1v1h-1zM383.1 88.4h1v1h-1zM296.3 126.3h1v1h-1zM336.9 75.4h1v1h-1zM407.2 135.4h1v1h-1zM328.2 133.5h1v1h-1zM353.9 127.6h1v1h-1zM260.6 94.0h1v1h-1zM272.8 91.7h1v1h-1zM289.6 90.1h1v1h-1zM284.4 92.7h1v1h-1zM397.3 83.3h1v1h-1zM374.1 126.8h1v1h-1zM329.9 128.9h1v1h-1zM272.3 99.8h1v1h-1zM392.4 128.0h1v1h-1zM290.2 86.4h1v1h-1zM362.0 128.2h1v1h-1zM345.8 135.0h1v1h-1zM379.9 124.6h1v1h-1zM312.1 133.7h1v1h-1zM342.4 125.6h1v1h-1zM342.1 125.0h1v1h-1zM262.8 94.7h1v1h-1zM336.3 74.9h1v1h-1zM317.6 78.7h1v1h-1zM328.6 127.4h1v1h-1zM360.2 81.4h1v1h-1zM393.2 124.8h1v1h-1zM349.8 80.5h1v1h-1zM334.7 125.9h1v1h-1zM330.2 133.0h1v1h-1zM301.2 121.4h1v1h-1zM357.0 72.8h1v1h-1zM313.8 125.7h1v1h-1zM277.2 95.0h1v1h-1zM333.3 128.6h1v1h-1zM321.2 79.9h1v1h-1zM308.8 85.9h1v1h-1zM359.2 130.5h1v1h-1zM320.3 127.8h1v1h-1zM370.8 129.9h1v1h-1zM259.8 105.5h1v1h-1zM303.0 124.8h1v1h-1zM359.1 131.3h1v1h-1zM381.0 124.3h1v1h-1zM332.3 76.5h1v1h-1zM328.3 80.1h1v1h-1zM326.4 61.6h1v1h-1zM273.9 78.0h1v1h-1zM346.8 71.3h1v1h-1zM398.7 89.3h1v1h-1zM303.4 121.1h1v1h-1zM385.0 128.2h1v1h-1zM403.1 89.9h1v1h-1zM356.3 80.5h1v1h-1zM366.6 130.1h1v1h-1zM308.9 130.5h1v1h-1zM319.9 135.8h1v1h-1zM332.5 70.7h1v1h-1zM276.5 117.9h1v1h-1zM308.8 122.7h1v1h-1zM270.5 108.2h1v1h-1zM397.4 81.7h1v1h-1zM395.6 130.4h1v1h-1zM266.2 108.7h1v1h-1zM321.6 72.8h1v1h-1zM397.8 88.0h1v1h-1zM350.5 125.6h1v1h-1zM353.3 82.6h1v1h-1zM393.9 126.2h1v1h-1zM387.5 82.9h1v1h-1zM288.7 91.1h1v1h-1zM299.3 86.3h1v1h-1zM350.9 78.9h1v1h-1zM373.4 129.0h1v1h-1zM282.7 87.9h1v1h-1zM307.7 125.9h1v1h-1zM381.5 129.2h1v1h-1zM380.8 85.8h1v1h-1zM347.4 64.5h1v1h-1zM276.1 106.3h1v1h-1zM303.9 83.9h1v1h-1zM334.5 128.7h1v1h-1zM327.5 80.8h1v1h-1zM315.4 125.5h1v1h-1zM346.7 71.0h1v1h-1zM402.2 85.2h1v1h-1zM322.9 82.2h1v1h-1zM382.4 128.1h1v1h-1zM295.6 119.1h1v1h-1zM379.6 124.2h1v1h-1zM316.6 76.4h1v1h-1zM372.6 86.6h1v1h-1zM401.3 129.2h1v1h-1zM292.5 121.0h1v1h-1zM351.5 126.1h1v1h-1zM265.5 100.3h1v1h-1zM292.2 82.8h1v1h-1zM356.4 130.4h1v1h-1zM379.9 85.0h1v1h-1zM327.5 80.9h1v1h-1zM368.6 124.0h1v1h-1zM309.5 76.5h1v1h-1zM405.3 125.9h1v1h-1zM358.4 125.1h1v1h-1zM385.2 89.3h1v1h-1zM271.8 104.1h1v1h-1zM272.8 96.9h1v1h-1zM330.7 75.7h1v1h-1zM337.0 76.0h1v1h-1zM381.3 88.3h1v1h-1zM338.7 65.4h1v1h-1zM323.6 81.7h1v1h-1zM364.2 88.9h1v1h-1zM303.6 122.5h1v1h-1zM267.7 104.2h1v1h-1zM315.9 81.2h1v1h-1zM366.3 125.9h1v1h-1zM331.8 126.7h1v1h-1zM314.4 124.5h1v1h-1zM401.6 124.8h1v1h-1zM294.5 84.7h1v1h-1zM331.0 127.8h1v1h-1zM289.4 117.0h1v1h-1zM279.5 81.5h1v1h-1zM382.5 124.8h1v1h-1zM304.8 122.5h1v1h-1zM275.0 114.5h1v1h-1zM282.7 94.2h1v1h-1zM319.2 126.4h1v1h-1zM370.3 125.4h1v1h-1zM269.0 117.8h1v1h-1zM335.7 75.3h1v1h-1zM356.9 83.6h1v1h-1zM327.6 136.1h1v1h-1zM290.1 90.0h1v1h-1zM308.2 123.0h1v1h-1zM332.8 79.0h1v1h-1zM288.0 114.8h1v1h-1zM279.0 120.5h1v1h-1zM387.8 126.0h1v1h-1zM408.1 134.2h1v1h-1zM270.6 92.4h1v1h-1zM297.4 87.0h1v1h-1zM327.8 80.6h1v1h-1zM296.8 87.6h1v1h-1zM390.9 91.4h1v1h-1zM383.0 133.7h1v1h-1zM269.9 103.0h1v1h-1zM309.3 124.7h1v1h-1zM394.0 125.5h1v1h-1zM401.9 68.2h1v1h-1zM371.0 83.8h1v1h-1zM279.7 109.2h1v1h-1zM342.5 74.5h1v1h-1zM350.8 80.0h1v1h-1zM318.1 125.9h1v1h-1zM299.5 124.9h1v1h-1zM307.6 79.5h1v1h-1zM333.2 78.4h1v1h-1zM388.7 127.7h1v1h-1zM279.9 94.6h1v1h-1zM382.0 86.9h1v1h-1zM404.0 125.1h1v1h-1zM371.9 124.5h1v1h-1zM332.4 141.2h1v1h-1zM317.9 77.5h1v1h-1zM330.8 126.2h1v1h-1zM273.3 92.9h1v1h-1zM305.0 84.5h1v1h-1zM268.6 99.2h1v1h-1zM353.2 69.9h1v1h-1zM297.3 78.8h1v1h-1zM331.0 77.8h1v1h-1zM324.3 125.1h1v1h-1zM329.0 125.4h1v1h-1zM355.3 84.3h1v1h-1zM359.7 86.7h1v1h-1zM361.4 126.4h1v1h-1zM294.8 89.5h1v1h-1zM289.5 88.3h1v1h-1zM404.0 131.9h1v1h-1zM280.4 110.0h1v1h-1zM272.8 109.0h1v1h-1zM300.8 120.4h1v1h-1zM358.4 73.1h1v1h-1zM389.7 89.7h1v1h-1zM389.0 126.5h1v1h-1zM300.9 124.3h1v1h-1zM359.4 129.3h1v1h-1zM401.6 86.6h1v1h-1zM275.0 95.0h1v1h-1zM292.6 84.0h1v1h-1zM322.9 81.8h1v1h-1zM325.2 76.8h1v1h-1zM392.1 82.3h1v1h-1zM321.4 80.8h1v1h-1zM279.7 91.2h1v1h-1zM369.2 90.3h1v1h-1zM402.1 126.1h1v1h-1zM281.1 126.6h1v1h-1zM272.2 109.6h1v1h-1zM363.3 124.2h1v1h-1zM278.4 94.1h1v1h-1zM399.2 86.8h1v1h-1zM267.2 100.7h1v1h-1zM288.6 123.0h1v1h-1zM406.7 132.8h1v1h-1zM324.3 127.3h1v1h-1zM330.5 75.3h1v1h-1zM299.4 123.6h1v1h-1zM322.8 76.9h1v1h-1zM298.9 122.1h1v1h-1zM344.5 128.0h1v1h-1zM378.2 125.1h1v1h-1zM359.9 78.2h1v1h-1zM402.5 90.5h1v1h-1zM310.7 82.2h1v1h-1zM292.3 124.5h1v1h-1zM348.2 125.4h1v1h-1zM312.5 125.9h1v1h-1zM289.9 88.4h1v1h-1zM282.4 119.1h1v1h-1zM352.1 82.8h1v1h-1zM394.1 130.9h1v1h-1zM402.2 131.6h1v1h-1zM343.0 71.8h1v1h-1zM284.8 113.4h1v1h-1zM397.1 125.2h1v1h-1zM315.7 83.8h1v1h-1zM322.2 72.3h1v1h-1zM337.2 60.4h1v1h-1zM321.1 125.3h1v1h-1zM322.6 67.9h1v1h-1zM284.2 89.6h1v1h-1zM367.2 126.6h1v1h-1zM322.8 74.4h1v1h-1zM320.4 125.3h1v1h-1zM252.3 91.1h1v1h-1zM375.3 89.5h1v1h-1zM272.9 96.3h1v1h-1zM376.7 88.2h1v1h-1zM392.9 128.2h1v1h-1zM377.6 124.4h1v1h-1zM294.8 89.4h1v1h-1zM303.1 78.4h1v1h-1zM266.0 101.0h1v1h-1zM368.7 148.3h1v1h-1zM387.5 129.3h1v1h-1zM341.6 75.3h1v1h-1zM287.2 88.6h1v1h-1zM270.6 94.3h1v1h-1zM381.0 89.9h1v1h-1zM313.8 78.0h1v1h-1zM352.5 81.9h1v1h-1zM276.9 108.2h1v1h-1zM312.5 125.6h1v1h-1zM387.0 125.3h1v1h-1zM388.0 124.5h1v1h-1zM292.7 124.8h1v1h-1zM314.0 66.6h1v1h-1zM311.0 83.2h1v1h-1zM371.5 87.9h1v1h-1zM357.3 84.8h1v1h-1zM366.9 89.5h1v1h-1zM392.6 89.8h1v1h-1zM406.6 87.8h1v1h-1zM335.3 67.4h1v1h-1zM325.5 128.5h1v1h-1zM378.8 133.0h1v1h-1zM297.4 121.2h1v1h-1zM299.4 85.5h1v1h-1zM278.8 91.7h1v1h-1zM321.7 130.3h1v1h-1zM281.6 119.3h1v1h-1zM362.8 125.0h1v1h-1zM383.3 124.9h1v1h-1zM393.2 136.1h1v1h-1zM354.5 124.3h1v1h-1zM324.8 77.7h1v1h-1zM270.6 101.3h1v1h-1zM317.9 130.9h1v1h-1zM311.4 79.1h1v1h-1zM342.8 74.0h1v1h-1zM336.9 74.1h1v1h-1zM317.7 75.5h1v1h-1zM319.9 80.9h1v1h-1zM347.3 126.3h1v1h-1zM270.3 119.1h1v1h-1zM382.3 125.6h1v1h-1zM281.4 112.2h1v1h-1zM398.0 88.4h1v1h-1zM370.3 126.4h1v1h-1zM326.3 81.1h1v1h-1zM379.2 88.4h1v1h-1zM397.1 90.3h1v1h-1zM357.9 124.7h1v1h-1zM379.4 126.1h1v1h-1zM286.4 113.9h1v1h-1zM296.9 120.3h1v1h-1zM358.1 85.9h1v1h-1zM289.1 118.1h1v1h-1zM389.5 127.8h1v1h-1zM283.1 91.1h1v1h-1zM310.1 126.1h1v1h-1zM271.2 102.1h1v1h-1zM268.1 103.4h1v1h-1zM296.8 120.3h1v1h-1zM326.6 79.5h1v1h-1zM372.2 83.0h1v1h-1zM351.2 81.4h1v1h-1zM278.1 108.2h1v1h-1zM372.9 124.4h1v1h-1zM324.4 125.2h1v1h-1zM353.6 82.9h1v1h-1zM292.2 87.9h1v1h-1zM350.1 79.7h1v1h-1zM348.8 124.2h1v1h-1zM382.7 90.5h1v1h-1zM300.3 85.6h1v1h-1zM316.8 83.4h1v1h-1zM278.9 132.6h1v1h-1zM255.1 96.1h1v1h-1zM324.0 139.5h1v1h-1zM362.1 87.2h1v1h-1zM385.4 83.1h1v1h-1zM384.5 125.2h1v1h-1zM320.7 130.2h1v1h-1zM320.9 80.8h1v1h-1zM395.1 128.2h1v1h-1zM271.2 117.5h1v1h-1zM389.0 129.7h1v1h-1zM315.4 132.3h1v1h-1zM377.0 90.7h1v1h-1zM374.5 131.8h1v1h-1zM325.7 81.5h1v1h-1zM392.9 91.4h1v1h-1zM390.1 91.3h1v1h-1zM371.7 84.3h1v1h-1zM272.7 96.2h1v1h-1zM318.7 126.0h1v1h-1zM327.0 77.7h1v1h-1zM275.2 95.8h1v1h-1zM268.6 106.5h1v1h-1zM321.6 82.2h1v1h-1zM314.0 123.8h1v1h-1zM407.7 84.6h1v1h-1zM284.7 114.7h1v1h-1zM276.1 115.0h1v1h-1zM395.1 125.8h1v1h-1zM291.3 131.5h1v1h-1zM407.0 130.6h1v1h-1zM269.8 100.3h1v1h-1zM361.3 85.0h1v1h-1zM308.2 84.4h1v1h-1zM370.1 126.5h1v1h-1zM373.4 126.1h1v1h-1zM329.3 126.7h1v1h-1zM390.0 127.6h1v1h-1zM284.0 113.8h1v1h-1zM376.9 129.4h1v1h-1zM366.4 124.3h1v1h-1zM296.1 123.1h1v1h-1zM318.1 127.8h1v1h-1zM308.5 124.4h1v1h-1zM326.6 126.2h1v1h-1zM393.8 131.0h1v1h-1zM294.8 89.8h1v1h-1zM302.8 125.9h1v1h-1zM292.7 86.6h1v1h-1zM267.3 96.7h1v1h-1zM330.6 128.8h1v1h-1zM370.0 135.1h1v1h-1zM359.6 132.3h1v1h-1zM351.6 125.9h1v1h-1zM335.2 127.9h1v1h-1zM384.2 129.1h1v1h-1zM297.3 120.5h1v1h-1zM354.0 84.2h1v1h-1zM337.5 69.4h1v1h-1zM380.4 126.0h1v1h-1zM373.8 125.9h1v1h-1zM377.5 125.6h1v1h-1zM287.3 116.2h1v1h-1zM370.3 124.4h1v1h-1zM399.5 125.3h1v1h-1zM268.4 107.8h1v1h-1zM373.7 124.3h1v1h-1zM312.8 83.5h1v1h-1zM268.0 108.2h1v1h-1zM294.0 122.7h1v1h-1zM275.5 114.4h1v1h-1zM367.4 84.6h1v1h-1zM331.7 78.9h1v1h-1zM351.8 124.3h1v1h-1zM324.7 78.1h1v1h-1zM330.6 126.7h1v1h-1zM376.3 81.5h1v1h-1zM355.4 126.3h1v1h-1zM278.6 88.5h1v1h-1zM332.8 129.7h1v1h-1zM354.0 83.6h1v1h-1zM305.2 80.4h1v1h-1zM309.9 124.7h1v1h-1zM370.9 126.2h1v1h-1zM297.3 88.2h1v1h-1zM276.5 94.5h1v1h-1zM307.4 124.5h1v1h-1zM370.7 86.3h1v1h-1zM371.4 89.6h1v1h-1zM281.2 114.1h1v1h-1zM389.2 86.6h1v1h-1zM351.3 79.8h1v1h-1zM359.0 129.9h1v1h-1zM346.4 78.6h1v1h-1zM405.5 137.7h1v1h-1zM402.4 127.8h1v1h-1zM287.1 91.5h1v1h-1zM378.7 128.2h1v1h-1zM342.4 74.9h1v1h-1zM285.5 113.3h1v1h-1zM394.7 88.3h1v1h-1zM361.0 86.5h1v1h-1zM329.3 129.5h1v1h-1zM342.6 72.8h1v1h-1zM396.3 128.3h1v1h-1zM328.2 76.0h1v1h-1zM341.8 124.8h1v1h-1zM298.1 86.1h1v1h-1zM271.3 106.8h1v1h-1zM391.9 130.8h1v1h-1zM356.6 126.8h1v1h-1zM318.1 77.2h1v1h-1zM291.8 86.7h1v1h-1zM269.7 97.1h1v1h-1zM390.1 125.2h1v1h-1zM352.0 64.5h1v1h-1zM307.7 128.6h1v1h-1zM371.1 127.7h1v1h-1zM348.2 133.0h1v1h-1zM322.2 82.4h1v1h-1zM317.8 83.0h1v1h-1zM383.4 127.6h1v1h-1zM268.2 104.1h1v1h-1zM374.3 84.3h1v1h-1zM344.7 69.3h1v1h-1zM287.3 83.3h1v1h-1zM309.3 124.7h1v1h-1zM389.5 125.4h1v1h-1zM386.2 85.2h1v1h-1zM404.8 72.5h1v1h-1zM379.3 73.4h1v1h-1zM379.2 74.7h1v1h-1zM354.4 78.2h1v1h-1zM402.5 84.4h1v1h-1zM385.5 83.3h1v1h-1zM395.9 79.5h1v1h-1zM397.4 82.3h1v1h-1zM290.2 81.1h1v1h-1zM337.4 65.2h1v1h-1zM388.7 77.4h1v1h-1zM353.8 73.8h1v1h-1zM372.1 80.5h1v1h-1zM319.4 80.6h1v1h-1zM412.5 72.9h1v1h-1zM384.5 73.4h1v1h-1zM366.3 78.5h1v1h-1zM379.2 78.9h1v1h-1zM376.7 65.0h1v1h-1zM408.6 85.6h1v1h-1zM373.3 80.2h1v1h-1zM323.8 79.9h1v1h-1zM359.5 81.7h1v1h-1zM404.7 74.1h1v1h-1zM383.7 79.7h1v1h-1zM384.9 86.2h1v1h-1zM370.4 82.7h1v1h-1zM384.9 78.4h1v1h-1zM320.4 75.2h1v1h-1zM386.6 83.0h1v1h-1zM360.5 77.5h1v1h-1zM377.3 67.4h1v1h-1zM424.5 74.9h1v1h-1zM357.9 68.8h1v1h-1zM374.1 87.3h1v1h-1zM350.7 81.1h1v1h-1zM348.7 75.7h1v1h-1zM364.8 78.4h1v1h-1zM407.1 72.1h1v1h-1zM364.0 79.2h1v1h-1zM400.0 72.8h1v1h-1zM370.6 69.9h1v1h-1zM371.4 81.0h1v1h-1zM388.1 89.2h1v1h-1zM402.4 77.8h1v1h-1zM373.0 86.1h1v1h-1zM441.9 71.4h1v1h-1zM369.4 69.0h1v1h-1zM356.8 81.6h1v1h-1zM385.0 89.5h1v1h-1zM368.5 81.4h1v1h-1zM379.3 88.7h1v1h-1zM376.9 89.2h1v1h-1zM385.8 85.3h1v1h-1zM349.0 76.1h1v1h-1zM341.0 71.6h1v1h-1zM371.4 88.3h1v1h-1zM356.4 85.0h1v1h-1zM371.4 72.5h1v1h-1zM361.5 85.2h1v1h-1zM421.3 84.0h1v1h-1zM354.3 77.3h1v1h-1zM309.7 65.2h1v1h-1zM370.5 86.0h1v1h-1zM367.1 85.3h1v1h-1zM371.6 83.0h1v1h-1zM320.1 69.7h1v1h-1zM400.2 71.1h1v1h-1zM366.1 86.0h1v1h-1zM365.8 84.8h1v1h-1zM320.7 82.9h1v1h-1zM380.9 78.5h1v1h-1zM365.1 82.3h1v1h-1zM406.6 76.8h1v1h-1zM354.9 78.1h1v1h-1zM330.9 74.8h1v1h-1zM370.8 81.5h1v1h-1zM379.2 85.7h1v1h-1zM363.3 75.2h1v1h-1zM366.1 73.3h1v1h-1zM352.0 82.7h1v1h-1zM365.3 87.7h1v1h-1zM350.1 66.8h1v1h-1zM371.5 86.0h1v1h-1zM365.3 66.7h1v1h-1zM407.6 76.0h1v1h-1zM375.9 79.4h1v1h-1zM384.5 77.3h1v1h-1zM380.3 88.0h1v1h-1zM353.4 75.9h1v1h-1zM390.6 83.4h1v1h-1zM397.8 71.3h1v1h-1zM383.5 74.1h1v1h-1zM379.4 77.2h1v1h-1zM378.5 80.6h1v1h-1zM366.3 86.0h1v1h-1zM375.0 78.9h1v1h-1zM367.4 85.4h1v1h-1zM376.5 70.6h1v1h-1zM339.6 61.7h1v1h-1zM348.8 78.0h1v1h-1zM383.6 82.8h1v1h-1zM357.2 77.8h1v1h-1zM296.9 73.9h1v1h-1zM370.7 82.5h1v1h-1zM422.5 79.4h1v1h-1zM387.9 75.6h1v1h-1zM386.6 74.9h1v1h-1zM361.0 83.7h1v1h-1zM367.7 87.3h1v1h-1zM371.7 74.5h1v1h-1zM387.0 85.7h1v1h-1zM384.5 85.1h1v1h-1zM304.7 86.1h1v1h-1zM367.3 76.6h1v1h-1zM348.2 79.6h1v1h-1zM380.1 76.9h1v1h-1zM414.5 84.5h1v1h-1zM414.5 76.1h1v1h-1zM375.5 82.4h1v1h-1zM399.2 73.4h1v1h-1zM414.6 79.3h1v1h-1zM368.6 77.8h1v1h-1zM375.1 79.3h1v1h-1zM391.9 80.8h1v1h-1zM366.3 78.9h1v1h-1zM353.0 78.7h1v1h-1zM345.8 67.6h1v1h-1zM367.6 86.6h1v1h-1zM349.6 76.3h1v1h-1zM390.3 78.5h1v1h-1zM357.9 75.0h1v1h-1zM409.5 86.0h1v1h-1zM402.2 74.6h1v1h-1zM398.5 87.1h1v1h-1zM406.9 87.1h1v1h-1zM382.3 83.7h1v1h-1zM366.3 72.8h1v1h-1zM386.9 87.7h1v1h-1zM377.1 85.0h1v1h-1zM378.7 84.8h1v1h-1zM363.5 80.5h1v1h-1zM378.8 76.9h1v1h-1zM383.7 87.7h1v1h-1zM333.1 73.8h1v1h-1zM385.6 85.5h1v1h-1zM381.3 81.5h1v1h-1zM388.1 85.4h1v1h-1zM351.9 81.7h1v1h-1zM454.7 86.7h1v1h-1zM361.4 86.2h1v1h-1zM372.3 85.4h1v1h-1zM346.4 71.8h1v1h-1zM408.9 85.0h1v1h-1zM354.6 80.4h1v1h-1zM396.4 73.3h1v1h-1zM377.0 71.9h1v1h-1zM357.6 85.4h1v1h-1zM394.7 90.2h1v1h-1zM359.9 77.1h1v1h-1zM381.1 82.8h1v1h-1zM341.0 72.0h1v1h-1zM390.2 83.7h1v1h-1zM315.0 80.9h1v1h-1zM390.0 84.5h1v1h-1zM357.0 80.2h1v1h-1zM375.4 81.8h1v1h-1zM386.4 84.2h1v1h-1zM363.5 81.2h1v1h-1zM391.3 86.1h1v1h-1zM390.0 81.5h1v1h-1zM367.1 83.3h1v1h-1zM346.7 77.0h1v1h-1zM388.0 79.7h1v1h-1zM385.1 84.9h1v1h-1zM377.4 82.7h1v1h-1zM408.3 73.6h1v1h-1zM360.3 82.3h1v1h-1zM357.9 77.3h1v1h-1zM423.1 69.6h1v1h-1zM310.5 81.4h1v1h-1zM377.1 76.4h1v1h-1zM381.6 91.4h1v1h-1zM370.7 80.0h1v1h-1zM435.2 80.2h1v1h-1zM402.2 76.5h1v1h-1zM390.9 81.7h1v1h-1zM383.2 74.9h1v1h-1zM358.6 79.8h1v1h-1zM370.4 75.4h1v1h-1zM374.8 88.0h1v1h-1zM355.5 73.3h1v1h-1zM387.1 79.8h1v1h-1zM415.3 76.1h1v1h-1zM398.6 72.1h1v1h-1zM375.4 90.0h1v1h-1zM314.7 67.8h1v1h-1zM400.0 88.8h1v1h-1zM399.8 71.9h1v1h-1zM363.9 80.7h1v1h-1zM388.0 67.7h1v1h-1zM346.6 72.1h1v1h-1zM392.0 87.9h1v1h-1zM370.0 80.0h1v1h-1zM328.4 74.5h1v1h-1zM369.6 80.9h1v1h-1zM384.6 89.0h1v1h-1zM332.5 78.0h1v1h-1zM395.7 81.0h1v1h-1zM375.7 76.8h1v1h-1zM356.8 82.0h1v1h-1zM354.9 76.9h1v1h-1zM321.6 76.4h1v1h-1zM350.1 77.9h1v1h-1zM348.0 76.5h1v1h-1zM416.0 70.0h1v1h-1zM398.4 68.5h1v1h-1zM331.1 75.9h1v1h-1zM392.3 81.0h1v1h-1zM376.0 87.4h1v1h-1zM359.1 77.1h1v1h-1zM382.8 79.2h1v1h-1zM392.1 84.1h1v1h-1zM362.1 79.5h1v1h-1zM374.5 79.9h1v1h-1zM375.0 78.2h1v1h-1zM367.6 77.3h1v1h-1zM350.7 70.7h1v1h-1zM378.4 78.7h1v1h-1zM394.5 91.4h1v1h-1zM379.2 78.2h1v1h-1zM390.9 85.7h1v1h-1zM374.7 89.9h1v1h-1zM386.5 72.5h1v1h-1zM402.6 89.4h1v1h-1zM366.0 79.6h1v1h-1zM353.1 78.4h1v1h-1zM345.4 77.9h1v1h-1zM426.2 78.2h1v1h-1zM396.3 66.5h1v1h-1zM320.3 83.2h1v1h-1zM381.9 80.6h1v1h-1zM354.3 74.6h1v1h-1zM402.1 79.8h1v1h-1zM365.0 82.4h1v1h-1zM373.9 77.9h1v1h-1zM380.7 90.2h1v1h-1zM370.8 75.5h1v1h-1zM363.8 79.3h1v1h-1zM345.1 129.4h1v1h-1zM384.6 126.8h1v1h-1zM413.7 128.8h1v1h-1zM330.3 127.3h1v1h-1zM330.0 127.6h1v1h-1zM361.2 128.6h1v1h-1zM342.3 127.5h1v1h-1zM348.2 129.8h1v1h-1zM305.8 127.8h1v1h-1zM370.1 128.5h1v1h-1zM374.3 129.0h1v1h-1zM389.0 126.7h1v1h-1zM397.7 124.8h1v1h-1zM376.0 126.6h1v1h-1zM364.0 126.7h1v1h-1zM351.6 134.4h1v1h-1zM323.5 133.3h1v1h-1zM358.2 126.5h1v1h-1zM399.3 126.7h1v1h-1zM389.3 128.9h1v1h-1zM429.4 129.6h1v1h-1zM366.3 125.9h1v1h-1zM319.6 125.0h1v1h-1zM394.4 133.5h1v1h-1zM400.4 131.0h1v1h-1zM375.0 125.5h1v1h-1zM391.0 128.6h1v1h-1zM338.6 129.5h1v1h-1zM360.9 126.9h1v1h-1zM336.8 128.6h1v1h-1zM332.9 129.7h1v1h-1zM374.6 127.9h1v1h-1zM359.9 126.5h1v1h-1zM351.4 129.6h1v1h-1zM295.9 127.8h1v1h-1zM343.5 128.2h1v1h-1zM366.6 124.1h1v1h-1zM338.0 130.7h1v1h-1zM381.4 129.3h1v1h-1zM327.3 125.0h1v1h-1zM373.2 128.5h1v1h-1zM365.1 131.6h1v1h-1zM339.1 127.5h1v1h-1zM351.9 132.7h1v1h-1zM430.4 127.4h1v1h-1zM378.8 127.7h1v1h-1zM389.1 126.3h1v1h-1zM374.4 128.3h1v1h-1zM377.9 129.0h1v1h-1zM378.4 129.2h1v1h-1zM353.5 131.3h1v1h-1zM364.2 130.0h1v1h-1zM322.9 130.1h1v1h-1zM360.2 125.0h1v1h-1zM348.3 127.5h1v1h-1zM363.0 137.2h1v1h-1zM391.4 134.6h1v1h-1zM381.2 130.3h1v1h-1zM383.8 130.1h1v1h-1zM401.9 130.8h1v1h-1zM302.0 126.7h1v1h-1zM382.6 133.7h1v1h-1zM369.6 126.8h1v1h-1zM367.4 127.7h1v1h-1zM332.8 134.3h1v1h-1zM403.1 129.0h1v1h-1zM367.8 126.0h1v1h-1zM388.5 127.6h1v1h-1zM396.6 126.9h1v1h-1zM422.4 128.4h1v1h-1zM374.3 127.6h1v1h-1zM372.9 124.4h1v1h-1zM375.0 126.8h1v1h-1zM355.9 129.8h1v1h-1zM350.3 130.0h1v1h-1zM347.2 126.7h1v1h-1zM380.3 127.0h1v1h-1zM353.7 131.4h1v1h-1zM363.1 128.2h1v1h-1zM392.9 129.4h1v1h-1zM366.5 128.7h1v1h-1zM383.4 126.7h1v1h-1zM350.1 128.1h1v1h-1zM427.5 127.0h1v1h-1zM357.2 133.9h1v1h-1zM398.0 126.6h1v1h-1zM422.5 133.7h1v1h-1zM352.3 132.0h1v1h-1zM372.8 126.1h1v1h-1zM346.7 125.5h1v1h-1zM400.2 131.8h1v1h-1zM360.5 127.5h1v1h-1zM338.6 128.4h1v1h-1zM344.6 126.8h1v1h-1zM404.0 125.1h1v1h-1zM447.8 127.0h1v1h-1zM419.2 133.2h1v1h-1zM354.2 132.7h1v1h-1zM362.4 127.7h1v1h-1zM345.0 128.3h1v1h-1zM373.9 129.4h1v1h-1zM371.4 132.0h1v1h-1zM391.1 128.9h1v1h-1zM372.5 126.5h1v1h-1zM327.9 126.7h1v1h-1zM346.8 131.3h1v1h-1zM410.5 135.7h1v1h-1zM403.1 126.0h1v1h-1zM366.1 130.3h1v1h-1zM365.2 127.7h1v1h-1zM370.7 128.3h1v1h-1zM322.0 131.6h1v1h-1zM395.6 128.1h1v1h-1zM297.6 127.8h1v1h-1zM376.7 124.5h1v1h-1zM408.3 128.8h1v1h-1zM306.0 124.1h1v1h-1zM413.5 126.9h1v1h-1zM349.0 126.8h1v1h-1zM324.6 126.6h1v1h-1z" fill="#333"/>
<path d="M271.8 100.9 272.2 99.9 273.2 99.0 274.5 98.1 276.2 97.3 278.2 96.5 280.2 95.7 282.3 94.9 284.4 94.1 286.5 93.2 288.8 92.4 291.2 91.5 293.7 90.6 296.2 89.7 298.8 88.9 301.3 88.1 303.8 87.3 306.3 86.6 308.8 86.0 311.4 85.4 313.9 84.8 316.4 84.2 318.8 83.7 321.1 83.1 323.3 82.5 325.3 81.9 327.3 81.2 329.1 80.5 330.9 79.8 332.6 79.2 334.1 78.6 335.5 78.0 336.8 77.6 337.8 77.2 338.6 76.8 339.2 76.4 339.7 76.1 340.2 75.8 340.7 75.8 341.4 75.9 342.4 76.2 343.6 76.8 345.0 77.7 346.5 78.8 348.1 80.1 349.8 81.3 351.4 82.6 353.0 83.7 354.5 84.7 355.9 85.5 357.2 86.2 358.5 86.9 359.8 87.5 361.1 88.1 362.4 88.6 363.8 89.1 365.2 89.5 366.7 89.9 368.3 90.3 369.9 90.6 371.5 90.8 373.1 91.1 374.8 91.3 376.4 91.5 378.0 91.6 379.6 91.7 381.2 91.8 382.8 91.8 384.4 91.7 385.9 91.7 387.5 91.7 389.0 91.6 390.4 91.6 391.8 91.6 393.1 91.6 394.4 91.5 395.7 91.5 396.9 91.5 398.1 91.5 399.3 91.4 400.5 91.4 401.7 91.1 402.9 90.5 404.2 89.8 405.4 89.1 406.5 88.6 407.5 88.7 408.4 89.4 409.0 91.0 409.4 93.8 409.7 97.9 409.9 102.8 409.9 108.0 409.8 113.3 409.6 118.1 409.4 122.2 409.0 125.0 408.6 126.6 408.0 127.2 407.4 127.2 406.6 126.8 405.8 126.0 404.8 125.2 403.8 124.6 402.7 124.3 401.5 124.3 400.4 124.3 399.1 124.3 397.8 124.4 396.3 124.4 394.6 124.4 392.6 124.4 390.4 124.4 387.8 124.3 384.7 124.2 381.4 124.1 377.9 124.0 374.3 123.8 370.8 123.7 367.4 123.6 364.2 123.6 361.2 123.6 358.1 123.7 355.0 123.8 352.0 123.9 349.2 124.0 346.6 124.2 344.3 124.3 342.4 124.4 341.0 124.5 340.1 124.6 339.6 124.8 339.3 124.9 339.1 125.0 338.6 125.1 338.0 125.2 336.8 125.2 335.2 125.2 333.2 125.1 331.1 125.0 328.7 124.9 326.3 124.8 323.9 124.6 321.6 124.4 319.4 124.2 317.3 123.9 315.3 123.7 313.2 123.3 311.2 123.0 309.3 122.6 307.4 122.2 305.5 121.8 303.8 121.3 302.1 120.8 300.6 120.3 299.1 119.7 297.6 119.1 296.2 118.5 294.9 117.8 293.5 117.2 292.2 116.5 290.9 115.8 289.7 115.2 288.5 114.5 287.3 113.9 286.1 113.1 285.0 112.4 283.7 111.5 282.5 110.6 281.1 109.5 279.3 108.4 277.5 107.1 275.8 105.8 274.1 104.5 272.9 103.2 272.0 102.0Z" fill="#fff"/>
<path d="M276.0 101.5 276.5 100.4 277.6 99.5 279.3 98.6 281.3 97.8 283.5 97.1 285.8 96.4 288.0 95.7 290.0 95.0 291.8 94.3 293.7 93.6 295.6 93.0 297.4 92.3 299.3 91.7 301.2 91.1 303.1 90.6 305.0 90.0 306.9 89.5 308.8 88.9 310.7 88.4 312.6 88.0 314.5 87.5 316.4 87.0 318.2 86.5 320.0 86.0 321.8 85.4 323.5 84.9 325.2 84.3 326.9 83.7 328.6 83.1 330.1 82.5 331.6 82.0 333.0 81.5 334.3 81.0 335.5 80.4 336.7 79.8 337.8 79.3 338.7 78.9 339.6 78.6 340.4 78.7 341.0 79.0 341.5 79.7 341.8 80.6 341.9 81.7 342.0 83.1 342.0 84.6 342.0 86.3 342.0 88.1 342.0 90.0 342.1 92.1 342.1 94.6 342.2 97.2 342.2 100.0 342.2 102.8 342.2 105.4 342.1 107.9 342.0 110.0 341.9 111.9 341.9 113.6 342.0 115.2 341.9 116.7 341.8 118.0 341.5 119.2 340.9 120.2 340.0 121.0 338.8 121.6 337.3 121.9 335.5 122.1 333.6 122.1 331.6 122.0 329.4 121.8 327.2 121.7 325.0 121.5 322.7 121.4 320.3 121.2 317.7 120.9 315.1 120.7 312.5 120.3 309.9 119.9 307.4 119.5 305.0 119.0 302.7 118.5 300.4 117.9 298.2 117.2 296.0 116.6 293.9 115.8 291.8 115.0 289.9 114.0 288.0 113.0 286.1 111.8 284.0 110.4 282.0 108.9 280.1 107.3 278.4 105.7 277.1 104.2 276.2 102.7ZM279.6 101.8 280.1 100.7 281.2 99.8 282.8 99.0 284.7 98.2 286.7 97.5 288.8 96.8 290.8 96.1 292.6 95.3 294.1 94.6 295.7 93.9 297.3 93.2 298.9 92.6 300.5 91.9 302.3 91.3 304.0 90.7 305.8 90.1 307.6 89.6 309.4 89.0 311.3 88.5 313.1 88.0 315.0 87.6 316.8 87.1 318.6 86.6 320.4 86.1 322.1 85.5 323.8 84.9 325.5 84.3 327.1 83.7 328.7 83.1 330.2 82.6 331.7 82.1 333.0 81.6 334.3 81.1 335.5 80.5 336.6 79.9 337.7 79.4 338.6 79.0 339.5 78.8 340.2 78.8 340.9 79.1 341.3 79.7 341.6 80.6 341.8 81.7 341.9 83.0 341.9 84.5 341.9 86.1 341.8 87.8 341.9 89.6 341.9 91.6 342.0 93.9 342.0 96.4 342.1 99.0 342.1 101.6 342.0 104.2 342.0 106.5 341.9 108.5 341.8 110.3 341.8 112.0 341.8 113.5 341.7 114.9 341.5 116.2 341.2 117.3 340.6 118.3 339.8 119.2 338.6 119.9 337.2 120.3 335.6 120.6 333.7 120.8 331.7 120.8 329.7 120.8 327.5 120.7 325.4 120.6 323.2 120.5 320.8 120.4 318.3 120.2 315.7 120.0 313.2 119.7 310.6 119.4 308.2 119.0 305.9 118.5 303.6 117.9 301.5 117.4 299.4 116.7 297.4 116.0 295.4 115.3 293.6 114.4 291.8 113.5 290.1 112.5 288.4 111.4 286.6 110.1 284.8 108.6 283.1 107.1 281.6 105.7 280.4 104.2 279.7 102.9ZM283.2 102.0 283.7 101.0 284.8 100.2 286.2 99.4 288.0 98.6 289.8 97.9 291.7 97.1 293.5 96.4 295.1 95.7 296.5 95.0 297.8 94.2 299.2 93.5 300.6 92.8 302.1 92.2 303.7 91.5 305.3 90.9 306.9 90.3 308.6 89.7 310.4 89.2 312.1 88.7 313.9 88.2 315.7 87.7 317.5 87.2 319.2 86.7 320.9 86.1 322.5 85.6 324.1 85.0 325.8 84.4 327.3 83.8 328.9 83.2 330.3 82.7 331.7 82.2 333.0 81.7 334.2 81.2 335.4 80.7 336.5 80.1 337.5 79.6 338.5 79.1 339.3 78.9 340.1 78.9 340.7 79.2 341.2 79.8 341.5 80.6 341.6 81.7 341.7 82.9 341.7 84.3 341.7 85.9 341.7 87.5 341.8 89.2 341.8 91.1 341.9 93.3 341.9 95.6 341.9 98.1 341.9 100.5 341.9 102.9 341.8 105.1 341.7 107.0 341.6 108.7 341.6 110.3 341.6 111.8 341.5 113.2 341.3 114.4 341.0 115.5 340.4 116.5 339.6 117.4 338.5 118.1 337.2 118.6 335.6 119.0 333.8 119.3 332.0 119.4 330.0 119.5 327.9 119.5 325.9 119.5 323.7 119.5 321.4 119.4 319.0 119.3 316.6 119.1 314.1 118.8 311.7 118.5 309.3 118.2 307.1 117.7 305.0 117.2 303.0 116.6 301.0 116.0 299.1 115.3 297.4 114.6 295.7 113.8 294.1 112.9 292.6 112.0 291.0 110.9 289.4 109.7 287.8 108.4 286.2 107.0 284.9 105.6 283.9 104.3 283.3 103.1ZM286.8 102.2 287.3 101.3 288.2 100.5 289.6 99.7 291.2 99.0 292.9 98.2 294.6 97.5 296.2 96.8 297.6 96.0 298.9 95.3 300.1 94.6 301.3 93.8 302.5 93.1 303.9 92.4 305.2 91.8 306.7 91.1 308.2 90.5 309.8 89.9 311.5 89.4 313.2 88.8 314.9 88.3 316.6 87.8 318.2 87.3 319.9 86.7 321.5 86.2 323.0 85.7 324.6 85.1 326.1 84.5 327.6 83.9 329.1 83.4 330.4 82.8 331.8 82.3 333.0 81.9 334.2 81.4 335.3 80.8 336.4 80.2 337.4 79.7 338.4 79.3 339.2 79.0 339.9 79.0 340.5 79.3 341.0 79.9 341.3 80.7 341.5 81.7 341.6 82.8 341.6 84.2 341.6 85.6 341.6 87.2 341.6 88.8 341.7 90.6 341.7 92.6 341.8 94.8 341.8 97.1 341.8 99.4 341.7 101.6 341.7 103.7 341.5 105.5 341.5 107.1 341.4 108.7 341.3 110.1 341.2 111.4 341.0 112.6 340.7 113.7 340.2 114.7 339.4 115.6 338.4 116.3 337.1 116.9 335.6 117.4 334.0 117.7 332.2 117.9 330.3 118.1 328.4 118.1 326.4 118.2 324.4 118.2 322.2 118.2 319.9 118.1 317.6 118.0 315.2 117.8 312.9 117.5 310.7 117.2 308.6 116.8 306.6 116.3 304.7 115.8 302.9 115.2 301.1 114.6 299.5 113.9 298.0 113.1 296.5 112.3 295.2 111.4 293.8 110.4 292.3 109.3 290.8 108.1 289.5 106.8 288.3 105.6 287.4 104.4 286.9 103.3ZM290.4 102.5 290.8 101.6 291.7 100.8 292.9 100.1 294.4 99.3 295.9 98.6 297.5 97.9 298.9 97.1 300.2 96.4 301.3 95.7 302.4 94.9 303.4 94.2 304.5 93.4 305.7 92.7 307.0 92.1 308.3 91.4 309.7 90.8 311.2 90.2 312.7 89.6 314.3 89.0 315.9 88.5 317.5 87.9 319.1 87.4 320.6 86.8 322.1 86.3 323.6 85.7 325.1 85.2 326.5 84.6 327.9 84.0 329.3 83.5 330.6 82.9 331.8 82.5 333.0 82.0 334.1 81.5 335.2 81.0 336.3 80.4 337.3 79.9 338.2 79.4 339.1 79.2 339.8 79.2 340.4 79.4 340.8 79.9 341.1 80.7 341.3 81.6 341.4 82.8 341.5 84.0 341.5 85.4 341.5 86.9 341.5 88.4 341.6 90.1 341.6 92.0 341.7 94.0 341.7 96.2 341.7 98.3 341.6 100.4 341.5 102.3 341.4 104.0 341.3 105.5 341.2 107.0 341.1 108.4 341.0 109.7 340.8 110.8 340.5 111.9 339.9 112.9 339.2 113.8 338.2 114.6 337.0 115.2 335.6 115.7 334.1 116.1 332.4 116.4 330.7 116.6 328.8 116.7 327.0 116.8 325.1 116.9 323.0 117.0 320.9 116.9 318.7 116.8 316.4 116.7 314.2 116.5 312.1 116.2 310.2 115.8 308.3 115.4 306.5 114.9 304.9 114.3 303.3 113.7 301.8 113.1 300.4 112.4 299.1 111.6 297.9 110.8 296.6 109.9 295.3 108.9 293.9 107.8 292.7 106.7 291.7 105.6 290.9 104.5 290.5 103.4ZM294.0 102.8 294.4 101.9 295.2 101.2 296.3 100.4 297.6 99.7 298.9 98.9 300.3 98.2 301.6 97.5 302.8 96.8 303.7 96.0 304.7 95.3 305.6 94.5 306.6 93.8 307.7 93.0 308.8 92.3 310.0 91.7 311.3 91.0 312.7 90.4 314.1 89.8 315.6 89.2 317.0 88.6 318.5 88.1 320.0 87.5 321.4 87.0 322.8 86.4 324.2 85.8 325.6 85.3 326.9 84.7 328.2 84.2 329.5 83.6 330.7 83.1 331.9 82.6 333.0 82.2 334.1 81.7 335.2 81.1 336.2 80.5 337.2 80.0 338.1 79.6 338.9 79.3 339.7 79.3 340.2 79.5 340.7 80.0 341.0 80.7 341.2 81.6 341.3 82.7 341.3 83.9 341.3 85.2 341.4 86.6 341.4 88.0 341.5 89.6 341.5 91.3 341.5 93.2 341.5 95.2 341.5 97.2 341.5 99.1 341.4 100.9 341.2 102.5 341.1 104.0 341.0 105.4 340.9 106.7 340.8 107.9 340.6 109.1 340.2 110.1 339.7 111.1 339.0 112.0 338.1 112.8 337.0 113.4 335.7 114.0 334.2 114.4 332.7 114.8 331.0 115.0 329.3 115.2 327.6 115.4 325.8 115.5 323.9 115.6 321.9 115.6 319.8 115.6 317.7 115.5 315.7 115.3 313.7 115.0 311.9 114.7 310.2 114.4 308.6 113.9 307.0 113.4 305.5 112.9 304.2 112.3 302.9 111.6 301.7 110.9 300.6 110.2 299.5 109.4 298.3 108.5 297.1 107.5 296.0 106.5 295.1 105.5 294.4 104.6 294.0 103.6ZM297.6 103.0 297.9 102.2 298.6 101.5 299.6 100.8 300.7 100.0 301.9 99.3 303.2 98.6 304.3 97.8 305.3 97.1 306.2 96.4 307.0 95.6 307.9 94.8 308.8 94.1 309.7 93.4 310.7 92.6 311.8 92.0 313.0 91.3 314.2 90.6 315.5 90.0 316.9 89.4 318.2 88.8 319.6 88.2 321.0 87.6 322.3 87.1 323.6 86.5 324.9 86.0 326.1 85.4 327.3 84.8 328.5 84.3 329.7 83.7 330.9 83.2 332.0 82.8 333.0 82.3 334.0 81.8 335.1 81.3 336.1 80.7 337.1 80.2 338.0 79.8 338.8 79.5 339.5 79.4 340.1 79.6 340.5 80.0 340.8 80.7 341.0 81.6 341.1 82.6 341.2 83.7 341.2 85.0 341.2 86.3 341.3 87.6 341.3 89.0 341.4 90.7 341.4 92.4 341.4 94.2 341.4 96.0 341.3 97.8 341.2 99.5 341.1 101.0 341.0 102.4 340.9 103.7 340.7 105.0 340.6 106.2 340.3 107.3 340.0 108.4 339.5 109.3 338.8 110.2 337.9 111.0 336.9 111.6 335.7 112.2 334.4 112.7 332.9 113.1 331.4 113.4 329.8 113.7 328.3 113.9 326.6 114.1 324.8 114.2 323.0 114.3 321.1 114.3 319.1 114.2 317.2 114.1 315.4 113.9 313.8 113.6 312.2 113.3 310.7 112.9 309.2 112.4 307.9 112.0 306.7 111.4 305.5 110.8 304.4 110.2 303.4 109.6 302.4 108.9 301.3 108.1 300.3 107.2 299.4 106.4 298.6 105.5 298.0 104.6 297.6 103.8ZM301.2 103.2 301.5 102.5 302.1 101.8 302.9 101.1 303.9 100.4 304.9 99.7 306.0 98.9 307.0 98.2 307.9 97.4 308.6 96.7 309.4 96.0 310.2 95.2 311.0 94.4 311.8 93.7 312.7 93.0 313.7 92.3 314.7 91.6 315.9 90.9 317.1 90.3 318.3 89.6 319.5 89.0 320.8 88.4 322.0 87.8 323.2 87.2 324.4 86.6 325.5 86.1 326.7 85.5 327.8 84.9 328.9 84.4 330.0 83.9 331.0 83.4 332.0 82.9 333.0 82.5 334.0 82.0 335.0 81.4 336.0 80.9 336.9 80.4 337.8 79.9 338.7 79.6 339.4 79.5 339.9 79.7 340.4 80.1 340.7 80.7 340.9 81.5 341.0 82.5 341.1 83.6 341.1 84.7 341.1 86.0 341.2 87.2 341.2 88.5 341.3 90.0 341.3 91.6 341.3 93.3 341.2 94.9 341.2 96.6 341.1 98.1 340.9 99.5 340.8 100.8 340.7 102.1 340.5 103.3 340.3 104.5 340.1 105.6 339.7 106.6 339.2 107.5 338.6 108.4 337.8 109.2 336.8 109.9 335.7 110.5 334.5 111.0 333.2 111.4 331.8 111.8 330.4 112.1 328.9 112.4 327.4 112.6 325.8 112.7 324.1 112.8 322.3 112.9 320.6 112.8 318.9 112.7 317.2 112.6 315.7 112.4 314.3 112.1 312.9 111.8 311.6 111.4 310.4 111.0 309.2 110.5 308.1 110.0 307.2 109.5 306.2 108.9 305.3 108.3 304.4 107.7 303.5 107.0 302.7 106.2 302.0 105.5 301.5 104.7 301.2 104.0ZM304.8 103.5 305.0 102.8 305.5 102.2 306.2 101.5 307.0 100.7 307.9 100.0 308.8 99.3 309.6 98.5 310.4 97.8 311.1 97.1 311.8 96.3 312.5 95.5 313.2 94.8 314.0 94.0 314.8 93.3 315.7 92.6 316.6 91.9 317.6 91.2 318.6 90.5 319.7 89.9 320.9 89.2 322.0 88.6 323.1 87.9 324.2 87.3 325.2 86.7 326.3 86.2 327.3 85.6 328.3 85.1 329.2 84.6 330.2 84.0 331.2 83.6 332.1 83.1 333.0 82.6 333.9 82.2 334.9 81.6 335.9 81.1 336.8 80.5 337.7 80.1 338.5 79.8 339.2 79.7 339.8 79.8 340.2 80.2 340.5 80.8 340.7 81.5 340.9 82.4 340.9 83.4 341.0 84.5 341.0 85.7 341.0 86.8 341.1 88.0 341.1 89.4 341.2 90.8 341.1 92.3 341.1 93.8 341.0 95.3 340.9 96.7 340.8 98.0 340.6 99.2 340.5 100.4 340.3 101.6 340.1 102.7 339.8 103.8 339.5 104.8 339.0 105.7 338.4 106.6 337.6 107.4 336.8 108.1 335.7 108.7 334.6 109.2 333.4 109.7 332.2 110.1 330.9 110.5 329.6 110.8 328.2 111.0 326.8 111.2 325.2 111.3 323.7 111.4 322.1 111.4 320.6 111.4 319.1 111.3 317.7 111.1 316.4 110.9 315.2 110.7 314.0 110.4 312.9 110.0 311.8 109.6 310.9 109.2 310.0 108.8 309.1 108.3 308.3 107.8 307.5 107.3 306.8 106.7 306.1 106.1 305.5 105.4 305.1 104.8 304.8 104.1ZM308.4 103.8 308.6 103.1 309.0 102.5 309.5 101.8 310.1 101.1 310.8 100.4 311.6 99.6 312.3 98.9 312.9 98.2 313.6 97.4 314.2 96.7 314.8 95.9 315.5 95.1 316.2 94.4 316.9 93.6 317.7 92.9 318.5 92.2 319.4 91.5 320.3 90.8 321.3 90.1 322.2 89.4 323.2 88.7 324.2 88.1 325.2 87.5 326.1 86.9 327.0 86.3 327.9 85.7 328.8 85.2 329.6 84.7 330.5 84.2 331.3 83.7 332.2 83.3 333.0 82.8 333.9 82.3 334.8 81.8 335.7 81.2 336.7 80.7 337.6 80.3 338.4 79.9 339.1 79.8 339.6 79.9 340.1 80.2 340.4 80.8 340.6 81.5 340.7 82.3 340.8 83.3 340.8 84.3 340.9 85.4 340.9 86.4 341.0 87.5 341.0 88.7 341.0 90.0 341.0 91.3 341.0 92.7 340.9 94.0 340.8 95.3 340.6 96.5 340.5 97.7 340.3 98.8 340.1 99.9 339.9 101.0 339.6 102.0 339.2 103.0 338.8 104.0 338.2 104.8 337.5 105.6 336.7 106.3 335.8 106.9 334.8 107.5 333.7 108.0 332.6 108.4 331.4 108.8 330.3 109.2 329.1 109.4 327.8 109.7 326.4 109.8 325.1 109.9 323.7 110.0 322.3 110.0 321.0 109.9 319.8 109.8 318.7 109.7 317.6 109.5 316.5 109.3 315.5 109.0 314.5 108.7 313.6 108.4 312.8 108.0 312.0 107.7 311.3 107.3 310.7 106.8 310.0 106.4 309.4 105.9 309.0 105.4 308.6 104.9 308.4 104.3Z" fill="none" stroke="#000" stroke-width="0.9"/>
<path d="M312.0 104.0 312.1 103.4 312.4 102.8 312.8 102.1 313.2 101.4 313.8 100.7 314.4 100.0 314.9 99.2 315.5 98.5 316.0 97.8 316.6 97.0 317.2 96.3 317.8 95.5 318.4 94.7 319.1 94.0 319.8 93.2 320.5 92.5 321.2 91.8 322.0 91.1 322.8 90.3 323.7 89.6 324.5 88.9 325.4 88.3 326.2 87.6 327.0 87.0 327.8 86.4 328.5 85.9 329.3 85.3 330.0 84.8 330.7 84.4 331.5 83.9 332.2 83.4 333.0 83.0 333.8 82.5 334.7 82.0 335.6 81.4 336.5 80.9 337.4 80.4 338.2 80.1 338.9 79.9 339.5 80.0 339.9 80.3 340.2 80.8 340.4 81.5 340.6 82.2 340.7 83.1 340.7 84.1 340.7 85.0 340.8 86.0 340.9 87.0 340.9 88.1 340.9 89.2 340.9 90.4 340.8 91.6 340.8 92.8 340.7 93.9 340.5 95.0 340.3 96.1 340.1 97.2 339.9 98.2 339.7 99.3 339.4 100.3 339.0 101.3 338.5 102.2 338.0 103.0 337.4 103.8 336.6 104.5 335.8 105.1 334.9 105.7 334.0 106.2 333.0 106.7 332.0 107.1 331.0 107.5 330.0 107.8 328.8 108.1 327.7 108.2 326.5 108.4 325.3 108.5 324.2 108.5 323.0 108.5 322.0 108.5 321.0 108.4 320.0 108.3 319.1 108.2 318.1 108.0 317.2 107.8 316.4 107.5 315.7 107.3 315.0 107.0 314.4 106.7 313.8 106.4 313.3 106.1 312.8 105.8 312.5 105.4 312.2 105.0 312.0 104.5Z" fill="#333"/>
<path d="M321.5 104.5L328.5 96.5" fill="none" stroke="#ddd" stroke-width="1.8"/>
<path d="M331 100C334 96 336 92 337 88M333 104C336 100 338 96 338.5 92M316 101C320 96 325 91 331 87" fill="none" stroke="#999" stroke-width="0.8"/>
<path d="M318 104C322 99 326 94 332 90" fill="none" stroke="#111" stroke-width="1.2"/>
<path d="M271.8 100.9 272.2 99.9 273.2 99.0 274.5 98.1 276.2 97.3 278.2 96.5 280.2 95.7 282.3 94.9 284.4 94.1 286.5 93.2 288.8 92.4 291.2 91.5 293.7 90.6 296.2 89.7 298.8 88.9 301.3 88.1 303.8 87.3 306.3 86.6 308.8 86.0 311.4 85.4 313.9 84.8 316.4 84.2 318.8 83.7 321.1 83.1 323.3 82.5 325.3 81.9 327.3 81.2 329.1 80.5 330.9 79.8 332.6 79.2 334.1 78.6 335.5 78.0 336.8 77.6 337.8 77.2 338.6 76.8 339.2 76.4 339.7 76.1 340.2 75.8 340.7 75.8 341.4 75.9 342.4 76.2 343.6 76.8 345.0 77.7 346.5 78.8 348.1 80.1 349.8 81.3 351.4 82.6 353.0 83.7 354.5 84.7 355.9 85.5 357.2 86.2 358.5 86.9 359.8 87.5 361.1 88.1 362.4 88.6 363.8 89.1 365.2 89.5 366.7 89.9 368.3 90.3 369.9 90.6 371.5 90.8 373.1 91.1 374.8 91.3 376.4 91.5 378.0 91.6 379.6 91.7 381.2 91.8 382.8 91.8 384.4 91.7 385.9 91.7 387.5 91.7 389.0 91.6 390.4 91.6 391.8 91.6 393.1 91.6 394.4 91.5 395.7 91.5 396.9 91.5 398.1 91.5 399.3 91.4 400.5 91.4 401.7 91.1 402.9 90.5 404.2 89.8 405.4 89.1 406.5 88.6 407.5 88.7 408.4 89.4 409.0 91.0 409.4 93.8 409.7 97.9 409.9 102.8 409.9 108.0 409.8 113.3 409.6 118.1 409.4 122.2 409.0 125.0 408.6 126.6 408.0 127.2 407.4 127.2 406.6 126.8 405.8 126.0 404.8 125.2 403.8 124.6 402.7 124.3 401.5 124.3 400.4 124.3 399.1 124.3 397.8 124.4 396.3 124.4 394.6 124.4 392.6 124.4 390.4 124.4 387.8 124.3 384.7 124.2 381.4 124.1 377.9 124.0 374.3 123.8 370.8 123.7 367.4 123.6 364.2 123.6 361.2 123.6 358.1 123.7 355.0 123.8 352.0 123.9 349.2 124.0 346.6 124.2 344.3 124.3 342.4 124.4 341.0 124.5 340.1 124.6 339.6 124.8 339.3 124.9 339.1 125.0 338.6 125.1 338.0 125.2 336.8 125.2 335.2 125.2 333.2 125.1 331.1 125.0 328.7 124.9 326.3 124.8 323.9 124.6 321.6 124.4 319.4 124.2 317.3 123.9 315.3 123.7 313.2 123.3 311.2 123.0 309.3 122.6 307.4 122.2 305.5 121.8 303.8 121.3 302.1 120.8 300.6 120.3 299.1 119.7 297.6 119.1 296.2 118.5 294.9 117.8 293.5 117.2 292.2 116.5 290.9 115.8 289.7 115.2 288.5 114.5 287.3 113.9 286.1 113.1 285.0 112.4 283.7 111.5 282.5 110.6 281.1 109.5 279.3 108.4 277.5 107.1 275.8 105.8 274.1 104.5 272.9 103.2 272.0 102.0Z" fill="none" stroke="#000" stroke-width="1.0"/>
<path d="M412.0 90.5 411.4 89.0 410.5 88.3 409.4 88.3 408.3 88.8 407.1 89.6 406.0 90.7 405.0 91.9 404.2 93.0 403.6 94.2 403.1 95.7 402.6 97.4 402.3 99.2 402.0 101.2 401.8 103.2 401.6 105.1 401.6 107.0 401.6 108.9 401.8 110.9 402.0 112.9 402.2 115.0 402.6 116.9 403.1 118.7 403.6 120.3 404.2 121.5 405.0 122.6 406.0 123.8 407.1 124.9 408.3 125.8 409.4 126.2 410.5 126.2 411.4 125.5 412.0 124.0 412.4 121.3 412.7 117.3 412.9 112.5 413.0 107.2 412.9 102.0 412.7 97.2 412.4 93.2Z" fill="#fff"/>
<path d="M412.0 92.5 411.5 91.2 410.8 90.7 410.0 90.7 409.2 91.2 408.3 92.0 407.4 93.0 406.6 94.0 406.0 95.0 405.5 96.0 405.0 97.3 404.6 98.8 404.2 100.4 403.9 102.0 403.7 103.7 403.5 105.4 403.5 107.0 403.5 108.6 403.7 110.3 403.9 112.1 404.2 113.8 404.6 115.5 405.0 117.1 405.5 118.4 406.0 119.5 406.6 120.5 407.4 121.6 408.3 122.6 409.2 123.4 410.0 123.8 410.8 123.9 411.5 123.3 412.0 122.0 412.3 119.6 412.6 116.1 412.7 111.9 412.8 107.2 412.7 102.6 412.6 98.4 412.3 94.9Z" fill="#3a3a3a"/>
<path d="M408 96C405.5 100 405.5 114 408 118" fill="none" stroke="#ccc" stroke-width="0.6"/>
<path d="M412.0 90.5 411.4 89.0 410.5 88.3 409.4 88.3 408.3 88.8 407.1 89.6 406.0 90.7 405.0 91.9 404.2 93.0 403.6 94.2 403.1 95.7 402.6 97.4 402.3 99.2 402.0 101.2 401.8 103.2 401.6 105.1 401.6 107.0 401.6 108.9 401.8 110.9 402.0 112.9 402.2 115.0 402.6 116.9 403.1 118.7 403.6 120.3 404.2 121.5 405.0 122.6 406.0 123.8 407.1 124.9 408.3 125.8 409.4 126.2 410.5 126.2 411.4 125.5 412.0 124.0 412.4 121.3 412.7 117.3 412.9 112.5 413.0 107.2 412.9 102.0 412.7 97.2 412.4 93.2Z" fill="none" stroke="#000" stroke-width="1.0"/>
<path d="M342 83.7C350.7 86.7 359.4 96.0 359.4 103C359.4 106.0 351.7 114.8 342 115.3M342 86.6C348.2 89.6 354.5 96.0 354.5 103C354.5 106.0 349.2 112.8 342 113.3M342 90.5C346.3 93.5 350.6 96.0 350.6 103C350.6 106.0 347.3 110.9 342 111.4M342 95.4C344.4 98.4 346.7 96.0 346.7 103C346.7 106.0 345.4 108.5 342 109.0M342.4 79C348 84 352 87 355.5 89.5S360 94 363.5 95.8S370 96.3 374 96.5L391 97.3C395 97.8 398.5 99 400.5 102C402 106 401 110 398 113.5C394 116 386 116.5 378 116.8S364 117.3 355 118.4S346 119.5 342.4 120M342.4 81.6C350 88 356 95 362 99.2S372 98.3 376 98.6S383.5 99.5 385.3 101S389 106 391 111.5C386 112.5 383 112.5 379.5 112.6S370 113.8 367.8 113.8S356 114.5 342.4 117.6M342.4 122.2C352 121.5 362 121.2 372 121.2S392 121 402 120.5M372 105C372 101.5 376 101.3 378.5 101.6S383.8 103 383.6 105.5S381 108.8 377.5 108.6S372 108 372 105ZM391.2 107.5C391 105 394 104.3 396 104.6S397.5 107 396.5 108.5S392 109.6 391.2 107.5Z" fill="none" stroke="#000" stroke-width="0.95"/>
</g>
<rect x="253.3" y="28.5" width="153.7" height="153.3" fill="none" stroke="#6a6a6a" stroke-width="1.1"/>
<path d="M249.5 41.2H253.3 M249.5 72.1H253.3 M249.5 103.1H253.3 M249.5 134.8H253.3 M249.5 160.3H253.3 M251.3 125.3H253.3 M251.3 119.7H253.3 M251.3 115.7H253.3 M251.3 112.6H253.3 M251.3 110.1H253.3 M251.3 108.0H253.3 M251.3 106.2H253.3 M251.3 104.6H253.3 M251.3 93.8H253.3 M251.3 88.3H253.3 M251.3 84.4H253.3 M251.3 81.4H253.3 M251.3 79.0H253.3 M251.3 76.9H253.3 M251.3 75.1H253.3 M251.3 73.5H253.3 M251.3 62.8H253.3 M251.3 57.4H253.3 M251.3 53.5H253.3 M251.3 50.5H253.3 M251.3 48.1H253.3 M251.3 46.0H253.3 M251.3 44.2H253.3 M251.3 42.6H253.3 M251.3 31.9H253.3 M251.3 142.8H253.3 M251.3 149.8H253.3 M251.3 155.8H253.3 M251.3 166.3H253.3 M251.3 172.3H253.3 M251.3 177.3H253.3 M280.7 181.8V185.3 M298.9 181.8V185.3 M331.8 181.8V185.3 M363.3 181.8V185.3 M394.9 181.8V185.3 M308.8 181.8V183.8 M314.6 181.8V183.8 M318.7 181.8V183.8 M321.9 181.8V183.8 M324.5 181.8V183.8 M326.7 181.8V183.8 M328.6 181.8V183.8 M330.3 181.8V183.8 M341.3 181.8V183.8 M346.8 181.8V183.8 M350.8 181.8V183.8 M353.8 181.8V183.8 M356.3 181.8V183.8 M358.4 181.8V183.8 M360.2 181.8V183.8 M361.9 181.8V183.8 M372.8 181.8V183.8 M378.4 181.8V183.8 M382.3 181.8V183.8 M385.4 181.8V183.8 M387.9 181.8V183.8 M390.0 181.8V183.8 M391.8 181.8V183.8 M393.5 181.8V183.8 M261.3 181.8V183.8 M267.3 181.8V183.8 M273.3 181.8V183.8 M286.3 181.8V183.8 M292.3 181.8V183.8" stroke="#444" stroke-width="0.9" fill="none"/>
<rect x="279.7" y="181.8" width="2" height="3.4" fill="#111"/><rect x="250.3" y="159.1" width="3" height="2.6" fill="#111"/>
<text x="230.5" y="45.6" font-size="11">10<tspan font-size="7.8" dy="-4.8">5</tspan></text>
<text x="230.5" y="76.5" font-size="11">10<tspan font-size="7.8" dy="-4.8">4</tspan></text>
<text x="230.5" y="107.5" font-size="11">10<tspan font-size="7.8" dy="-4.8">3</tspan></text>
<text x="230.5" y="139.2" font-size="11">10<tspan font-size="7.8" dy="-4.8">2</tspan></text>
<text x="246.5" y="164.4" font-size="11" text-anchor="end">0</text>
<text x="280.7" y="200.60000000000002" font-size="11" text-anchor="middle">0</text>
<text x="290.50000000000006" y="200.60000000000002" font-size="11">10<tspan font-size="7.8" dy="-4.8">2</tspan></text>
<text x="323.40000000000003" y="200.60000000000002" font-size="11">10<tspan font-size="7.8" dy="-4.8">3</tspan></text>
<text x="354.90000000000003" y="200.60000000000002" font-size="11">10<tspan font-size="7.8" dy="-4.8">4</tspan></text>
<text x="386.5" y="200.60000000000002" font-size="11">10<tspan font-size="7.8" dy="-4.8">5</tspan></text>
<text x="302" y="23.7" font-size="14.45">Asthmatic</text>
<rect x="341.3" y="33.4" width="65.5" height="123.6" fill="none" stroke="#000" stroke-width="2.7"/>
<text x="403.5" y="177.5" font-size="14.7" text-anchor="end">13.4±1.9%</text>
<clipPath id="clip2"><rect x="58" y="226.6" width="153.2" height="152.9"/></clipPath>
<g clip-path="url(#clip2)">
<path d="M195.0 275.5h1v1h-1zM200.7 283.5h1v1h-1zM145.2 317.9h1v1h-1zM153.8 266.7h1v1h-1zM130.5 274.8h1v1h-1zM157.2 265.3h1v1h-1zM134.8 317.4h1v1h-1zM157.6 268.8h1v1h-1zM91.2 297.8h1v1h-1zM96.7 319.7h1v1h-1zM102.3 278.3h1v1h-1zM167.8 268.6h1v1h-1zM181.3 275.8h1v1h-1zM159.3 322.7h1v1h-1zM148.6 267.8h1v1h-1zM145.6 319.4h1v1h-1zM162.8 268.8h1v1h-1zM180.5 271.0h1v1h-1zM115.1 317.3h1v1h-1zM195.9 314.1h1v1h-1zM81.8 278.5h1v1h-1zM175.4 316.0h1v1h-1zM181.1 270.1h1v1h-1zM164.4 319.9h1v1h-1zM92.9 308.9h1v1h-1zM143.6 323.2h1v1h-1zM96.6 311.2h1v1h-1zM90.2 308.2h1v1h-1zM174.7 319.1h1v1h-1zM206.0 309.7h1v1h-1zM168.4 267.4h1v1h-1zM196.7 312.4h1v1h-1zM193.4 277.1h1v1h-1zM103.9 314.1h1v1h-1zM115.1 336.5h1v1h-1zM210.8 312.0h1v1h-1zM124.6 318.6h1v1h-1zM116.7 280.0h1v1h-1zM152.2 259.0h1v1h-1zM152.8 264.9h1v1h-1zM177.4 260.9h1v1h-1zM133.5 273.7h1v1h-1zM128.2 276.1h1v1h-1zM107.0 278.7h1v1h-1zM193.2 314.8h1v1h-1zM153.5 316.9h1v1h-1zM187.8 317.1h1v1h-1zM172.4 317.0h1v1h-1zM142.0 319.1h1v1h-1zM183.5 316.3h1v1h-1zM95.2 288.7h1v1h-1zM92.7 283.7h1v1h-1zM165.4 267.2h1v1h-1zM159.3 259.7h1v1h-1zM164.8 319.0h1v1h-1zM111.3 270.4h1v1h-1zM149.5 319.4h1v1h-1zM106.4 282.7h1v1h-1zM157.7 265.8h1v1h-1zM174.4 318.3h1v1h-1zM145.5 316.3h1v1h-1zM83.7 335.9h1v1h-1zM91.4 303.7h1v1h-1zM123.9 322.1h1v1h-1zM211.0 297.2h1v1h-1zM182.4 275.6h1v1h-1zM204.1 282.6h1v1h-1zM189.7 315.2h1v1h-1zM187.1 320.1h1v1h-1zM157.8 318.0h1v1h-1zM134.5 322.2h1v1h-1zM210.9 302.5h1v1h-1zM209.2 288.8h1v1h-1zM209.4 300.6h1v1h-1zM207.0 322.2h1v1h-1zM209.2 280.5h1v1h-1zM163.1 265.9h1v1h-1zM197.3 282.0h1v1h-1zM202.0 314.6h1v1h-1zM116.1 318.6h1v1h-1zM149.7 322.9h1v1h-1zM180.7 315.8h1v1h-1zM135.1 318.1h1v1h-1zM128.1 318.2h1v1h-1zM206.0 317.8h1v1h-1zM198.7 311.3h1v1h-1zM108.0 323.0h1v1h-1zM114.6 320.3h1v1h-1zM159.0 257.2h1v1h-1zM169.7 269.0h1v1h-1zM173.0 330.8h1v1h-1zM188.9 315.5h1v1h-1zM143.6 269.8h1v1h-1zM131.7 321.1h1v1h-1zM146.5 267.6h1v1h-1zM94.2 302.9h1v1h-1zM196.7 281.9h1v1h-1zM193.1 276.7h1v1h-1zM133.7 274.7h1v1h-1zM168.2 267.2h1v1h-1zM107.7 281.3h1v1h-1zM145.4 268.2h1v1h-1zM206.9 313.1h1v1h-1zM107.3 278.7h1v1h-1zM173.3 317.2h1v1h-1zM105.0 322.6h1v1h-1zM145.0 320.0h1v1h-1zM202.6 316.5h1v1h-1zM170.3 317.2h1v1h-1zM168.3 267.7h1v1h-1zM116.8 325.9h1v1h-1zM96.8 308.7h1v1h-1zM83.5 303.8h1v1h-1zM187.1 315.7h1v1h-1zM140.8 272.1h1v1h-1zM212.3 290.3h1v1h-1zM178.0 269.0h1v1h-1zM177.4 321.3h1v1h-1zM212.7 295.8h1v1h-1zM177.1 269.3h1v1h-1zM176.0 325.3h1v1h-1zM206.1 309.3h1v1h-1zM204.5 316.8h1v1h-1zM148.1 317.7h1v1h-1zM144.1 316.1h1v1h-1zM97.4 286.4h1v1h-1zM121.3 276.7h1v1h-1zM137.9 265.3h1v1h-1zM204.0 313.0h1v1h-1zM169.6 268.4h1v1h-1zM193.8 280.8h1v1h-1zM182.5 320.1h1v1h-1zM113.6 320.8h1v1h-1zM115.1 318.3h1v1h-1zM170.6 272.3h1v1h-1zM113.3 322.8h1v1h-1zM143.2 269.9h1v1h-1zM170.4 321.3h1v1h-1zM152.8 316.8h1v1h-1zM131.8 325.6h1v1h-1zM121.0 328.1h1v1h-1zM94.4 300.6h1v1h-1zM119.7 278.0h1v1h-1zM169.1 321.4h1v1h-1zM187.1 278.1h1v1h-1zM113.2 279.2h1v1h-1zM97.1 307.9h1v1h-1zM167.9 269.7h1v1h-1zM96.3 288.1h1v1h-1zM179.0 269.5h1v1h-1zM208.5 287.6h1v1h-1zM164.4 320.7h1v1h-1zM112.0 321.6h1v1h-1zM156.5 324.0h1v1h-1zM111.3 316.7h1v1h-1zM138.9 316.8h1v1h-1zM100.5 284.7h1v1h-1zM157.9 320.5h1v1h-1zM137.4 269.6h1v1h-1zM164.2 271.1h1v1h-1zM142.9 268.8h1v1h-1zM202.4 283.2h1v1h-1zM156.8 265.8h1v1h-1zM185.5 316.1h1v1h-1zM169.3 271.7h1v1h-1zM193.4 315.8h1v1h-1zM94.2 307.0h1v1h-1zM107.3 316.2h1v1h-1zM177.6 316.1h1v1h-1zM118.1 317.5h1v1h-1zM94.0 292.0h1v1h-1zM95.7 308.0h1v1h-1zM179.7 275.0h1v1h-1zM212.3 296.0h1v1h-1zM148.3 267.7h1v1h-1zM121.5 323.8h1v1h-1zM97.6 322.2h1v1h-1zM131.7 267.0h1v1h-1zM142.3 259.0h1v1h-1zM105.4 282.3h1v1h-1zM209.2 300.9h1v1h-1zM95.6 292.1h1v1h-1zM108.5 279.5h1v1h-1zM193.4 313.0h1v1h-1zM200.4 282.6h1v1h-1zM94.9 283.1h1v1h-1zM147.1 263.3h1v1h-1zM95.8 310.9h1v1h-1zM135.5 267.4h1v1h-1zM177.4 319.2h1v1h-1zM92.7 291.9h1v1h-1zM118.0 280.0h1v1h-1zM201.0 315.2h1v1h-1zM126.0 320.1h1v1h-1zM181.1 271.2h1v1h-1zM206.9 282.5h1v1h-1zM201.2 325.8h1v1h-1zM145.3 319.3h1v1h-1zM108.1 282.1h1v1h-1zM101.9 280.6h1v1h-1zM155.9 318.2h1v1h-1zM147.6 267.2h1v1h-1zM152.3 268.8h1v1h-1zM207.0 308.2h1v1h-1zM91.2 307.8h1v1h-1zM207.4 307.9h1v1h-1zM161.5 317.1h1v1h-1zM165.4 319.9h1v1h-1zM109.0 282.5h1v1h-1zM208.9 278.7h1v1h-1zM183.3 318.8h1v1h-1zM134.6 274.8h1v1h-1zM183.6 319.6h1v1h-1zM107.7 316.3h1v1h-1zM151.7 318.9h1v1h-1zM99.3 314.1h1v1h-1zM144.4 268.4h1v1h-1zM147.2 316.5h1v1h-1zM92.4 295.4h1v1h-1zM175.4 271.9h1v1h-1zM155.1 268.0h1v1h-1zM199.0 275.5h1v1h-1zM160.0 269.0h1v1h-1zM160.5 269.5h1v1h-1zM122.6 318.9h1v1h-1zM182.2 323.2h1v1h-1zM111.5 332.5h1v1h-1zM208.6 306.3h1v1h-1zM208.5 307.3h1v1h-1zM153.8 265.8h1v1h-1zM144.5 268.8h1v1h-1zM99.6 317.3h1v1h-1zM206.0 308.0h1v1h-1zM91.6 307.5h1v1h-1zM181.8 317.0h1v1h-1zM134.2 318.2h1v1h-1zM124.7 316.4h1v1h-1zM141.3 258.8h1v1h-1zM96.0 304.0h1v1h-1zM139.1 318.7h1v1h-1zM191.0 318.1h1v1h-1zM129.4 323.3h1v1h-1zM93.4 299.7h1v1h-1zM93.8 300.0h1v1h-1zM174.0 262.1h1v1h-1zM94.7 298.4h1v1h-1zM96.3 307.2h1v1h-1zM161.6 321.5h1v1h-1zM118.9 320.1h1v1h-1zM146.8 266.0h1v1h-1zM168.8 269.8h1v1h-1zM111.2 281.5h1v1h-1zM166.4 317.4h1v1h-1zM141.9 271.2h1v1h-1zM127.2 317.5h1v1h-1zM84.5 310.8h1v1h-1zM118.6 319.8h1v1h-1zM104.7 279.5h1v1h-1zM98.7 282.9h1v1h-1zM161.6 265.8h1v1h-1zM93.6 299.3h1v1h-1zM130.9 317.4h1v1h-1zM211.2 298.3h1v1h-1zM210.7 299.9h1v1h-1zM114.3 321.3h1v1h-1zM171.8 317.1h1v1h-1zM191.7 278.1h1v1h-1zM103.0 323.0h1v1h-1zM109.4 316.5h1v1h-1zM117.3 277.5h1v1h-1zM115.9 273.3h1v1h-1zM204.0 315.6h1v1h-1zM92.4 297.4h1v1h-1zM97.8 311.5h1v1h-1zM142.4 269.2h1v1h-1zM165.4 317.2h1v1h-1zM114.1 319.3h1v1h-1zM88.2 284.2h1v1h-1zM202.2 277.6h1v1h-1zM173.9 326.2h1v1h-1zM172.5 326.1h1v1h-1zM156.5 269.0h1v1h-1zM93.4 303.4h1v1h-1zM96.6 285.5h1v1h-1zM119.3 276.6h1v1h-1zM84.6 299.5h1v1h-1zM211.4 315.4h1v1h-1zM95.1 280.8h1v1h-1zM124.5 277.9h1v1h-1zM138.8 319.4h1v1h-1zM109.4 315.1h1v1h-1zM103.4 277.9h1v1h-1zM163.3 270.6h1v1h-1zM212.8 281.6h1v1h-1zM145.3 322.6h1v1h-1zM195.5 318.5h1v1h-1zM184.0 273.0h1v1h-1zM202.4 311.9h1v1h-1zM138.3 255.7h1v1h-1zM162.5 320.9h1v1h-1zM127.8 322.7h1v1h-1zM115.3 273.6h1v1h-1zM107.4 279.5h1v1h-1zM117.4 277.7h1v1h-1zM130.2 272.0h1v1h-1zM160.1 315.7h1v1h-1zM105.3 281.4h1v1h-1zM153.7 255.6h1v1h-1zM178.7 273.7h1v1h-1zM199.0 315.2h1v1h-1zM173.2 316.0h1v1h-1zM143.1 260.5h1v1h-1zM208.6 304.9h1v1h-1zM190.7 314.2h1v1h-1zM97.3 314.0h1v1h-1zM103.8 314.9h1v1h-1zM168.9 317.2h1v1h-1zM194.0 279.2h1v1h-1zM97.7 319.1h1v1h-1zM97.6 286.1h1v1h-1zM166.0 265.8h1v1h-1zM103.5 314.8h1v1h-1zM108.0 279.6h1v1h-1zM195.7 313.9h1v1h-1zM112.3 281.0h1v1h-1zM95.0 295.5h1v1h-1zM91.0 305.9h1v1h-1zM113.7 316.3h1v1h-1zM121.9 277.2h1v1h-1zM107.6 315.5h1v1h-1zM128.2 274.3h1v1h-1zM151.3 317.7h1v1h-1zM200.5 274.0h1v1h-1zM159.5 266.6h1v1h-1zM142.6 264.0h1v1h-1zM94.7 311.4h1v1h-1zM120.9 278.7h1v1h-1zM205.5 308.7h1v1h-1zM103.9 278.2h1v1h-1zM98.4 285.8h1v1h-1zM123.9 319.6h1v1h-1zM175.6 321.7h1v1h-1zM139.3 264.5h1v1h-1zM108.5 323.4h1v1h-1zM210.3 296.9h1v1h-1zM205.3 316.6h1v1h-1zM111.9 322.1h1v1h-1zM172.1 272.0h1v1h-1zM109.5 281.6h1v1h-1zM147.4 320.0h1v1h-1zM93.2 299.5h1v1h-1zM105.0 320.5h1v1h-1zM162.2 318.7h1v1h-1zM133.3 337.6h1v1h-1zM197.1 315.2h1v1h-1zM152.8 266.4h1v1h-1zM186.9 320.7h1v1h-1zM86.4 272.1h1v1h-1zM166.3 270.5h1v1h-1zM115.3 280.8h1v1h-1zM85.0 305.7h1v1h-1zM77.6 281.6h1v1h-1zM94.7 292.5h1v1h-1zM90.0 307.5h1v1h-1zM91.1 277.4h1v1h-1zM72.4 295.2h1v1h-1zM83.6 293.8h1v1h-1zM70.3 304.2h1v1h-1zM91.9 294.6h1v1h-1zM70.7 283.3h1v1h-1zM80.6 293.2h1v1h-1zM74.5 285.5h1v1h-1zM78.0 287.8h1v1h-1zM87.4 295.4h1v1h-1zM77.1 290.6h1v1h-1zM85.0 297.6h1v1h-1zM72.6 281.0h1v1h-1zM96.9 316.4h1v1h-1zM76.2 306.6h1v1h-1zM93.0 301.6h1v1h-1zM104.4 283.1h1v1h-1zM58.1 275.1h1v1h-1zM72.7 287.1h1v1h-1zM80.7 292.9h1v1h-1zM94.6 315.5h1v1h-1zM77.8 307.0h1v1h-1zM86.6 290.2h1v1h-1zM75.4 306.1h1v1h-1zM88.5 306.3h1v1h-1zM70.4 295.1h1v1h-1zM91.2 306.2h1v1h-1zM52.4 298.0h1v1h-1zM63.5 289.0h1v1h-1zM101.2 284.2h1v1h-1zM84.5 293.9h1v1h-1zM73.6 304.2h1v1h-1zM105.1 282.5h1v1h-1zM93.4 280.2h1v1h-1zM94.2 300.1h1v1h-1zM78.4 270.0h1v1h-1zM89.1 311.8h1v1h-1zM87.9 291.0h1v1h-1zM65.9 301.7h1v1h-1zM88.8 312.1h1v1h-1zM80.8 281.6h1v1h-1zM95.8 285.3h1v1h-1zM96.0 315.6h1v1h-1zM76.2 292.4h1v1h-1zM76.6 293.8h1v1h-1zM84.7 297.1h1v1h-1zM89.4 304.7h1v1h-1zM78.5 307.2h1v1h-1zM81.5 296.0h1v1h-1zM88.9 291.9h1v1h-1zM87.0 294.7h1v1h-1zM94.6 297.8h1v1h-1zM85.1 307.1h1v1h-1zM73.7 296.2h1v1h-1zM64.7 311.8h1v1h-1zM91.0 287.1h1v1h-1zM79.3 299.9h1v1h-1zM79.1 311.2h1v1h-1zM79.7 306.9h1v1h-1zM66.6 298.1h1v1h-1zM78.7 286.9h1v1h-1zM56.1 288.4h1v1h-1zM78.6 293.6h1v1h-1zM73.5 297.9h1v1h-1zM87.3 281.6h1v1h-1zM80.5 288.2h1v1h-1zM84.3 299.8h1v1h-1zM90.1 302.7h1v1h-1zM74.9 282.1h1v1h-1zM80.3 291.6h1v1h-1zM79.0 279.6h1v1h-1zM83.4 327.6h1v1h-1zM62.5 295.6h1v1h-1zM90.8 291.8h1v1h-1zM72.9 283.9h1v1h-1zM118.3 277.9h1v1h-1zM82.0 294.6h1v1h-1zM92.9 292.5h1v1h-1zM76.9 308.6h1v1h-1zM79.9 279.9h1v1h-1zM70.0 299.0h1v1h-1zM71.8 307.3h1v1h-1zM60.6 277.0h1v1h-1zM94.4 301.1h1v1h-1zM70.8 280.2h1v1h-1zM86.4 299.8h1v1h-1zM86.0 308.6h1v1h-1zM76.0 295.0h1v1h-1zM83.1 297.6h1v1h-1zM81.7 288.6h1v1h-1zM77.5 297.7h1v1h-1zM83.1 305.4h1v1h-1zM83.2 293.3h1v1h-1zM72.1 293.7h1v1h-1zM69.3 298.6h1v1h-1zM73.9 302.6h1v1h-1zM83.9 279.9h1v1h-1zM85.8 299.6h1v1h-1zM92.4 304.5h1v1h-1zM83.9 297.9h1v1h-1zM94.0 306.9h1v1h-1zM83.9 285.9h1v1h-1zM86.7 291.2h1v1h-1zM79.7 285.9h1v1h-1zM82.5 295.5h1v1h-1zM70.2 293.2h1v1h-1zM82.6 283.8h1v1h-1zM76.5 294.3h1v1h-1zM92.5 291.0h1v1h-1zM79.4 292.5h1v1h-1zM54.0 305.7h1v1h-1zM88.9 297.1h1v1h-1zM88.9 277.9h1v1h-1zM65.2 293.4h1v1h-1zM80.1 281.8h1v1h-1zM81.9 303.9h1v1h-1zM58.7 308.2h1v1h-1zM89.5 294.8h1v1h-1zM87.1 299.1h1v1h-1zM85.0 281.7h1v1h-1zM71.6 274.3h1v1h-1zM75.2 289.9h1v1h-1zM76.0 292.7h1v1h-1zM87.5 281.1h1v1h-1zM72.4 295.8h1v1h-1zM86.5 300.9h1v1h-1zM60.0 309.3h1v1h-1zM84.2 291.6h1v1h-1zM76.8 296.0h1v1h-1zM83.6 300.5h1v1h-1zM63.6 285.4h1v1h-1zM84.5 307.2h1v1h-1zM57.0 303.3h1v1h-1zM71.9 292.9h1v1h-1zM95.6 330.1h1v1h-1zM79.0 302.8h1v1h-1zM72.5 303.7h1v1h-1zM92.2 311.6h1v1h-1zM82.0 304.1h1v1h-1zM84.7 297.0h1v1h-1zM89.0 301.5h1v1h-1zM71.3 286.6h1v1h-1zM90.7 301.6h1v1h-1zM60.5 280.9h1v1h-1zM66.1 300.2h1v1h-1zM75.9 280.7h1v1h-1zM75.5 312.7h1v1h-1zM90.0 284.5h1v1h-1zM90.2 304.7h1v1h-1zM86.2 290.2h1v1h-1zM88.1 297.9h1v1h-1zM87.3 289.0h1v1h-1zM81.7 318.0h1v1h-1zM62.5 304.6h1v1h-1zM58.4 311.8h1v1h-1zM58.5 302.3h1v1h-1zM81.9 301.5h1v1h-1zM80.0 296.5h1v1h-1zM81.0 292.9h1v1h-1zM84.7 300.7h1v1h-1zM80.0 296.6h1v1h-1zM72.0 293.8h1v1h-1zM66.7 282.5h1v1h-1zM62.6 292.3h1v1h-1zM95.1 300.7h1v1h-1zM91.8 290.8h1v1h-1zM68.3 298.4h1v1h-1zM79.5 293.9h1v1h-1zM87.0 285.7h1v1h-1zM76.1 288.4h1v1h-1zM84.2 292.5h1v1h-1zM94.4 292.8h1v1h-1zM64.2 305.5h1v1h-1zM74.7 285.2h1v1h-1zM81.9 276.3h1v1h-1zM74.8 301.5h1v1h-1zM91.4 294.1h1v1h-1zM84.4 318.7h1v1h-1zM72.3 308.7h1v1h-1zM91.4 300.7h1v1h-1zM88.9 304.0h1v1h-1zM76.9 296.3h1v1h-1zM77.8 304.1h1v1h-1zM67.0 289.6h1v1h-1zM81.5 288.7h1v1h-1zM91.4 290.9h1v1h-1zM92.8 309.8h1v1h-1zM88.4 309.6h1v1h-1zM90.9 289.7h1v1h-1zM76.2 306.0h1v1h-1zM77.4 293.8h1v1h-1zM94.9 305.2h1v1h-1zM87.0 292.3h1v1h-1zM74.0 304.1h1v1h-1zM87.5 294.2h1v1h-1zM91.0 292.6h1v1h-1zM89.7 295.1h1v1h-1zM83.4 296.7h1v1h-1zM76.9 289.9h1v1h-1zM86.5 282.7h1v1h-1zM83.8 291.7h1v1h-1zM75.3 278.5h1v1h-1zM85.8 274.3h1v1h-1zM69.4 269.4h1v1h-1zM84.7 289.6h1v1h-1zM79.1 307.9h1v1h-1zM92.3 280.2h1v1h-1zM83.3 292.3h1v1h-1zM93.2 278.3h1v1h-1zM80.0 298.7h1v1h-1zM73.6 298.3h1v1h-1zM87.0 307.8h1v1h-1zM81.3 310.6h1v1h-1zM83.7 304.9h1v1h-1zM76.0 290.0h1v1h-1zM88.0 283.1h1v1h-1zM83.0 285.7h1v1h-1zM59.7 279.1h1v1h-1zM79.8 312.1h1v1h-1zM85.7 293.6h1v1h-1zM94.5 296.5h1v1h-1zM76.2 297.2h1v1h-1zM73.9 314.0h1v1h-1zM94.2 290.1h1v1h-1zM75.9 306.3h1v1h-1zM83.3 298.2h1v1h-1zM87.1 294.0h1v1h-1zM89.9 277.6h1v1h-1zM82.3 303.9h1v1h-1zM70.7 288.5h1v1h-1zM92.7 291.1h1v1h-1zM77.7 297.5h1v1h-1zM76.8 296.3h1v1h-1zM91.4 289.2h1v1h-1zM71.2 296.9h1v1h-1zM77.2 298.0h1v1h-1zM79.7 295.6h1v1h-1zM74.4 301.7h1v1h-1zM62.3 293.0h1v1h-1zM90.5 306.5h1v1h-1zM90.3 288.8h1v1h-1zM84.7 282.1h1v1h-1zM78.0 295.0h1v1h-1zM84.4 306.3h1v1h-1zM88.8 290.6h1v1h-1zM71.4 289.6h1v1h-1zM78.8 292.2h1v1h-1zM76.4 296.9h1v1h-1zM89.4 293.8h1v1h-1zM84.9 298.3h1v1h-1zM68.7 279.5h1v1h-1zM75.8 309.3h1v1h-1zM72.1 287.4h1v1h-1zM83.8 308.1h1v1h-1zM75.7 299.6h1v1h-1zM95.1 309.0h1v1h-1zM135.2 267.7h1v1h-1zM187.3 264.4h1v1h-1zM189.1 269.7h1v1h-1zM185.3 269.7h1v1h-1zM210.4 264.3h1v1h-1zM150.5 263.6h1v1h-1zM177.0 266.5h1v1h-1zM182.4 268.3h1v1h-1zM166.3 267.6h1v1h-1zM210.9 264.1h1v1h-1zM173.4 264.3h1v1h-1zM182.7 255.2h1v1h-1zM188.0 272.5h1v1h-1zM182.1 267.1h1v1h-1zM190.7 276.4h1v1h-1zM212.9 268.0h1v1h-1zM219.9 264.8h1v1h-1zM167.4 271.6h1v1h-1zM195.3 267.8h1v1h-1zM182.6 267.5h1v1h-1zM129.6 271.1h1v1h-1zM218.9 262.5h1v1h-1zM205.1 265.8h1v1h-1zM180.5 268.0h1v1h-1zM226.1 270.3h1v1h-1zM220.6 268.8h1v1h-1zM196.3 270.6h1v1h-1zM184.9 273.2h1v1h-1zM197.6 267.5h1v1h-1zM182.9 266.4h1v1h-1zM182.3 267.3h1v1h-1zM142.2 270.2h1v1h-1zM201.1 269.1h1v1h-1zM210.6 264.6h1v1h-1zM182.2 270.9h1v1h-1zM217.1 265.8h1v1h-1zM189.0 272.0h1v1h-1zM199.8 281.0h1v1h-1zM224.2 275.8h1v1h-1zM179.5 269.8h1v1h-1zM186.2 274.3h1v1h-1zM177.5 275.3h1v1h-1zM230.8 273.8h1v1h-1zM174.0 269.2h1v1h-1zM206.1 263.5h1v1h-1zM173.5 272.9h1v1h-1zM202.1 267.8h1v1h-1zM197.1 268.8h1v1h-1zM204.1 261.5h1v1h-1zM194.9 269.1h1v1h-1zM174.1 262.9h1v1h-1zM178.3 271.0h1v1h-1zM135.9 269.5h1v1h-1zM185.7 269.4h1v1h-1zM200.0 271.9h1v1h-1zM182.0 268.5h1v1h-1zM168.8 268.1h1v1h-1zM157.7 263.0h1v1h-1zM177.4 275.0h1v1h-1zM181.8 270.9h1v1h-1zM208.5 267.1h1v1h-1zM178.7 271.0h1v1h-1zM166.1 267.9h1v1h-1zM175.8 266.4h1v1h-1zM166.5 271.2h1v1h-1zM123.8 268.7h1v1h-1zM139.0 262.9h1v1h-1zM148.9 266.9h1v1h-1zM190.0 279.0h1v1h-1zM176.5 265.9h1v1h-1zM182.1 275.9h1v1h-1zM207.2 268.8h1v1h-1zM206.7 269.5h1v1h-1zM188.0 262.1h1v1h-1zM160.8 267.9h1v1h-1zM215.3 280.6h1v1h-1zM143.2 269.3h1v1h-1zM173.3 268.3h1v1h-1zM188.5 269.3h1v1h-1zM173.7 271.6h1v1h-1zM125.7 272.4h1v1h-1zM176.4 269.9h1v1h-1zM241.3 269.1h1v1h-1zM212.4 266.7h1v1h-1zM181.5 263.4h1v1h-1zM151.5 262.0h1v1h-1zM186.9 273.3h1v1h-1zM149.6 260.7h1v1h-1zM183.4 277.0h1v1h-1zM187.5 274.3h1v1h-1zM168.5 268.5h1v1h-1zM184.6 264.2h1v1h-1zM170.3 270.2h1v1h-1zM164.3 270.1h1v1h-1zM216.3 275.6h1v1h-1zM192.8 266.3h1v1h-1zM170.8 268.1h1v1h-1zM159.5 269.7h1v1h-1zM182.8 268.6h1v1h-1zM192.4 266.9h1v1h-1zM199.4 261.4h1v1h-1zM214.8 261.8h1v1h-1zM189.8 266.6h1v1h-1zM228.5 275.0h1v1h-1zM207.0 281.6h1v1h-1zM198.9 278.6h1v1h-1zM211.4 272.0h1v1h-1zM169.2 269.4h1v1h-1zM165.8 267.4h1v1h-1zM207.7 281.6h1v1h-1zM149.3 264.7h1v1h-1zM170.4 267.9h1v1h-1zM215.8 268.7h1v1h-1zM194.3 277.3h1v1h-1zM168.9 267.0h1v1h-1zM224.7 273.9h1v1h-1zM145.6 268.0h1v1h-1zM189.5 263.9h1v1h-1zM172.7 271.2h1v1h-1zM190.9 270.9h1v1h-1zM171.5 264.2h1v1h-1zM157.7 265.7h1v1h-1zM183.6 266.1h1v1h-1zM191.4 272.3h1v1h-1zM170.5 271.2h1v1h-1zM201.1 272.5h1v1h-1zM167.3 267.6h1v1h-1zM188.2 267.0h1v1h-1zM208.7 263.4h1v1h-1zM127.3 266.5h1v1h-1zM181.2 271.1h1v1h-1zM193.7 270.5h1v1h-1zM156.6 261.6h1v1h-1zM194.1 268.9h1v1h-1zM162.6 265.2h1v1h-1zM220.6 271.3h1v1h-1zM155.0 268.0h1v1h-1zM157.0 264.4h1v1h-1zM121.3 275.6h1v1h-1zM151.3 263.1h1v1h-1zM220.5 268.0h1v1h-1zM208.3 265.3h1v1h-1zM147.1 265.6h1v1h-1zM226.7 266.3h1v1h-1zM197.2 265.8h1v1h-1zM173.8 271.4h1v1h-1zM198.2 260.7h1v1h-1zM187.6 276.2h1v1h-1zM155.8 265.1h1v1h-1zM178.1 258.5h1v1h-1zM169.4 266.9h1v1h-1zM160.0 269.2h1v1h-1zM202.2 271.6h1v1h-1zM152.0 267.4h1v1h-1zM200.2 269.6h1v1h-1zM166.3 270.8h1v1h-1zM180.9 262.3h1v1h-1zM178.0 264.4h1v1h-1zM177.7 266.1h1v1h-1zM176.9 270.1h1v1h-1zM198.6 278.2h1v1h-1zM185.2 268.6h1v1h-1zM117.0 271.2h1v1h-1zM210.2 268.9h1v1h-1zM215.5 269.0h1v1h-1zM197.0 274.9h1v1h-1zM185.6 271.4h1v1h-1zM192.7 272.5h1v1h-1zM190.2 264.1h1v1h-1zM135.4 270.1h1v1h-1z" fill="#333"/>
<path d="M96.0 291.0 96.2 289.8 96.5 288.9 96.8 288.2 97.2 287.5 97.7 287.0 98.3 286.5 99.1 286.0 100.0 285.5 101.1 285.0 102.4 284.5 103.9 284.0 105.5 283.6 107.1 283.2 108.8 282.8 110.4 282.4 112.0 282.0 113.5 281.6 115.0 281.2 116.5 280.8 118.0 280.5 119.5 280.1 121.0 279.7 122.5 279.3 124.0 278.8 125.5 278.3 127.1 277.8 128.7 277.2 130.3 276.6 131.9 276.1 133.4 275.5 134.7 275.0 136.0 274.5 137.1 274.1 138.2 273.7 139.1 273.3 140.0 272.9 140.8 272.6 141.6 272.2 142.3 271.9 143.0 271.5 143.5 271.1 143.9 270.6 144.1 270.1 144.2 269.6 144.5 269.2 145.0 268.8 145.8 268.6 147.0 268.5 148.7 268.6 150.7 268.8 153.1 269.1 155.6 269.5 158.3 269.9 161.0 270.5 163.6 271.0 166.0 271.6 168.3 272.2 170.7 272.9 173.0 273.7 175.3 274.5 177.6 275.3 179.8 276.2 181.9 277.0 184.0 277.7 186.0 278.4 187.9 279.1 189.7 279.8 191.5 280.5 193.3 281.1 194.9 281.8 196.5 282.4 198.0 283.0 199.4 283.6 200.8 284.1 202.1 284.5 203.4 285.0 204.5 285.5 205.6 286.0 206.5 286.6 207.3 287.3 208.0 288.1 208.5 288.9 208.9 289.8 209.2 290.8 209.4 291.8 209.5 292.8 209.5 294.0 209.5 295.2 209.4 296.6 209.4 298.1 209.2 299.8 209.0 301.5 208.6 303.1 208.1 304.7 207.3 306.2 206.4 307.4 205.2 308.4 203.7 309.3 202.1 310.0 200.3 310.6 198.4 311.2 196.4 311.7 194.4 312.2 192.4 312.7 190.5 313.2 188.5 313.6 186.6 314.0 184.6 314.3 182.5 314.6 180.2 314.9 177.7 315.1 175.0 315.3 171.9 315.4 168.4 315.5 164.7 315.5 160.8 315.5 157.0 315.5 153.3 315.5 149.9 315.5 147.0 315.5 144.6 315.6 142.6 315.7 140.8 315.8 139.3 315.9 137.8 316.0 136.2 316.1 134.5 316.2 132.5 316.2 130.2 316.2 127.6 316.1 124.8 316.0 122.0 315.9 119.2 315.8 116.5 315.7 114.1 315.5 112.0 315.3 110.2 315.1 108.6 314.9 107.3 314.7 106.0 314.4 104.9 314.1 103.9 313.8 102.9 313.3 102.0 312.8 101.1 312.2 100.3 311.6 99.5 310.9 98.8 310.2 98.2 309.3 97.7 308.4 97.2 307.3 96.8 306.0 96.5 304.5 96.2 302.6 96.0 300.6 95.8 298.4 95.8 296.3 95.8 294.3 95.8 292.5Z" fill="#fff"/>
<path d="M102.5 293.0 102.6 292.1 102.8 291.4 103.0 290.9 103.2 290.5 103.5 290.1 103.9 289.8 104.4 289.4 105.0 289.0 105.8 288.5 106.7 288.1 107.8 287.7 109.0 287.2 110.2 286.8 111.5 286.4 112.7 285.9 114.0 285.5 115.3 285.1 116.6 284.6 118.0 284.2 119.3 283.8 120.8 283.4 122.2 282.9 123.6 282.5 125.0 282.0 126.4 281.5 128.0 280.9 129.5 280.3 131.0 279.7 132.5 279.1 134.0 278.5 135.3 278.0 136.5 277.5 137.6 277.1 138.5 276.6 139.4 276.3 140.2 275.9 141.0 275.6 141.7 275.2 142.3 274.9 143.0 274.5 143.5 274.1 143.8 273.6 144.1 273.1 144.3 272.6 144.6 272.2 145.1 271.8 145.8 271.6 147.0 271.5 148.6 271.6 150.5 271.8 152.7 272.1 155.1 272.4 157.6 272.9 160.2 273.4 162.7 273.9 165.0 274.5 167.3 275.1 169.6 275.8 171.9 276.6 174.3 277.4 176.6 278.2 178.8 279.0 181.0 279.8 183.0 280.5 184.9 281.2 186.8 281.8 188.6 282.5 190.4 283.1 192.0 283.7 193.6 284.3 195.1 284.9 196.5 285.5 197.8 286.0 199.0 286.5 200.2 287.0 201.2 287.4 202.2 287.9 203.1 288.4 203.8 288.9 204.5 289.5 205.1 290.1 205.5 290.8 205.9 291.4 206.2 292.2 206.3 292.9 206.5 293.7 206.5 294.6 206.5 295.5 206.5 296.6 206.4 297.7 206.3 299.0 206.2 300.3 205.9 301.6 205.4 302.9 204.8 304.0 204.0 305.0 202.9 305.9 201.7 306.6 200.2 307.3 198.6 307.9 196.9 308.5 195.1 309.0 193.3 309.5 191.5 310.0 189.7 310.4 187.9 310.8 186.1 311.2 184.2 311.5 182.2 311.8 180.0 312.1 177.6 312.3 175.0 312.5 172.0 312.7 168.5 312.8 164.7 312.8 160.9 312.9 157.0 312.9 153.3 312.9 149.9 313.0 147.0 313.0 144.6 313.1 142.5 313.1 140.8 313.2 139.2 313.3 137.7 313.4 136.2 313.4 134.5 313.5 132.5 313.5 130.2 313.5 127.7 313.5 125.0 313.5 122.3 313.4 119.7 313.3 117.2 313.3 114.9 313.1 113.0 313.0 111.4 312.8 110.1 312.7 108.9 312.5 107.9 312.3 107.1 312.1 106.3 311.8 105.7 311.5 105.0 311.0 104.4 310.5 103.9 309.9 103.5 309.3 103.2 308.6 103.0 307.9 102.8 307.0 102.7 306.1 102.5 305.0 102.4 303.7 102.3 302.2 102.2 300.6 102.2 298.9 102.2 297.2 102.3 295.6 102.4 294.2ZM104.2 295.1 104.3 294.3 104.5 293.6 104.7 293.0 104.9 292.5 105.2 292.1 105.6 291.7 106.1 291.3 106.8 290.8 107.5 290.2 108.5 289.7 109.5 289.1 110.6 288.6 111.8 288.0 113.0 287.5 114.2 286.9 115.4 286.4 116.7 285.9 117.9 285.3 119.2 284.8 120.5 284.3 121.8 283.8 123.1 283.3 124.5 282.8 125.8 282.2 127.2 281.7 128.6 281.1 130.0 280.5 131.4 279.8 132.9 279.2 134.2 278.6 135.4 278.1 136.6 277.6 137.6 277.1 138.5 276.7 139.4 276.3 140.1 276.0 140.8 275.7 141.5 275.3 142.2 275.0 142.8 274.7 143.4 274.3 143.7 273.8 144.0 273.4 144.3 272.9 144.6 272.5 145.1 272.2 145.9 272.0 147.0 272.0 148.5 272.1 150.3 272.3 152.4 272.6 154.6 273.0 157.0 273.5 159.3 274.1 161.7 274.6 163.9 275.2 166.0 275.9 168.2 276.6 170.5 277.3 172.7 278.2 174.9 279.0 177.0 279.8 179.1 280.6 181.1 281.4 183.0 282.1 184.8 282.8 186.6 283.5 188.4 284.2 190.0 284.9 191.6 285.5 193.1 286.2 194.5 286.8 195.8 287.4 197.0 287.9 198.1 288.4 199.1 288.9 200.0 289.4 200.9 289.9 201.7 290.4 202.3 291.0 202.9 291.6 203.5 292.3 203.9 292.9 204.2 293.6 204.5 294.3 204.7 295.1 204.8 295.8 204.8 296.7 204.8 297.7 204.7 298.7 204.6 299.8 204.4 301.0 204.0 302.2 203.5 303.3 202.9 304.3 202.1 305.2 201.1 305.9 199.8 306.6 198.5 307.2 196.9 307.8 195.3 308.3 193.6 308.8 191.9 309.3 190.1 309.7 188.4 310.1 186.7 310.4 184.9 310.8 183.1 311.1 181.1 311.3 179.0 311.6 176.7 311.8 174.2 311.9 171.3 312.1 168.0 312.2 164.4 312.2 160.8 312.3 157.1 312.3 153.6 312.3 150.3 312.3 147.5 312.4 145.1 312.4 143.1 312.5 141.3 312.6 139.7 312.6 138.1 312.7 136.5 312.7 134.8 312.8 132.9 312.8 130.7 312.8 128.4 312.8 125.9 312.7 123.4 312.7 121.0 312.7 118.7 312.6 116.6 312.5 114.8 312.4 113.3 312.2 112.0 312.1 110.8 311.9 109.9 311.8 109.0 311.6 108.3 311.3 107.6 311.0 106.9 310.6 106.3 310.1 105.8 309.7 105.5 309.1 105.1 308.5 104.9 307.9 104.7 307.1 104.5 306.3 104.3 305.4 104.2 304.3 104.1 303.0 104.0 301.6 103.9 300.2 103.9 298.7 104.0 297.4 104.1 296.1ZM105.9 297.2 106.0 296.4 106.2 295.7 106.4 295.2 106.6 294.6 107.0 294.1 107.4 293.6 107.9 293.1 108.5 292.5 109.3 291.9 110.2 291.2 111.2 290.6 112.3 289.9 113.4 289.2 114.6 288.6 115.7 287.9 116.9 287.3 118.0 286.6 119.2 286.0 120.4 285.4 121.6 284.8 122.9 284.3 124.1 283.7 125.4 283.1 126.6 282.5 127.9 281.9 129.2 281.2 130.5 280.6 131.9 279.9 133.2 279.3 134.4 278.7 135.6 278.2 136.7 277.7 137.6 277.2 138.5 276.8 139.3 276.4 140.0 276.1 140.7 275.8 141.4 275.4 142.0 275.1 142.7 274.8 143.2 274.5 143.6 274.1 143.9 273.6 144.2 273.2 144.6 272.9 145.2 272.6 145.9 272.5 147.0 272.5 148.4 272.6 150.1 272.9 152.0 273.2 154.1 273.7 156.3 274.2 158.5 274.7 160.7 275.3 162.8 275.9 164.8 276.6 166.9 277.3 169.0 278.1 171.1 279.0 173.2 279.8 175.3 280.6 177.3 281.5 179.2 282.3 181.0 283.0 182.8 283.8 184.6 284.5 186.4 285.3 188.0 286.0 189.6 286.7 191.1 287.4 192.5 288.1 193.8 288.7 194.9 289.3 196.0 289.8 197.0 290.3 197.9 290.9 198.7 291.4 199.5 291.9 200.2 292.5 200.8 293.2 201.4 293.8 201.9 294.4 202.3 295.0 202.7 295.7 202.9 296.4 203.1 297.1 203.1 297.9 203.1 298.8 203.0 299.7 202.8 300.7 202.5 301.7 202.2 302.7 201.6 303.7 201.0 304.5 200.2 305.3 199.2 306.0 198.0 306.6 196.7 307.2 195.2 307.7 193.7 308.1 192.1 308.6 190.5 309.0 188.8 309.4 187.1 309.7 185.5 310.0 183.7 310.3 182.0 310.6 180.1 310.8 178.0 311.0 175.8 311.2 173.4 311.4 170.6 311.5 167.5 311.6 164.1 311.6 160.6 311.7 157.2 311.7 153.8 311.7 150.7 311.7 148.0 311.7 145.6 311.8 143.6 311.8 141.8 311.9 140.1 311.9 138.5 312.0 136.9 312.0 135.2 312.1 133.3 312.1 131.2 312.1 129.0 312.1 126.8 312.0 124.5 312.0 122.2 312.0 120.1 311.9 118.2 311.8 116.5 311.7 115.1 311.6 113.8 311.5 112.8 311.4 111.8 311.2 111.0 311.0 110.2 310.8 109.5 310.5 108.8 310.2 108.3 309.8 107.8 309.4 107.4 308.9 107.0 308.4 106.8 307.9 106.6 307.3 106.4 306.6 106.2 305.8 106.0 304.9 105.9 303.8 105.8 302.7 105.7 301.5 105.7 300.3 105.7 299.1 105.7 298.1ZM107.4 299.1 107.6 298.4 107.8 297.8 108.0 297.2 108.3 296.6 108.6 296.0 109.0 295.4 109.6 294.8 110.2 294.2 110.9 293.5 111.8 292.7 112.8 291.9 113.8 291.2 114.9 290.4 116.0 289.6 117.1 288.8 118.2 288.1 119.3 287.4 120.4 286.7 121.6 286.0 122.7 285.3 123.9 284.7 125.0 284.0 126.2 283.4 127.3 282.7 128.5 282.0 129.8 281.4 131.0 280.7 132.3 280.1 133.5 279.4 134.6 278.8 135.7 278.2 136.7 277.7 137.6 277.3 138.5 276.9 139.2 276.5 139.9 276.2 140.6 275.9 141.3 275.6 141.9 275.3 142.5 275.0 143.1 274.6 143.5 274.3 143.9 273.9 144.2 273.5 144.6 273.2 145.2 273.0 146.0 272.9 147.0 272.9 148.3 273.1 149.9 273.4 151.7 273.8 153.7 274.2 155.7 274.8 157.7 275.4 159.8 276.0 161.7 276.6 163.6 277.3 165.6 278.0 167.6 278.9 169.6 279.7 171.6 280.6 173.6 281.4 175.5 282.3 177.4 283.1 179.2 283.9 181.0 284.7 182.8 285.5 184.5 286.3 186.2 287.1 187.8 287.8 189.3 288.6 190.6 289.3 191.9 289.9 193.0 290.5 194.0 291.1 195.0 291.7 195.9 292.2 196.7 292.8 197.5 293.4 198.2 294.0 198.8 294.6 199.5 295.2 200.0 295.8 200.5 296.4 201.0 297.0 201.3 297.7 201.5 298.3 201.6 299.0 201.5 299.8 201.4 300.6 201.2 301.5 200.9 302.3 200.4 303.2 199.9 304.0 199.2 304.8 198.4 305.5 197.4 306.1 196.3 306.6 195.0 307.1 193.7 307.6 192.2 308.0 190.7 308.4 189.1 308.7 187.5 309.1 185.9 309.4 184.3 309.7 182.6 309.9 180.9 310.2 179.1 310.4 177.1 310.6 175.0 310.7 172.6 310.9 170.0 311.0 167.0 311.0 163.8 311.1 160.5 311.1 157.2 311.1 154.0 311.1 151.0 311.1 148.4 311.1 146.1 311.2 144.1 311.2 142.2 311.2 140.5 311.3 138.8 311.3 137.2 311.4 135.5 311.4 133.7 311.4 131.7 311.4 129.7 311.4 127.6 311.4 125.5 311.4 123.4 311.3 121.5 311.3 119.7 311.2 118.2 311.1 116.8 311.0 115.6 310.9 114.6 310.8 113.6 310.7 112.8 310.5 112.0 310.3 111.3 310.1 110.6 309.8 110.1 309.5 109.6 309.2 109.2 308.8 108.8 308.4 108.6 307.9 108.3 307.4 108.1 306.8 107.9 306.2 107.7 305.4 107.6 304.6 107.4 303.7 107.3 302.7 107.3 301.8 107.3 300.8 107.3 299.9ZM108.9 300.9 109.1 300.3 109.2 299.6 109.5 299.0 109.8 298.4 110.1 297.8 110.6 297.1 111.1 296.4 111.7 295.7 112.4 294.9 113.3 294.1 114.2 293.2 115.2 292.3 116.3 291.4 117.4 290.5 118.4 289.7 119.5 288.9 120.5 288.1 121.6 287.3 122.6 286.5 123.7 285.8 124.8 285.0 125.9 284.3 127.0 283.6 128.1 282.9 129.2 282.2 130.3 281.5 131.5 280.8 132.6 280.2 133.7 279.5 134.8 278.9 135.9 278.3 136.8 277.8 137.7 277.3 138.4 276.9 139.2 276.6 139.9 276.2 140.5 275.9 141.1 275.7 141.8 275.4 142.4 275.1 143.0 274.8 143.4 274.5 143.8 274.1 144.2 273.8 144.6 273.5 145.2 273.4 146.0 273.3 147.0 273.3 148.3 273.5 149.8 273.8 151.4 274.3 153.2 274.8 155.1 275.3 157.0 275.9 158.9 276.6 160.7 277.2 162.6 277.9 164.4 278.7 166.3 279.5 168.2 280.4 170.1 281.3 172.0 282.1 173.9 283.0 175.7 283.9 177.5 284.7 179.2 285.5 181.0 286.4 182.8 287.2 184.4 288.1 186.0 288.9 187.5 289.6 188.9 290.4 190.1 291.1 191.2 291.7 192.2 292.3 193.2 292.9 194.0 293.5 194.8 294.1 195.6 294.7 196.3 295.3 197.0 295.9 197.6 296.5 198.3 297.1 198.9 297.6 199.3 298.2 199.7 298.8 200.0 299.4 200.1 300.1 200.1 300.7 199.9 301.5 199.7 302.2 199.3 302.9 198.8 303.7 198.2 304.4 197.5 305.0 196.7 305.6 195.7 306.1 194.7 306.6 193.5 307.0 192.2 307.4 190.8 307.8 189.4 308.2 187.8 308.5 186.3 308.8 184.8 309.1 183.2 309.3 181.6 309.6 179.9 309.8 178.2 309.9 176.3 310.1 174.2 310.2 171.9 310.4 169.4 310.5 166.6 310.5 163.6 310.5 160.4 310.5 157.3 310.5 154.2 310.5 151.4 310.5 148.8 310.6 146.6 310.6 144.5 310.6 142.6 310.7 140.9 310.7 139.2 310.7 137.5 310.7 135.8 310.7 134.0 310.8 132.2 310.8 130.2 310.8 128.3 310.7 126.4 310.7 124.5 310.7 122.8 310.7 121.2 310.6 119.7 310.6 118.4 310.5 117.3 310.4 116.2 310.3 115.3 310.2 114.5 310.1 113.7 309.9 113.0 309.7 112.3 309.5 111.7 309.2 111.2 308.9 110.8 308.6 110.5 308.3 110.2 307.9 110.0 307.5 109.7 307.0 109.5 306.5 109.3 305.9 109.1 305.3 109.0 304.6 108.9 303.9 108.8 303.1 108.8 302.4 108.8 301.6ZM110.3 302.6 110.4 302.0 110.6 301.4 110.9 300.7 111.2 300.1 111.6 299.4 112.0 298.7 112.5 297.9 113.1 297.1 113.9 296.3 114.7 295.4 115.6 294.4 116.6 293.4 117.6 292.4 118.6 291.4 119.7 290.5 120.7 289.6 121.6 288.7 122.6 287.8 123.6 287.0 124.6 286.2 125.7 285.4 126.7 284.6 127.7 283.9 128.7 283.1 129.7 282.4 130.8 281.7 131.9 280.9 133.0 280.3 134.0 279.6 135.0 279.0 136.0 278.4 136.9 277.9 137.7 277.4 138.4 277.0 139.1 276.6 139.8 276.3 140.4 276.0 141.0 275.8 141.6 275.5 142.3 275.2 142.8 275.0 143.3 274.6 143.7 274.3 144.2 274.1 144.7 273.8 145.3 273.7 146.0 273.6 147.0 273.7 148.2 273.9 149.6 274.3 151.2 274.7 152.8 275.3 154.5 275.8 156.3 276.5 158.1 277.2 159.8 277.8 161.5 278.5 163.3 279.3 165.1 280.2 167.0 281.0 168.8 281.9 170.6 282.8 172.4 283.7 174.1 284.6 175.9 285.4 177.6 286.3 179.4 287.2 181.1 288.1 182.8 289.0 184.4 289.8 185.9 290.6 187.2 291.4 188.5 292.1 189.5 292.8 190.5 293.5 191.4 294.1 192.3 294.7 193.0 295.3 193.8 295.9 194.5 296.5 195.2 297.1 196.0 297.7 196.7 298.3 197.3 298.8 197.9 299.4 198.3 299.9 198.6 300.5 198.7 301.1 198.7 301.6 198.5 302.3 198.2 302.9 197.8 303.5 197.3 304.1 196.6 304.7 195.9 305.2 195.1 305.7 194.2 306.2 193.2 306.6 192.0 307.0 190.8 307.3 189.5 307.7 188.1 308.0 186.7 308.3 185.2 308.5 183.7 308.8 182.2 309.0 180.6 309.2 179.0 309.4 177.3 309.5 175.4 309.7 173.5 309.8 171.3 309.9 168.9 310.0 166.2 310.0 163.3 310.1 160.3 310.1 157.3 310.0 154.4 310.0 151.7 310.0 149.2 310.0 147.0 310.1 145.0 310.1 143.0 310.1 141.2 310.1 139.5 310.1 137.8 310.2 136.1 310.2 134.4 310.2 132.6 310.2 130.8 310.2 129.0 310.2 127.3 310.2 125.6 310.2 124.0 310.1 122.5 310.1 121.1 310.0 119.9 310.0 118.8 309.9 117.8 309.8 116.9 309.7 116.0 309.6 115.2 309.5 114.5 309.3 113.9 309.1 113.3 308.9 112.8 308.7 112.4 308.5 112.0 308.2 111.7 307.9 111.5 307.6 111.2 307.2 111.0 306.9 110.8 306.4 110.6 306.0 110.4 305.5 110.3 304.9 110.2 304.4 110.2 303.8 110.2 303.2ZM111.5 304.2 111.7 303.6 111.9 303.0 112.2 302.3 112.5 301.6 112.9 300.9 113.3 300.1 113.9 299.3 114.5 298.5 115.2 297.5 116.0 296.5 116.9 295.5 117.8 294.4 118.8 293.3 119.8 292.3 120.8 291.2 121.7 290.2 122.7 289.3 123.6 288.4 124.6 287.5 125.5 286.6 126.4 285.7 127.4 284.9 128.3 284.1 129.3 283.3 130.3 282.5 131.3 281.8 132.3 281.0 133.3 280.3 134.2 279.7 135.2 279.0 136.1 278.5 136.9 277.9 137.7 277.5 138.4 277.1 139.1 276.7 139.7 276.4 140.3 276.1 140.9 275.8 141.5 275.6 142.1 275.4 142.7 275.1 143.2 274.8 143.7 274.5 144.1 274.3 144.7 274.1 145.3 274.0 146.1 274.0 147.0 274.1 148.1 274.3 149.5 274.7 150.9 275.2 152.4 275.7 154.0 276.3 155.7 277.0 157.4 277.7 159.0 278.4 160.6 279.1 162.3 279.9 164.0 280.7 165.8 281.6 167.5 282.5 169.3 283.4 171.0 284.3 172.7 285.2 174.4 286.1 176.1 287.0 177.9 288.0 179.6 288.9 181.3 289.8 182.9 290.7 184.4 291.6 185.8 292.4 186.9 293.1 188.0 293.9 189.0 294.5 189.9 295.2 190.7 295.8 191.4 296.5 192.2 297.1 192.9 297.7 193.6 298.3 194.4 298.8 195.2 299.4 195.9 299.9 196.5 300.4 197.0 300.9 197.3 301.4 197.5 301.9 197.4 302.5 197.2 303.0 196.9 303.5 196.5 304.0 195.9 304.5 195.2 305.0 194.5 305.4 193.7 305.9 192.8 306.2 191.8 306.6 190.7 306.9 189.5 307.2 188.3 307.5 187.0 307.8 185.6 308.0 184.2 308.3 182.7 308.5 181.3 308.7 179.8 308.9 178.2 309.0 176.5 309.2 174.7 309.3 172.8 309.4 170.7 309.5 168.4 309.6 165.8 309.6 163.1 309.6 160.2 309.6 157.4 309.6 154.6 309.6 152.0 309.6 149.6 309.6 147.4 309.6 145.3 309.6 143.4 309.6 141.6 309.6 139.8 309.6 138.0 309.6 136.3 309.6 134.7 309.6 133.0 309.6 131.3 309.6 129.7 309.6 128.1 309.6 126.5 309.6 125.1 309.6 123.7 309.6 122.5 309.6 121.3 309.5 120.2 309.5 119.2 309.4 118.3 309.3 117.5 309.2 116.7 309.1 116.0 309.0 115.3 308.9 114.7 308.7 114.2 308.5 113.8 308.3 113.5 308.1 113.2 307.9 112.9 307.7 112.6 307.4 112.4 307.1 112.2 306.9 111.9 306.6 111.7 306.3 111.6 305.9 111.5 305.6 111.4 305.1 111.4 304.7Z" fill="none" stroke="#000" stroke-width="1.0"/>
<path d="M113.9 306.2 114.2 306.0 114.4 305.7 114.5 305.1 114.6 304.2 114.7 303.1 114.7 301.9 114.9 300.4 115.1 298.9 115.6 297.4 116.3 295.8 117.3 294.4 118.4 293.1 119.7 291.9 121.1 290.9 122.5 290.1 123.7 289.4 124.8 288.8 125.8 288.2 126.7 287.6 127.4 286.9 128.1 286.2 128.7 285.6 129.4 284.9 130.1 284.3 131.1 283.8 132.1 283.4 133.4 283.0 134.7 282.7 136.1 282.3 137.5 281.9 138.8 281.5 140.1 280.9 141.1 280.3 142.0 279.5 142.8 278.7 143.5 277.9 144.1 277.2 144.7 276.5 145.3 276.1 146.0 275.8 146.7 275.7 147.2 275.8 147.7 276.0 148.1 276.3 148.3 276.7 148.5 277.2 148.6 277.6 148.8 278.0 149.0 278.3 149.3 278.6 149.7 278.9 150.4 279.1 151.3 279.5 152.4 279.8 153.8 280.3 155.4 280.8 157.1 281.5 159.0 282.2 161.0 282.9 163.0 283.7 164.9 284.3 166.7 285.0 168.3 285.5 169.8 285.9 171.3 286.3 172.7 286.7 174.2 287.2 175.7 287.8 177.2 288.5 178.7 289.3 180.2 290.2 181.6 291.0 182.8 291.9 183.9 292.7 184.8 293.4 185.6 294.0 186.3 294.5 186.9 294.9 187.5 295.1 188.1 295.4 188.8 295.7 189.7 296.2 190.8 296.7 191.9 297.5 193.1 298.4 194.2 299.5 195.1 300.7 195.8 302.0 196.2 303.2 196.2 304.3 195.9 305.3 195.4 306.1 194.6 306.7 193.7 307.1 192.7 307.4 191.8 307.6 190.9 307.7 190.1 307.9 189.3 308.1 188.5 308.3 187.8 308.6 187.0 308.8 186.1 309.1 185.1 309.2 183.8 309.3 182.4 309.3 180.8 309.3 179.0 309.2 177.0 309.1 174.8 309.1 172.6 309.2 170.2 309.4 167.8 309.7 165.1 310.1 162.4 310.5 159.7 311.0 157.0 311.5 154.2 311.8 151.6 312.0 149.2 312.0 146.9 311.7 144.7 311.3 142.7 310.7 140.8 310.0 139.1 309.3 137.7 308.7 136.4 308.1 135.4 307.7 134.5 307.4 133.6 307.2 132.8 307.2 132.0 307.2 131.0 307.3 129.8 307.3 128.6 307.3 127.1 307.2 125.6 307.0 124.0 306.8 122.5 306.6 121.1 306.4 119.8 306.3 118.7 306.3 117.8 306.4 117.1 306.6 116.6 306.8 116.2 307.0 115.9 307.2 115.6 307.3 115.3 307.3 115.0 307.1 114.7 306.9 114.3 306.6 113.9 306.3 113.6 306.1 113.4 306.0 113.3 305.9 113.3 306.0 113.4 306.1 113.6 306.2ZM114.6 305.8 114.4 305.6 114.4 305.3 114.6 304.8 115.0 304.2 115.5 303.5 116.0 302.7 116.6 301.8 117.2 301.1 117.8 300.3 118.5 299.6 119.1 298.9 119.8 298.2 120.5 297.6 121.3 296.9 122.2 296.1 123.1 295.2 124.1 294.2 125.1 292.9 126.2 291.5 127.2 289.8 128.2 288.1 129.0 286.4 129.8 284.8 130.4 283.2 130.9 281.9 131.5 280.7 132.0 279.8 132.7 279.0 133.5 278.4 134.5 277.9 135.6 277.4 136.9 277.0 138.3 276.6 139.8 276.2 141.3 275.8 142.7 275.5 143.9 275.2 145.1 275.1 146.0 275.0 146.8 275.0 147.4 275.0 147.8 275.1 148.1 275.1 148.4 275.1 148.7 275.1 149.1 275.0 149.7 274.9 150.4 274.7 151.2 274.6 152.1 274.6 153.0 274.8 154.0 275.1 154.9 275.7 155.7 276.4 156.6 277.4 157.6 278.6 158.6 279.9 159.8 281.3 161.3 282.7 162.9 284.1 164.7 285.4 166.6 286.5 168.5 287.5 170.4 288.4 172.2 289.2 174.0 290.0 175.6 290.8 177.0 291.8 178.2 292.8 179.3 293.8 180.3 294.9 181.2 296.0 182.0 297.1 182.8 298.1 183.7 298.9 184.6 299.6 185.6 300.2 186.7 300.6 187.7 301.0 188.7 301.3 189.6 301.6 190.5 301.9 191.3 302.2 191.9 302.5 192.4 302.9 192.7 303.3 193.0 303.6 193.1 303.8 193.1 303.9 193.0 303.9 192.8 303.7 192.5 303.5 192.1 303.2 191.6 302.9 191.0 302.7 190.2 302.7 189.4 302.9 188.4 303.3 187.3 303.8 186.2 304.6 185.1 305.4 184.1 306.3 183.2 307.1 182.3 307.8 181.5 308.3 180.7 308.7 179.8 308.9 178.8 308.9 177.5 308.8 175.9 308.6 174.0 308.5 171.7 308.3 169.0 308.1 166.0 308.0 162.8 307.9 159.5 307.8 156.4 307.7 153.4 307.6 150.7 307.4 148.4 307.1 146.4 306.9 144.6 306.6 142.9 306.3 141.3 306.2 139.8 306.1 138.4 306.3 136.9 306.5 135.5 306.9 134.2 307.4 133.0 307.9 131.9 308.3 131.0 308.7 130.1 308.9 129.4 308.9 128.8 308.8 128.1 308.5 127.4 308.1 126.7 307.6 125.8 307.2 124.8 306.8 123.7 306.6 122.6 306.5 121.4 306.5 120.3 306.7 119.4 306.9 118.6 307.1 118.1 307.2 117.8 307.3 117.6 307.3 117.6 307.1 117.6 306.9 117.5 306.6 117.4 306.3 117.2 306.1 116.8 305.9 116.4 305.8 115.9 305.8 115.3 305.9 114.9 305.9ZM115.6 305.4 115.9 305.6 116.3 305.8 116.7 305.8 117.2 305.5 117.6 305.1 118.0 304.4 118.3 303.6 118.6 302.7 119.0 301.6 119.6 300.5 120.3 299.3 121.2 298.1 122.3 296.9 123.5 295.7 124.9 294.4 126.3 293.2 127.7 292.0 129.0 290.6 130.2 289.2 131.2 287.8 132.1 286.3 132.7 284.9 133.1 283.6 133.4 282.5 133.7 281.6 134.0 280.8 134.3 280.3 134.7 279.8 135.2 279.5 135.8 279.1 136.4 278.8 137.0 278.4 137.7 277.9 138.2 277.3 138.8 276.7 139.3 276.0 139.7 275.4 140.2 274.9 140.8 274.6 141.5 274.4 142.3 274.4 143.1 274.5 144.1 274.8 145.1 275.1 146.2 275.5 147.3 276.0 148.4 276.4 149.6 276.8 150.7 277.2 151.7 277.6 152.7 277.9 153.6 278.4 154.5 278.9 155.5 279.4 156.6 280.1 157.7 280.9 159.1 281.7 160.6 282.7 162.4 283.7 164.3 284.6 166.2 285.6 168.2 286.4 170.1 287.2 171.8 288.0 173.5 288.7 175.1 289.5 176.6 290.5 178.1 291.6 179.5 292.8 180.9 294.1 182.2 295.4 183.4 296.7 184.6 298.0 185.8 299.1 186.8 300.1 187.7 300.7 188.5 301.2 189.2 301.4 189.7 301.3 190.1 301.2 190.4 301.0 190.8 300.7 191.2 300.5 191.6 300.5 192.0 300.5 192.3 300.7 192.7 301.0 192.9 301.4 192.9 301.7 192.7 302.1 192.3 302.5 191.6 302.8 190.6 303.0 189.5 303.3 188.2 303.6 186.8 303.9 185.4 304.3 183.9 304.7 182.6 305.3 181.4 305.9 180.3 306.5 179.4 307.1 178.7 307.6 178.0 307.9 177.4 308.1 176.8 308.1 176.1 308.0 175.3 307.7 174.3 307.4 173.0 307.1 171.6 306.9 170.0 306.8 168.1 306.8 166.0 306.9 163.8 307.2 161.5 307.4 159.1 307.7 156.8 308.0 154.6 308.1 152.5 308.1 150.4 307.9 148.2 307.6 146.1 307.2 143.9 306.8 141.8 306.4 139.8 306.0 137.9 305.8 136.2 305.7 134.8 305.7 133.6 305.8 132.6 306.1 131.8 306.3 131.2 306.6 130.5 306.8 129.9 306.9 129.2 307.0 128.4 307.0 127.4 307.0 126.4 307.0 125.3 307.1 124.2 307.2 123.1 307.3 122.2 307.5 121.3 307.7 120.6 307.9 120.1 308.0 119.7 308.0 119.3 307.9 119.0 307.6 118.7 307.1 118.4 306.6 118.0 305.9 117.5 305.4 116.9 304.9 116.4 304.6 115.9 304.5 115.6 304.6 115.4 304.8 115.4 305.1ZM118.2 305.5 118.4 304.8 118.6 304.0 118.7 303.2 118.8 302.4 118.9 301.5 119.0 300.6 119.2 299.6 119.4 298.6 119.9 297.4 120.5 296.1 121.2 294.9 122.0 293.6 122.8 292.5 123.6 291.5 124.4 290.7 125.0 290.2 125.6 289.9 126.1 289.6 126.7 289.5 127.3 289.3 128.0 289.1 128.9 288.7 130.0 288.2 131.3 287.6 132.8 286.8 134.5 285.9 136.2 284.9 137.9 284.0 139.5 283.2 140.9 282.5 142.1 282.0 143.0 281.7 143.7 281.4 144.1 281.3 144.4 281.2 144.6 281.1 144.8 280.9 145.0 280.6 145.2 280.2 145.6 279.8 145.9 279.2 146.3 278.7 146.6 278.2 146.9 277.7 147.2 277.4 147.5 277.3 147.9 277.3 148.4 277.4 149.1 277.6 149.9 277.9 151.0 278.2 152.3 278.4 153.7 278.7 155.3 278.9 156.9 279.1 158.6 279.4 160.2 279.9 161.8 280.5 163.2 281.3 164.6 282.3 165.8 283.5 166.8 284.7 167.8 285.9 168.7 287.0 169.7 288.0 170.9 288.8 172.2 289.5 173.7 290.0 175.3 290.4 176.9 290.7 178.5 290.9 180.1 291.2 181.4 291.5 182.6 292.0 183.5 292.6 184.3 293.4 184.9 294.3 185.4 295.4 185.9 296.4 186.4 297.5 187.0 298.5 187.8 299.5 188.6 300.4 189.6 301.3 190.5 302.1 191.3 303.0 192.0 303.8 192.4 304.7 192.6 305.6 192.6 306.4 192.3 307.3 191.9 308.0 191.4 308.6 190.8 309.0 190.3 309.2 189.9 309.2 189.4 309.0 189.0 308.7 188.4 308.3 187.8 307.9 186.9 307.5 185.9 307.3 184.6 307.2 183.0 307.3 181.2 307.5 179.3 307.8 177.3 308.1 175.2 308.4 173.1 308.6 171.0 308.7 169.1 308.6 167.1 308.3 165.2 308.0 163.1 307.6 161.0 307.1 158.9 306.7 156.8 306.4 154.6 306.2 152.6 306.1 150.6 306.1 148.8 306.2 147.0 306.3 145.3 306.4 143.6 306.4 142.1 306.4 140.7 306.2 139.4 306.1 138.1 305.9 136.9 305.7 135.7 305.5 134.4 305.5 133.1 305.5 131.7 305.6 130.3 305.8 128.9 306.0 127.5 306.2 126.3 306.3 125.2 306.3 124.3 306.2 123.7 305.9 123.3 305.5 123.0 305.1 122.8 304.7 122.7 304.4 122.6 304.2 122.4 304.1 122.2 304.2 121.8 304.6 121.3 305.0 120.7 305.6 120.0 306.1 119.4 306.6 118.8 307.1 118.3 307.3 117.9 307.5 117.7 307.4 117.7 307.1 117.8 306.7 117.9 306.2ZM121.4 303.7 121.5 303.3 121.7 302.8 121.8 302.1 122.0 301.2 122.1 300.2 122.3 299.0 122.5 297.8 122.8 296.5 123.2 295.2 123.8 294.0 124.5 292.9 125.4 292.0 126.4 291.4 127.4 290.9 128.4 290.6 129.1 290.5 129.7 290.4 130.1 290.2 130.4 290.0 130.4 289.6 130.3 289.1 130.2 288.4 130.1 287.7 130.1 286.9 130.3 286.0 130.7 285.3 131.3 284.6 132.1 284.0 133.1 283.4 134.2 283.0 135.3 282.6 136.4 282.2 137.4 281.8 138.3 281.4 139.2 281.0 140.0 280.5 140.8 280.2 141.6 279.8 142.4 279.7 143.4 279.6 144.3 279.7 145.2 279.9 146.1 280.2 147.0 280.7 147.8 281.1 148.5 281.5 149.2 281.8 150.0 282.1 150.7 282.2 151.5 282.3 152.4 282.2 153.4 282.2 154.6 282.1 155.9 282.1 157.4 282.2 159.0 282.5 160.7 282.9 162.5 283.5 164.3 284.3 166.1 285.1 167.8 285.8 169.3 286.6 170.6 287.2 171.7 287.7 172.8 288.0 173.8 288.3 174.9 288.6 176.0 288.9 177.2 289.2 178.5 289.7 179.8 290.2 181.1 290.8 182.4 291.4 183.6 292.1 184.6 292.9 185.6 293.6 186.4 294.2 187.1 294.8 187.6 295.3 188.1 295.9 188.6 296.4 189.2 297.0 189.7 297.7 190.3 298.5 190.9 299.4 191.4 300.5 191.7 301.6 191.8 302.7 191.6 303.7 191.2 304.6 190.5 305.3 189.6 305.8 188.5 306.0 187.4 306.1 186.3 305.9 185.4 305.8 184.5 305.5 183.8 305.4 183.3 305.3 182.9 305.4 182.5 305.6 182.2 306.0 181.8 306.4 181.3 307.0 180.6 307.5 179.7 308.0 178.5 308.4 177.2 308.7 175.6 308.9 173.7 309.1 171.7 309.2 169.6 309.3 167.2 309.4 164.7 309.5 162.1 309.6 159.4 309.8 156.7 309.9 154.1 309.9 151.5 309.8 149.1 309.6 146.9 309.2 144.7 308.7 142.7 308.1 140.8 307.4 139.0 306.7 137.4 306.1 136.1 305.6 135.0 305.3 134.0 305.1 133.2 305.1 132.5 305.3 131.8 305.5 131.1 305.8 130.3 306.1 129.5 306.2 128.5 306.3 127.6 306.2 126.6 306.0 125.8 305.7 125.1 305.4 124.5 305.1 124.1 304.9 123.9 304.8 123.9 304.8 124.0 304.9 124.1 305.1 124.3 305.3 124.4 305.5 124.4 305.6 124.3 305.7 124.1 305.7 123.7 305.5 123.2 305.3 122.7 305.1 122.2 304.8 121.8 304.6 121.5 304.4 121.3 304.2 121.3 304.0ZM123.4 301.2 123.2 301.1 123.1 301.0 123.3 300.9 123.5 300.8 123.9 300.6 124.3 300.4 124.7 300.0 125.1 299.5 125.5 298.9 125.9 298.1 126.3 297.1 126.8 296.1 127.4 295.1 128.1 294.2 128.9 293.4 129.7 292.7 130.6 292.2 131.5 291.8 132.4 291.5 133.2 291.1 133.9 290.7 134.5 290.2 135.0 289.5 135.4 288.7 135.7 287.7 136.0 286.7 136.4 285.6 136.9 284.5 137.5 283.6 138.2 282.8 139.1 282.2 140.0 281.9 140.9 281.7 141.8 281.6 142.5 281.6 143.1 281.6 143.5 281.6 143.7 281.6 143.9 281.4 143.9 281.2 143.8 280.9 143.7 280.6 143.7 280.3 143.8 280.0 144.1 279.8 144.6 279.7 145.4 279.7 146.3 279.8 147.5 279.9 148.8 280.1 150.2 280.2 151.5 280.2 152.9 280.3 154.3 280.3 155.6 280.3 157.0 280.4 158.4 280.7 159.9 281.1 161.5 281.9 163.2 282.9 164.9 284.1 166.5 285.4 168.0 286.9 169.4 288.3 170.6 289.7 171.7 291.0 172.7 292.1 173.5 293.0 174.3 293.7 175.1 294.3 175.9 294.7 176.8 295.0 177.8 295.3 179.0 295.7 180.3 296.0 181.8 296.4 183.3 296.9 184.8 297.4 186.3 297.8 187.6 298.2 188.9 298.6 190.0 298.8 191.1 299.0 191.9 299.1 192.6 299.2 193.2 299.4 193.7 299.7 194.0 300.0 194.1 300.5 194.1 301.0 194.0 301.7 193.6 302.3 193.2 302.9 192.5 303.5 191.7 303.9 190.7 304.2 189.7 304.4 188.5 304.5 187.3 304.6 186.0 304.7 184.8 304.8 183.6 305.0 182.5 305.4 181.5 305.9 180.4 306.5 179.4 307.3 178.2 308.0 176.9 308.7 175.3 309.3 173.5 309.8 171.4 310.0 169.1 310.0 166.4 309.9 163.6 309.6 160.6 309.3 157.7 308.9 155.0 308.5 152.5 308.3 150.2 308.1 148.3 307.9 146.7 307.9 145.1 307.9 143.5 307.9 141.9 307.8 140.3 307.7 138.6 307.6 136.9 307.4 135.2 307.2 133.5 307.0 132.0 306.9 130.6 306.8 129.3 306.9 128.2 307.0 127.2 307.2 126.4 307.5 125.6 307.6 124.9 307.7 124.3 307.6 123.7 307.3 123.1 306.8 122.7 306.1 122.3 305.3 122.0 304.4 122.0 303.4 122.1 302.5 122.4 301.8 122.9 301.2 123.6 300.8 124.3 300.6 125.0 300.5 125.6 300.6 126.0 300.8 126.2 301.0 126.1 301.2 125.8 301.3 125.4 301.4 124.8 301.4 124.2 301.4 123.7 301.3ZM122.7 302.2 122.9 301.3 123.4 300.4 123.9 299.2 124.5 298.1 125.1 296.9 125.6 295.9 126.1 294.9 126.4 294.2 126.7 293.7 127.0 293.3 127.2 293.0 127.5 292.9 127.8 292.7 128.2 292.5 128.7 292.2 129.2 291.8 129.7 291.3 130.3 290.7 130.8 289.9 131.4 289.1 131.8 288.2 132.2 287.4 132.6 286.6 133.0 286.0 133.5 285.4 134.1 284.8 134.8 284.3 135.8 283.8 136.9 283.3 138.2 282.8 139.6 282.2 140.9 281.7 142.3 281.2 143.4 280.7 144.4 280.4 145.2 280.3 145.8 280.3 146.1 280.5 146.3 280.8 146.4 281.2 146.5 281.6 146.4 282.0 146.5 282.2 146.7 282.3 147.0 282.3 147.5 282.1 148.2 281.8 149.0 281.5 150.1 281.2 151.2 280.9 152.4 280.9 153.6 281.0 154.8 281.3 156.1 281.8 157.4 282.4 158.7 283.1 160.1 283.9 161.7 284.8 163.4 285.5 165.1 286.3 166.8 287.0 168.4 287.6 169.9 288.2 171.2 288.7 172.3 289.4 173.3 290.1 174.1 290.9 174.9 291.8 175.6 292.8 176.3 293.8 177.0 294.8 177.8 295.7 178.6 296.5 179.5 297.1 180.5 297.7 181.5 298.2 182.5 298.6 183.4 299.0 184.2 299.5 184.8 300.0 185.3 300.7 185.7 301.4 186.1 302.2 186.4 302.9 186.7 303.6 186.9 304.2 187.2 304.6 187.4 304.8 187.6 304.7 187.7 304.4 187.8 303.9 187.7 303.3 187.6 302.7 187.3 302.2 187.0 301.7 186.5 301.4 186.0 301.3 185.5 301.4 184.9 301.6 184.3 301.9 183.7 302.2 183.1 302.6 182.5 302.9 181.8 303.1 181.0 303.4 180.1 303.5 179.1 303.7 177.7 303.9 176.1 304.1 174.3 304.4 172.1 304.7 169.7 305.1 167.1 305.4 164.4 305.7 161.6 305.9 158.9 306.0 156.4 305.9 154.2 305.7 152.2 305.4 150.5 305.0 149.1 304.7 147.7 304.4 146.3 304.2 144.9 304.2 143.4 304.5 141.9 304.9 140.3 305.4 138.8 306.1 137.3 306.7 135.9 307.4 134.7 307.9 133.5 308.4 132.4 308.6 131.5 308.7 130.5 308.7 129.6 308.6 128.6 308.4 127.7 308.3 126.8 308.2 125.9 308.2 125.1 308.3 124.4 308.4 123.8 308.5 123.4 308.5 123.2 308.5 123.2 308.3 123.4 308.0 123.7 307.5 124.0 307.0 124.3 306.4 124.6 305.8 124.6 305.2 124.5 304.7 124.3 304.3 123.9 304.1 123.5 303.8 123.1 303.6 122.8 303.2 122.6 302.8ZM125.6 298.6 125.7 298.5 126.0 298.4 126.4 298.1 126.8 297.8 127.1 297.4 127.4 297.0 127.5 296.6 127.5 296.4 127.5 296.1 127.4 295.9 127.4 295.7 127.5 295.4 127.7 295.0 128.1 294.6 128.7 294.0 129.3 293.3 130.1 292.4 130.9 291.5 131.8 290.5 132.6 289.4 133.3 288.5 134.0 287.7 134.5 287.1 135.0 286.7 135.4 286.5 135.8 286.5 136.2 286.7 136.7 286.8 137.3 287.0 137.9 287.1 138.6 287.1 139.3 287.0 139.9 286.7 140.4 286.4 140.9 285.9 141.2 285.5 141.5 285.0 141.8 284.6 142.1 284.2 142.5 284.0 143.0 283.7 143.6 283.4 144.4 283.1 145.3 282.7 146.4 282.2 147.7 281.8 149.0 281.3 150.5 280.8 151.9 280.4 153.3 280.2 154.5 280.1 155.6 280.2 156.6 280.6 157.5 281.0 158.3 281.7 159.1 282.4 159.9 283.1 160.9 283.9 162.0 284.6 163.2 285.2 164.6 285.7 165.9 286.2 167.3 286.6 168.6 286.9 169.9 287.4 171.1 288.0 172.4 288.8 173.6 289.7 174.8 290.8 176.1 292.0 177.4 293.2 178.7 294.4 180.0 295.6 181.4 296.5 182.8 297.4 184.0 298.0 185.2 298.5 186.2 298.9 187.0 299.1 187.6 299.4 188.1 299.6 188.5 299.9 188.8 300.2 189.1 300.5 189.4 300.9 189.7 301.2 190.0 301.4 190.3 301.6 190.4 301.7 190.5 301.7 190.4 301.6 190.2 301.6 189.7 301.6 189.1 301.7 188.2 302.0 187.2 302.5 186.1 303.1 184.8 303.8 183.5 304.7 182.2 305.5 180.9 306.2 179.7 306.8 178.6 307.2 177.5 307.4 176.5 307.4 175.5 307.1 174.5 306.8 173.3 306.4 172.0 306.0 170.6 305.7 168.9 305.4 167.1 305.3 165.1 305.4 162.9 305.5 160.6 305.7 158.3 305.9 156.0 306.0 153.8 306.2 151.8 306.3 149.9 306.3 148.1 306.3 146.2 306.4 144.3 306.4 142.3 306.6 140.3 306.8 138.3 307.1 136.3 307.4 134.5 307.8 133.0 308.1 131.7 308.3 130.7 308.4 130.0 308.4 129.6 308.2 129.4 307.8 129.4 307.4 129.4 306.9 129.5 306.4 129.6 305.9 129.6 305.6 129.7 305.4 129.6 305.3 129.6 305.3 129.5 305.4 129.5 305.4 129.4 305.3 129.5 305.0 129.6 304.7 129.6 304.1 129.7 303.4 129.6 302.5 129.5 301.7 129.1 300.8 128.7 300.1 128.1 299.5 127.4 299.1 126.8 298.8 126.2 298.7 125.8 298.7 125.6 298.7ZM126.6 300.4 126.5 299.6 126.4 298.8 126.2 298.0 126.0 297.3 125.7 296.7 125.3 296.2 125.0 295.8 124.9 295.6 124.9 295.4 125.1 295.2 125.7 294.9 126.5 294.5 127.5 294.0 128.7 293.4 130.0 292.7 131.2 292.0 132.4 291.3 133.5 290.7 134.5 290.1 135.3 289.6 135.9 289.2 136.5 288.9 136.9 288.7 137.4 288.4 137.8 288.1 138.4 287.8 139.0 287.4 139.7 287.0 140.4 286.5 141.2 286.0 141.9 285.7 142.5 285.4 143.0 285.3 143.4 285.3 143.7 285.5 144.1 285.8 144.4 286.2 144.8 286.5 145.3 286.8 145.9 286.9 146.7 286.9 147.4 286.5 148.1 286.0 148.9 285.3 149.6 284.5 150.3 283.6 150.9 282.8 151.5 282.2 152.0 281.7 152.6 281.3 153.2 281.2 153.9 281.2 154.7 281.4 155.6 281.6 156.7 281.9 157.9 282.2 159.2 282.5 160.7 282.9 162.2 283.4 163.7 283.9 165.2 284.5 166.4 285.3 167.6 286.1 168.5 287.0 169.3 288.0 170.1 289.1 170.8 290.1 171.6 291.1 172.4 292.0 173.3 292.8 174.3 293.3 175.3 293.7 176.3 294.0 177.4 294.3 178.3 294.6 179.3 294.9 180.1 295.4 180.9 296.0 181.7 296.7 182.5 297.6 183.3 298.5 184.3 299.5 185.3 300.4 186.5 301.2 187.7 301.9 188.8 302.3 189.8 302.6 190.6 302.8 191.0 302.9 191.1 302.9 190.8 303.0 190.2 303.1 189.3 303.4 188.2 303.7 187.0 304.1 185.7 304.6 184.6 305.0 183.4 305.5 182.4 305.9 181.5 306.1 180.8 306.3 180.0 306.4 179.3 306.5 178.6 306.5 177.8 306.5 177.0 306.6 176.0 306.8 174.9 307.0 173.7 307.2 172.4 307.3 170.9 307.4 169.3 307.4 167.4 307.2 165.4 306.9 163.3 306.3 161.0 305.7 158.7 305.0 156.3 304.3 154.0 303.7 151.8 303.3 149.6 303.0 147.5 303.0 145.3 303.3 143.3 303.7 141.4 304.2 139.7 304.8 138.3 305.4 137.0 305.9 136.0 306.3 135.2 306.6 134.5 306.7 133.8 306.7 133.2 306.6 132.6 306.5 131.9 306.3 131.1 306.2 130.3 306.1 129.5 306.1 128.8 306.0 128.2 305.9 127.8 305.7 127.5 305.5 127.4 305.1 127.4 304.5 127.5 303.9 127.7 303.2 128.0 302.6 128.2 302.0 128.4 301.5 128.5 301.2 128.5 301.0 128.3 301.0 128.1 301.1 127.8 301.3 127.5 301.5 127.2 301.6 126.9 301.6 126.8 301.4 126.7 301.0Z" fill="none" stroke="#000" stroke-width="0.9"/>
<path d="M127.3 300.4 127.8 300.2 128.3 300.0 128.8 299.7 129.3 299.5 129.8 299.4 130.2 299.3 130.6 299.2 131.0 299.1 131.5 298.9 132.1 298.5 132.8 298.0 133.5 297.3 134.4 296.4 135.2 295.4 136.0 294.3 136.8 293.3 137.4 292.2 138.0 291.3 138.5 290.6 138.8 290.0 139.2 289.6 139.6 289.3 140.0 289.1 140.5 289.0 141.1 288.9 141.8 288.6 142.6 288.3 143.5 287.9 144.4 287.4 145.2 286.9 145.9 286.3 146.4 285.8 146.7 285.3 146.9 284.9 146.9 284.6 146.9 284.4 146.8 284.2 146.8 284.1 146.9 284.0 147.1 283.9 147.4 283.7 147.8 283.4 148.3 283.1 148.8 282.8 149.3 282.5 149.9 282.4 150.5 282.3 151.1 282.4 151.7 282.6 152.3 283.0 152.9 283.5 153.6 284.1 154.3 284.6 155.1 285.2 156.0 285.6 156.9 285.9 157.9 286.2 158.9 286.5 160.0 286.8 161.0 287.1 162.0 287.6 162.9 288.2 163.8 289.0 164.6 290.0 165.5 291.1 166.5 292.3 167.6 293.6 168.9 294.9 170.3 296.2 172.0 297.3 173.7 298.3 175.4 299.1 177.2 299.7 178.8 300.2 180.3 300.6 181.7 301.0 182.8 301.3 183.6 301.6 184.3 301.8 184.8 302.1 185.3 302.3 185.7 302.5 186.2 302.6 186.6 302.6 187.1 302.4 187.5 302.2 187.8 301.9 188.0 301.7 188.0 301.4 187.8 301.2 187.4 301.2 186.8 301.3 186.1 301.5 185.4 301.9 184.6 302.3 183.8 302.8 183.2 303.2 182.5 303.5 181.9 303.7 181.3 303.7 180.7 303.6 180.1 303.4 179.3 303.0 178.4 302.6 177.4 302.3 176.2 302.0 174.9 301.8 173.5 301.8 172.0 301.9 170.5 302.0 168.8 302.2 167.2 302.4 165.5 302.6 163.7 302.7 161.9 302.7 160.0 302.6 158.1 302.6 156.2 302.5 154.4 302.4 152.6 302.5 150.8 302.6 149.0 302.8 147.1 303.1 145.3 303.4 143.6 303.8 142.0 304.1 140.5 304.3 139.3 304.5 138.2 304.5 137.2 304.4 136.4 304.3 135.8 304.2 135.1 304.1 134.6 304.1 134.0 304.2 133.5 304.4 133.0 304.8 132.6 305.2 132.4 305.6 132.2 306.0 132.2 306.3 132.2 306.4 132.4 306.3 132.5 306.0 132.6 305.6 132.7 304.9 132.6 304.2 132.4 303.4 132.0 302.6 131.5 302.0 130.8 301.5 130.0 301.1 129.2 300.9 128.4 300.8 127.7 300.8 127.2 300.8 126.9 300.8 126.8 300.7 127.0 300.6ZM134.7 297.9 134.8 297.9 134.8 298.0 134.7 298.2 134.5 298.5 134.5 298.9 134.5 299.2 134.7 299.4 134.9 299.6 135.3 299.5 135.8 299.4 136.4 299.1 136.9 298.7 137.4 298.2 137.9 297.7 138.2 297.3 138.4 296.8 138.5 296.4 138.6 296.0 138.7 295.6 138.8 295.1 139.0 294.5 139.3 293.9 139.6 293.1 140.0 292.3 140.5 291.5 140.9 290.7 141.3 290.0 141.7 289.5 142.0 289.0 142.2 288.7 142.4 288.6 142.7 288.5 143.0 288.5 143.3 288.5 143.9 288.4 144.5 288.3 145.3 287.9 146.3 287.5 147.2 287.0 148.2 286.4 149.1 285.8 149.9 285.2 150.5 284.7 150.9 284.4 151.1 284.3 151.3 284.3 151.5 284.4 151.8 284.7 152.2 285.1 152.8 285.4 153.6 285.8 154.6 286.0 155.7 286.2 157.0 286.4 158.4 286.6 159.8 286.7 161.2 287.0 162.6 287.3 164.0 287.8 165.4 288.4 166.7 289.1 168.1 289.8 169.4 290.5 170.8 291.2 172.2 291.8 173.6 292.4 175.0 293.0 176.3 293.5 177.6 294.0 178.6 294.5 179.5 295.2 180.1 295.9 180.6 296.7 180.8 297.7 180.9 298.7 180.9 299.7 180.8 300.7 180.9 301.6 181.0 302.3 181.2 302.8 181.6 303.1 182.1 303.1 182.7 303.0 183.2 302.8 183.7 302.5 184.0 302.2 184.1 301.9 184.0 301.6 183.6 301.5 183.0 301.5 182.3 301.6 181.5 301.7 180.8 301.8 180.1 301.9 179.4 302.1 178.9 302.1 178.5 302.2 178.1 302.3 177.6 302.4 177.1 302.5 176.5 302.7 175.8 302.9 175.0 303.3 174.1 303.6 173.2 304.0 172.4 304.4 171.5 304.6 170.7 304.7 169.9 304.7 169.1 304.6 168.3 304.3 167.3 303.9 166.0 303.4 164.5 303.0 162.7 302.7 160.7 302.5 158.6 302.4 156.4 302.5 154.3 302.7 152.3 303.0 150.6 303.3 149.0 303.6 147.7 303.8 146.7 303.9 145.8 303.8 145.2 303.6 144.6 303.4 144.2 303.0 143.7 302.7 143.3 302.4 142.7 302.2 142.0 302.1 141.3 302.1 140.5 302.1 139.7 302.3 138.9 302.4 138.2 302.5 137.5 302.6 137.0 302.6 136.5 302.6 136.1 302.4 135.7 302.2 135.3 302.1 134.8 301.9 134.3 301.8 133.8 301.7 133.3 301.7 132.8 301.7 132.5 301.7 132.2 301.6 132.1 301.5 132.1 301.3 132.3 300.9 132.6 300.5 133.1 300.0 133.5 299.4 133.9 298.9 134.3 298.5 134.6 298.1ZM136.1 298.4 136.6 298.5 137.3 298.5 138.0 298.4 138.7 298.2 139.3 298.0 139.8 297.8 140.2 297.6 140.6 297.5 140.9 297.5 141.1 297.5 141.4 297.6 141.6 297.7 141.9 297.8 142.2 297.9 142.5 297.8 142.7 297.6 142.8 297.1 142.9 296.5 142.8 295.7 142.7 294.9 142.4 293.9 142.1 293.0 141.9 292.2 141.7 291.5 141.6 291.0 141.7 290.7 142.0 290.6 142.5 290.5 143.1 290.6 143.8 290.7 144.6 290.8 145.3 290.8 146.0 290.9 146.5 290.8 146.9 290.7 147.1 290.6 147.3 290.5 147.4 290.5 147.5 290.5 147.7 290.5 147.9 290.6 148.3 290.6 148.8 290.6 149.3 290.6 150.0 290.4 150.8 290.2 151.5 289.9 152.4 289.6 153.2 289.2 154.1 289.0 154.9 288.8 155.8 288.8 156.7 288.9 157.7 289.3 158.8 289.8 160.0 290.4 161.3 291.1 162.6 291.9 164.1 292.6 165.5 293.2 166.9 293.7 168.2 294.0 169.4 294.3 170.3 294.4 171.2 294.5 172.0 294.5 172.9 294.7 173.7 294.9 174.6 295.2 175.6 295.7 176.7 296.1 177.8 296.6 179.0 297.1 180.1 297.5 181.2 297.8 182.2 298.0 182.9 298.1 183.5 298.2 183.8 298.1 183.9 298.1 183.8 298.1 183.7 298.2 183.5 298.3 183.3 298.5 183.1 298.7 182.9 298.9 182.7 299.1 182.5 299.3 182.2 299.3 181.8 299.2 181.3 299.0 180.7 298.8 180.1 298.6 179.4 298.5 178.7 298.5 178.1 298.7 177.4 299.1 176.9 299.7 176.4 300.4 175.9 301.3 175.6 302.2 175.2 303.1 174.8 303.8 174.4 304.5 173.8 304.9 173.0 305.2 172.1 305.3 170.9 305.2 169.6 305.0 168.1 304.9 166.6 304.7 164.9 304.5 163.3 304.4 161.6 304.4 160.0 304.4 158.5 304.4 157.1 304.4 155.9 304.4 154.7 304.3 153.6 304.1 152.6 303.9 151.5 303.7 150.4 303.6 149.3 303.5 148.1 303.5 147.0 303.6 145.9 303.8 145.0 304.0 144.2 304.3 143.5 304.6 142.8 304.7 142.3 304.7 141.8 304.6 141.3 304.3 140.8 303.8 140.3 303.3 139.7 302.6 139.1 301.9 138.5 301.3 138.0 300.8 137.6 300.5 137.3 300.2 137.1 300.1 137.1 300.1 137.2 300.1 137.4 300.1 137.6 300.1 137.8 300.0 137.9 299.7 137.8 299.4 137.7 299.1 137.3 298.7 136.9 298.4 136.5 298.1 136.0 298.0 135.7 297.9 135.5 298.0 135.5 298.1 135.7 298.3Z" fill="none" stroke="#000" stroke-width="0.9"/>
<path d="M112.0 307.0 112.0 306.4 112.2 305.6 112.6 304.8 113.2 303.9 113.9 302.9 114.6 302.0 115.3 301.0 116.0 300.0 116.7 299.0 117.4 298.0 118.2 296.9 119.0 295.8 119.9 294.7 120.7 293.6 121.6 292.5 122.5 291.5 123.4 290.5 124.3 289.4 125.3 288.4 126.2 287.3 127.2 286.3 128.1 285.3 129.1 284.4 130.0 283.5 130.9 282.7 131.8 281.9 132.7 281.1 133.6 280.4 134.5 279.8 135.4 279.1 136.2 278.6 137.0 278.0 137.8 277.5 138.5 277.0 139.2 276.6 139.8 276.2 140.5 275.8 141.2 275.5 141.8 275.2 142.5 275.0 143.2 274.8 143.9 274.7 144.6 274.6 145.3 274.6 146.0 274.6 146.7 274.7 147.3 274.8 148.0 275.0 148.7 275.3 149.4 275.6 150.1 276.0 150.8 276.5 151.4 277.0 152.0 277.5 152.6 278.0 153.0 278.5 153.4 279.0 153.7 279.6 154.0 280.2 154.2 280.8 154.3 281.4 154.3 281.9 154.2 282.3 154.0 282.5 153.6 282.6 153.0 282.5 152.2 282.2 151.4 281.9 150.5 281.6 149.6 281.3 148.8 281.1 148.0 281.0 147.3 281.0 146.7 281.0 146.1 281.0 145.5 281.1 144.9 281.2 144.3 281.4 143.7 281.6 143.0 282.0 142.3 282.5 141.6 283.0 140.8 283.6 140.1 284.3 139.3 285.1 138.6 285.9 137.8 286.7 137.0 287.5 136.2 288.3 135.4 289.2 134.6 290.1 133.8 291.1 132.9 292.1 132.1 293.0 131.3 294.0 130.5 295.0 129.7 296.0 129.0 297.0 128.2 298.0 127.5 299.1 126.7 300.1 126.0 301.1 125.2 302.1 124.5 303.0 123.8 303.9 123.0 304.9 122.3 305.9 121.5 306.9 120.8 307.8 120.0 308.5 119.3 309.1 118.5 309.5 117.6 309.6 116.7 309.6 115.6 309.4 114.6 309.1 113.7 308.7 112.9 308.2 112.3 307.6Z" fill="#1a1a1a"/>
<path d="M130.7 296.0 130.8 296.5 131.0 297.0 131.1 297.5 130.9 297.8 130.3 297.8 129.4 297.6 128.5 297.4 127.7 297.1 127.2 297.0 126.8 296.9 126.4 296.8 126.0 296.5 125.4 296.2 124.8 295.8 124.3 295.3 124.2 295.0 124.7 294.7 125.5 294.4 126.5 294.2 127.4 294.1 128.1 294.2 128.9 294.3 129.5 294.5 130.1 294.8 130.4 295.0 130.5 295.3 130.6 295.6ZM137.8 298.6 137.7 298.9 137.4 299.3 137.0 299.7 136.5 299.9 136.0 300.1 135.4 300.2 134.7 300.2 134.1 300.1 133.5 300.0 132.8 299.9 132.2 299.7 131.9 299.4 131.8 299.1 131.8 298.7 132.1 298.3 132.3 297.9 132.6 297.5 133.0 297.1 133.5 296.8 133.9 296.6 134.4 296.7 134.9 297.0 135.4 297.4 135.9 297.7 136.5 297.9 137.1 298.1 137.6 298.3ZM137.6 295.7 137.7 296.3 137.8 297.0 137.8 297.6 137.5 298.1 136.9 298.5 136.1 298.8 135.3 298.9 134.6 298.8 134.2 298.5 134.0 297.8 133.8 297.1 133.6 296.5 133.4 296.0 133.1 295.5 133.0 295.1 133.0 294.7 133.3 294.3 133.8 294.0 134.4 293.8 134.9 293.7 135.4 293.7 135.8 293.9 136.2 294.1 136.6 294.4 136.9 294.6 137.2 295.0 137.5 295.3ZM143.0 294.9 143.1 295.5 143.2 296.1 143.2 296.7 143.0 297.1 142.6 297.2 142.0 297.0 141.4 296.8 140.8 296.6 140.5 296.3 140.2 296.1 140.1 295.8 139.9 295.5 139.8 295.2 139.6 294.8 139.6 294.5 139.7 294.1 139.8 293.8 140.1 293.5 140.4 293.2 140.8 293.0 141.2 292.9 141.7 292.9 142.2 293.0 142.6 293.2 142.8 293.5 142.9 293.9 142.9 294.4ZM143.4 299.2 143.5 299.6 143.7 300.0 143.9 300.4 143.7 300.6 143.2 300.7 142.4 300.7 141.6 300.6 140.8 300.5 140.1 300.4 139.5 300.2 138.9 300.0 138.6 299.8 138.7 299.6 139.0 299.3 139.4 299.0 139.8 298.8 140.0 298.6 140.3 298.5 140.6 298.4 141.0 298.3 141.6 298.1 142.3 297.9 143.0 297.8 143.5 297.8 143.7 298.0 143.6 298.4 143.5 298.8ZM138.0 292.9 137.9 293.1 137.7 293.3 137.4 293.5 137.1 293.7 136.7 294.0 136.2 294.3 135.7 294.6 135.3 294.8 134.8 294.6 134.3 294.3 133.9 293.9 133.7 293.6 133.6 293.3 133.8 293.0 134.0 292.8 134.3 292.5 134.5 292.1 134.7 291.7 135.0 291.4 135.3 291.2 135.8 291.3 136.3 291.5 136.8 291.8 137.3 292.0 137.6 292.3 137.8 292.5 138.0 292.7ZM132.0 297.6 131.6 297.9 130.8 298.3 129.8 298.6 129.0 298.8 128.3 299.0 127.6 299.0 127.0 299.1 126.4 299.0 125.9 298.9 125.5 298.7 125.1 298.4 124.7 298.2 124.4 297.9 124.1 297.5 123.9 297.2 124.0 296.8 124.3 296.4 124.7 295.9 125.3 295.4 126.0 295.2 126.8 295.2 127.8 295.4 128.7 295.6 129.6 295.9 130.4 296.3 131.2 296.7 131.8 297.2ZM144.1 291.5 144.0 291.9 143.7 292.5 143.2 293.0 142.7 293.3 142.1 293.4 141.4 293.4 140.6 293.2 140.0 293.0 139.4 292.9 138.9 292.7 138.5 292.5 138.2 292.2 138.1 291.9 138.1 291.5 138.3 291.2 138.4 290.8 138.7 290.4 139.0 289.9 139.4 289.6 139.8 289.4 140.2 289.5 140.6 289.8 141.1 290.2 141.6 290.5 142.3 290.8 143.0 291.0 143.7 291.2ZM130.1 294.5 130.0 295.0 129.7 295.6 129.2 296.2 128.7 296.7 128.2 297.0 127.7 297.3 127.1 297.4 126.5 297.4 126.0 297.2 125.4 296.8 124.9 296.3 124.6 295.8 124.4 295.2 124.3 294.5 124.3 293.7 124.4 293.0 124.8 292.4 125.3 291.7 125.9 291.2 126.4 291.0 126.9 291.2 127.4 291.7 127.8 292.3 128.3 292.9 128.8 293.3 129.4 293.7 129.8 294.0ZM140.5 290.3 140.4 291.0 140.0 291.9 139.4 292.7 138.8 293.2 138.2 293.2 137.5 293.0 136.8 292.6 136.2 292.3 135.6 292.1 135.0 292.0 134.6 291.8 134.3 291.5 134.2 291.1 134.3 290.5 134.4 289.9 134.6 289.3 134.8 288.4 135.1 287.4 135.4 286.6 135.7 286.2 136.2 286.4 136.8 287.0 137.4 287.8 138.0 288.5 138.7 289.0 139.5 289.4 140.1 289.8ZM160.5 290.2 160.4 290.6 160.1 290.9 159.6 291.3 159.2 291.6 158.9 291.9 158.5 292.2 158.1 292.4 157.8 292.5 157.5 292.2 157.3 291.8 157.2 291.4 157.0 290.9 156.7 290.5 156.5 290.0 156.3 289.5 156.2 289.1 156.5 288.9 156.9 288.6 157.5 288.5 157.9 288.4 158.2 288.5 158.5 288.6 158.8 288.8 159.1 289.0 159.5 289.3 160.0 289.6 160.4 289.9ZM156.9 294.8 156.8 295.3 156.2 295.8 155.6 296.3 154.9 296.7 154.3 296.8 153.6 296.8 152.9 296.8 152.2 296.7 151.6 296.6 150.9 296.4 150.4 296.1 149.9 295.8 149.7 295.3 149.6 294.8 149.6 294.3 149.8 293.7 150.1 293.0 150.6 292.3 151.2 291.6 151.8 291.3 152.4 291.5 153.1 292.1 153.8 292.7 154.5 293.3 155.2 293.7 156.0 294.0 156.7 294.4ZM157.0 294.9 156.6 295.6 155.7 296.3 154.6 297.0 153.6 297.7 152.8 298.7 152.0 299.9 151.2 300.8 150.4 301.2 149.4 300.8 148.3 299.9 147.4 298.6 146.9 297.5 146.9 296.5 147.4 295.3 148.0 294.2 148.5 293.2 149.0 292.2 149.5 291.2 150.0 290.3 150.6 289.9 151.3 290.1 152.0 290.7 152.8 291.4 153.6 292.2 154.5 292.8 155.6 293.5 156.6 294.2ZM185.2 298.5 185.3 299.6 185.3 300.8 185.2 301.9 184.9 302.6 184.1 302.8 183.0 302.7 181.9 302.3 180.9 302.0 180.2 301.6 179.7 301.1 179.3 300.5 178.9 299.9 178.6 299.2 178.3 298.4 178.1 297.6 178.2 296.8 178.6 296.0 179.2 295.3 180.0 294.7 180.7 294.3 181.5 294.4 182.4 294.7 183.2 295.1 183.9 295.7 184.4 296.3 184.7 296.9 185.0 297.7ZM175.8 295.9 175.8 296.5 175.7 297.1 175.6 297.7 175.3 298.1 174.9 298.2 174.3 298.1 173.6 298.0 173.0 297.9 172.3 297.7 171.6 297.6 171.0 297.4 170.6 297.1 170.5 296.7 170.7 296.1 171.0 295.4 171.3 294.9 171.6 294.4 171.9 294.0 172.4 293.6 172.8 293.4 173.4 293.3 174.1 293.3 174.8 293.5 175.3 293.7 175.5 294.1 175.7 294.7 175.7 295.3ZM173.9 287.9 173.8 288.5 173.6 289.2 173.3 289.7 172.8 290.1 172.0 290.2 171.0 290.0 170.0 289.8 169.1 289.6 168.4 289.5 167.7 289.3 167.2 289.1 166.6 288.8 165.9 288.3 165.2 287.7 164.7 287.1 164.6 286.5 165.2 286.0 166.2 285.5 167.4 285.0 168.5 284.8 169.7 284.8 170.9 285.0 172.1 285.3 173.0 285.6 173.5 286.1 173.8 286.7 173.9 287.3ZM188.3 299.4 188.3 300.0 188.3 300.7 188.2 301.4 187.9 301.8 187.4 302.0 186.7 302.0 185.9 301.9 185.3 301.7 184.9 301.5 184.6 301.1 184.3 300.7 184.0 300.2 183.6 299.7 183.1 299.1 182.8 298.5 182.7 297.9 183.1 297.5 183.7 297.0 184.5 296.7 185.2 296.5 185.9 296.4 186.7 296.5 187.4 296.7 187.9 297.0 188.2 297.4 188.3 298.0 188.3 298.7ZM173.7 300.0 173.7 300.7 173.8 301.3 173.8 301.8 173.6 302.3 173.0 302.8 172.2 303.1 171.4 303.4 170.6 303.4 169.9 303.2 169.2 302.7 168.6 302.1 168.2 301.4 167.9 300.7 167.8 299.9 167.8 299.1 168.0 298.5 168.5 298.0 169.2 297.7 170.0 297.4 170.8 297.2 171.7 297.1 172.6 296.9 173.5 296.9 174.0 297.2 174.2 297.7 174.1 298.4 173.8 299.3ZM155.8 302.1 155.6 302.5 155.3 302.8 154.8 303.2 154.3 303.4 153.8 303.6 153.2 303.7 152.6 303.7 151.9 303.7 151.2 303.6 150.3 303.5 149.6 303.3 149.2 303.1 149.3 302.7 149.6 302.4 150.2 302.0 150.6 301.6 150.9 301.2 151.1 300.9 151.4 300.6 151.8 300.4 152.4 300.4 153.0 300.5 153.7 300.7 154.3 300.9 154.8 301.2 155.3 301.5 155.6 301.8ZM173.1 293.5 172.9 293.8 172.4 294.1 171.8 294.4 171.3 294.6 170.9 294.8 170.5 294.8 170.2 294.8 169.9 294.7 169.6 294.6 169.3 294.5 169.0 294.3 168.8 294.1 168.6 293.8 168.3 293.4 168.2 293.1 168.2 292.7 168.4 292.2 168.7 291.6 169.1 291.1 169.5 290.9 169.9 291.1 170.3 291.5 170.7 292.0 171.1 292.5 171.7 292.8 172.3 293.0 172.8 293.2ZM191.4 294.3 191.4 294.8 191.4 295.2 191.4 295.6 191.2 295.9 190.8 296.1 190.2 296.2 189.6 296.2 189.1 296.1 188.7 295.9 188.4 295.6 188.1 295.3 187.9 295.0 187.8 294.7 187.8 294.4 187.9 294.0 188.0 293.7 188.1 293.3 188.3 292.8 188.6 292.4 189.0 292.1 189.5 292.1 190.2 292.2 190.8 292.4 191.3 292.7 191.5 293.0 191.5 293.4 191.4 293.9ZM169.1 291.3 169.0 292.1 168.9 292.8 168.6 293.5 168.2 294.1 167.6 294.6 167.0 295.1 166.2 295.4 165.5 295.5 164.7 295.2 163.9 294.7 163.1 294.1 162.7 293.4 162.7 292.6 163.0 291.6 163.4 290.7 163.9 289.9 164.3 289.3 164.7 288.9 165.2 288.5 165.7 288.2 166.4 288.1 167.1 288.0 167.8 288.1 168.3 288.4 168.7 288.9 168.9 289.7 169.0 290.5ZM166.6 299.0 166.6 299.4 166.7 299.8 166.7 300.1 166.4 300.4 165.8 300.8 165.0 301.1 164.1 301.3 163.2 301.4 162.3 301.2 161.3 300.9 160.4 300.5 159.9 300.1 159.9 299.7 160.3 299.2 160.8 298.7 161.3 298.3 161.6 297.8 162.0 297.3 162.5 296.9 163.2 296.6 164.1 296.6 165.3 296.6 166.5 296.8 167.2 297.1 167.4 297.4 167.2 298.0 166.9 298.5ZM168.2 299.2 168.0 299.4 167.5 299.6 166.9 299.9 166.4 300.1 165.9 300.4 165.4 300.7 164.9 301.0 164.3 301.1 163.7 301.0 163.0 300.8 162.3 300.5 161.8 300.1 161.5 299.7 161.4 299.1 161.4 298.6 161.6 298.1 162.1 297.9 162.9 297.7 163.7 297.5 164.4 297.5 165.0 297.6 165.5 297.7 165.9 297.9 166.4 298.2 166.9 298.4 167.5 298.6 168.0 298.9ZM191.2 302.0 190.8 302.9 190.2 303.8 189.4 304.5 188.5 305.0 187.7 305.3 186.8 305.4 185.9 305.4 185.1 305.2 184.3 305.0 183.6 304.6 182.9 304.2 182.4 303.6 181.8 302.8 181.3 301.7 181.0 300.7 181.0 299.9 181.6 299.3 182.7 298.9 183.9 298.6 185.0 298.4 186.1 298.2 187.2 298.0 188.3 297.9 189.2 298.2 190.0 298.9 190.6 299.9 191.0 301.0ZM173.7 292.3 173.4 292.8 172.8 293.2 172.0 293.6 171.3 294.0 170.4 294.6 169.5 295.3 168.6 295.8 167.7 296.0 166.9 295.7 166.1 295.1 165.4 294.3 164.9 293.6 164.8 292.9 164.8 292.3 165.0 291.7 165.4 291.2 165.9 290.9 166.6 290.6 167.5 290.4 168.3 290.2 169.3 290.0 170.3 289.9 171.4 289.8 172.2 289.9 172.8 290.4 173.3 291.0 173.7 291.7ZM166.9 284.9 166.8 285.2 166.6 285.6 166.3 285.9 166.0 286.1 165.6 286.4 165.2 286.7 164.7 286.8 164.2 286.9 163.7 286.7 163.2 286.5 162.7 286.2 162.4 285.8 162.2 285.4 162.2 284.9 162.2 284.4 162.4 284.0 162.7 283.7 163.2 283.4 163.7 283.2 164.2 283.1 164.7 283.1 165.2 283.3 165.6 283.5 166.0 283.7 166.3 284.0 166.6 284.3 166.8 284.6ZM173.7 291.1 173.5 291.4 172.9 291.7 172.2 292.0 171.5 292.2 171.0 292.2 170.6 292.2 170.1 292.2 169.6 292.2 169.0 292.1 168.4 292.1 167.8 292.0 167.3 291.8 167.0 291.5 166.8 291.1 166.7 290.7 166.8 290.3 167.2 290.1 167.9 289.9 168.7 289.7 169.4 289.6 170.0 289.6 170.6 289.7 171.1 289.8 171.7 290.0 172.3 290.2 173.0 290.5 173.5 290.8ZM177.6 285.7 177.6 286.2 177.6 286.7 177.4 287.2 177.2 287.5 176.8 287.6 176.3 287.6 175.8 287.5 175.3 287.4 174.7 287.2 174.2 287.1 173.8 286.9 173.6 286.7 173.6 286.4 173.9 286.0 174.2 285.6 174.5 285.3 174.7 285.0 174.9 284.9 175.1 284.7 175.4 284.6 175.7 284.5 176.2 284.3 176.6 284.2 177.0 284.3 177.2 284.5 177.4 284.9 177.6 285.3ZM159.5 283.5 159.5 283.9 159.4 284.3 159.3 284.6 159.0 285.0 158.5 285.2 158.0 285.5 157.4 285.7 156.9 285.7 156.5 285.5 156.1 285.1 155.8 284.6 155.7 284.2 155.6 283.9 155.7 283.6 155.8 283.3 155.9 283.0 156.1 282.6 156.4 282.2 156.7 281.9 157.0 281.8 157.3 281.9 157.7 282.1 158.1 282.4 158.4 282.7 158.7 282.9 159.1 283.1 159.3 283.3ZM167.3 289.3 167.2 289.6 167.0 290.0 166.7 290.4 166.2 290.7 165.6 290.9 164.9 291.1 164.1 291.2 163.4 291.2 162.6 291.0 161.7 290.8 161.0 290.5 160.5 290.2 160.5 289.9 160.9 289.5 161.3 289.0 161.7 288.7 162.1 288.3 162.5 288.0 162.9 287.7 163.4 287.5 164.0 287.6 164.7 287.7 165.4 287.9 166.0 288.1 166.4 288.3 166.8 288.6 167.2 289.0ZM162.0 302.5 161.9 303.8 161.5 305.2 161.0 306.5 160.3 307.2 159.4 307.3 158.3 306.9 157.3 306.3 156.4 305.8 155.8 305.3 155.3 304.8 155.0 304.3 154.7 303.8 154.4 303.1 154.2 302.4 154.1 301.6 154.2 300.9 154.5 300.1 154.9 299.4 155.5 298.7 156.2 298.2 157.0 297.9 158.0 297.8 159.0 297.9 159.9 298.3 160.6 299.0 161.3 300.1 161.8 301.3Z" fill="none" stroke="#000" stroke-width="0.9"/>
<path d="M112 311.5H196M110 313.5H190M118 309.5H195M150 307.5H190" fill="none" stroke="#222" stroke-width="0.8"/>
<path d="M96.0 291.0 96.2 289.8 96.5 288.9 96.8 288.2 97.2 287.5 97.7 287.0 98.3 286.5 99.1 286.0 100.0 285.5 101.1 285.0 102.4 284.5 103.9 284.0 105.5 283.6 107.1 283.2 108.8 282.8 110.4 282.4 112.0 282.0 113.5 281.6 115.0 281.2 116.5 280.8 118.0 280.5 119.5 280.1 121.0 279.7 122.5 279.3 124.0 278.8 125.5 278.3 127.1 277.8 128.7 277.2 130.3 276.6 131.9 276.1 133.4 275.5 134.7 275.0 136.0 274.5 137.1 274.1 138.2 273.7 139.1 273.3 140.0 272.9 140.8 272.6 141.6 272.2 142.3 271.9 143.0 271.5 143.5 271.1 143.9 270.6 144.1 270.1 144.2 269.6 144.5 269.2 145.0 268.8 145.8 268.6 147.0 268.5 148.7 268.6 150.7 268.8 153.1 269.1 155.6 269.5 158.3 269.9 161.0 270.5 163.6 271.0 166.0 271.6 168.3 272.2 170.7 272.9 173.0 273.7 175.3 274.5 177.6 275.3 179.8 276.2 181.9 277.0 184.0 277.7 186.0 278.4 187.9 279.1 189.7 279.8 191.5 280.5 193.3 281.1 194.9 281.8 196.5 282.4 198.0 283.0 199.4 283.6 200.8 284.1 202.1 284.5 203.4 285.0 204.5 285.5 205.6 286.0 206.5 286.6 207.3 287.3 208.0 288.1 208.5 288.9 208.9 289.8 209.2 290.8 209.4 291.8 209.5 292.8 209.5 294.0 209.5 295.2 209.4 296.6 209.4 298.1 209.2 299.8 209.0 301.5 208.6 303.1 208.1 304.7 207.3 306.2 206.4 307.4 205.2 308.4 203.7 309.3 202.1 310.0 200.3 310.6 198.4 311.2 196.4 311.7 194.4 312.2 192.4 312.7 190.5 313.2 188.5 313.6 186.6 314.0 184.6 314.3 182.5 314.6 180.2 314.9 177.7 315.1 175.0 315.3 171.9 315.4 168.4 315.5 164.7 315.5 160.8 315.5 157.0 315.5 153.3 315.5 149.9 315.5 147.0 315.5 144.6 315.6 142.6 315.7 140.8 315.8 139.3 315.9 137.8 316.0 136.2 316.1 134.5 316.2 132.5 316.2 130.2 316.2 127.6 316.1 124.8 316.0 122.0 315.9 119.2 315.8 116.5 315.7 114.1 315.5 112.0 315.3 110.2 315.1 108.6 314.9 107.3 314.7 106.0 314.4 104.9 314.1 103.9 313.8 102.9 313.3 102.0 312.8 101.1 312.2 100.3 311.6 99.5 310.9 98.8 310.2 98.2 309.3 97.7 308.4 97.2 307.3 96.8 306.0 96.5 304.5 96.2 302.6 96.0 300.6 95.8 298.4 95.8 296.3 95.8 294.3 95.8 292.5Z" fill="none" stroke="#000" stroke-width="1.0"/>
</g>
<rect x="58" y="226.6" width="153.2" height="152.9" fill="none" stroke="#6a6a6a" stroke-width="1.1"/>
<path d="M54.2 239.3H58 M54.2 270.2H58 M54.2 301.2H58 M54.2 332.9H58 M54.2 358.4H58 M56.0 323.4H58 M56.0 317.8H58 M56.0 313.8H58 M56.0 310.7H58 M56.0 308.2H58 M56.0 306.1H58 M56.0 304.3H58 M56.0 302.7H58 M56.0 291.9H58 M56.0 286.4H58 M56.0 282.5H58 M56.0 279.5H58 M56.0 277.1H58 M56.0 275.0H58 M56.0 273.2H58 M56.0 271.6H58 M56.0 260.9H58 M56.0 255.5H58 M56.0 251.6H58 M56.0 248.6H58 M56.0 246.2H58 M56.0 244.1H58 M56.0 242.3H58 M56.0 240.7H58 M56.0 230.0H58 M56.0 340.9H58 M56.0 347.9H58 M56.0 353.9H58 M56.0 364.4H58 M56.0 370.4H58 M56.0 375.4H58 M85.4 379.5V383.0 M103.6 379.5V383.0 M136.5 379.5V383.0 M168.0 379.5V383.0 M199.6 379.5V383.0 M113.5 379.5V381.5 M119.3 379.5V381.5 M123.4 379.5V381.5 M126.6 379.5V381.5 M129.2 379.5V381.5 M131.4 379.5V381.5 M133.3 379.5V381.5 M135.0 379.5V381.5 M146.0 379.5V381.5 M151.5 379.5V381.5 M155.5 379.5V381.5 M158.5 379.5V381.5 M161.0 379.5V381.5 M163.1 379.5V381.5 M164.9 379.5V381.5 M166.6 379.5V381.5 M177.5 379.5V381.5 M183.1 379.5V381.5 M187.0 379.5V381.5 M190.1 379.5V381.5 M192.6 379.5V381.5 M194.7 379.5V381.5 M196.5 379.5V381.5 M198.2 379.5V381.5 M66.0 379.5V381.5 M72.0 379.5V381.5 M78.0 379.5V381.5 M91.0 379.5V381.5 M97.0 379.5V381.5" stroke="#444" stroke-width="0.9" fill="none"/>
<rect x="84.4" y="379.5" width="2" height="3.4" fill="#111"/><rect x="55.0" y="357.2" width="3" height="2.6" fill="#111"/>
<text x="35.2" y="243.7" font-size="11">10<tspan font-size="7.8" dy="-4.8">5</tspan></text>
<text x="35.2" y="274.6" font-size="11">10<tspan font-size="7.8" dy="-4.8">4</tspan></text>
<text x="35.2" y="305.6" font-size="11">10<tspan font-size="7.8" dy="-4.8">3</tspan></text>
<text x="35.2" y="337.3" font-size="11">10<tspan font-size="7.8" dy="-4.8">2</tspan></text>
<text x="51.2" y="362.5" font-size="11" text-anchor="end">0</text>
<text x="85.4" y="398.3" font-size="11" text-anchor="middle">0</text>
<text x="95.19999999999999" y="398.3" font-size="11">10<tspan font-size="7.8" dy="-4.8">2</tspan></text>
<text x="128.1" y="398.3" font-size="11">10<tspan font-size="7.8" dy="-4.8">3</tspan></text>
<text x="159.6" y="398.3" font-size="11">10<tspan font-size="7.8" dy="-4.8">4</tspan></text>
<text x="191.2" y="398.3" font-size="11">10<tspan font-size="7.8" dy="-4.8">5</tspan></text>
<text x="88.5" y="220.6" font-size="14.45">Asthma+sAM</text>
<rect x="145.6" y="230.9" width="65.1" height="123.6" fill="none" stroke="#000" stroke-width="2.7"/>
<text x="205.4" y="375.2" font-size="14.7" text-anchor="end">17.0±3.2%</text>
<clipPath id="clip3"><rect x="253.4" y="226.6" width="153.6" height="152.9"/></clipPath>
<g clip-path="url(#clip3)">
<path d="M358.5 312.4h1v1h-1zM334.2 327.2h1v1h-1zM280.2 316.6h1v1h-1zM299.1 276.5h1v1h-1zM400.0 300.7h1v1h-1zM316.9 329.2h1v1h-1zM337.1 326.2h1v1h-1zM331.7 272.2h1v1h-1zM290.0 346.1h1v1h-1zM400.1 305.9h1v1h-1zM294.2 286.4h1v1h-1zM374.7 296.9h1v1h-1zM304.9 332.2h1v1h-1zM321.6 330.0h1v1h-1zM279.6 291.3h1v1h-1zM272.6 316.9h1v1h-1zM325.6 273.1h1v1h-1zM336.2 325.3h1v1h-1zM333.8 273.2h1v1h-1zM363.6 320.6h1v1h-1zM382.6 288.2h1v1h-1zM387.7 278.9h1v1h-1zM345.1 278.3h1v1h-1zM360.1 334.9h1v1h-1zM310.1 282.8h1v1h-1zM367.7 300.3h1v1h-1zM392.9 279.0h1v1h-1zM271.7 302.7h1v1h-1zM332.5 326.7h1v1h-1zM348.9 284.2h1v1h-1zM277.8 320.5h1v1h-1zM280.3 291.4h1v1h-1zM327.2 277.1h1v1h-1zM404.2 326.3h1v1h-1zM349.7 290.3h1v1h-1zM350.4 316.8h1v1h-1zM406.1 332.8h1v1h-1zM281.6 321.2h1v1h-1zM276.9 289.5h1v1h-1zM279.1 315.3h1v1h-1zM399.6 322.5h1v1h-1zM300.0 282.7h1v1h-1zM327.2 333.1h1v1h-1zM306.9 283.2h1v1h-1zM335.6 269.3h1v1h-1zM271.6 307.4h1v1h-1zM273.6 300.9h1v1h-1zM324.0 279.2h1v1h-1zM400.1 301.6h1v1h-1zM299.2 285.3h1v1h-1zM281.4 326.6h1v1h-1zM374.9 302.5h1v1h-1zM374.2 306.2h1v1h-1zM345.4 278.3h1v1h-1zM302.9 332.7h1v1h-1zM305.3 284.3h1v1h-1zM356.8 312.9h1v1h-1zM376.9 324.4h1v1h-1zM375.3 305.8h1v1h-1zM354.6 288.3h1v1h-1zM344.9 317.1h1v1h-1zM399.0 320.7h1v1h-1zM318.3 278.2h1v1h-1zM271.5 284.5h1v1h-1zM306.9 280.9h1v1h-1zM343.3 267.0h1v1h-1zM399.6 315.6h1v1h-1zM311.5 346.6h1v1h-1zM346.8 285.3h1v1h-1zM293.2 332.1h1v1h-1zM358.2 293.6h1v1h-1zM301.8 330.8h1v1h-1zM333.9 274.8h1v1h-1zM402.1 288.1h1v1h-1zM402.0 328.0h1v1h-1zM312.6 330.6h1v1h-1zM361.1 325.9h1v1h-1zM279.3 318.7h1v1h-1zM400.4 287.7h1v1h-1zM310.7 337.0h1v1h-1zM374.9 311.9h1v1h-1zM325.7 326.8h1v1h-1zM357.0 294.5h1v1h-1zM292.1 332.2h1v1h-1zM355.3 315.9h1v1h-1zM349.7 320.3h1v1h-1zM320.9 278.3h1v1h-1zM397.1 295.7h1v1h-1zM328.7 275.2h1v1h-1zM395.6 291.0h1v1h-1zM273.6 311.3h1v1h-1zM352.2 286.4h1v1h-1zM336.0 262.0h1v1h-1zM396.0 296.8h1v1h-1zM336.1 323.4h1v1h-1zM373.8 293.2h1v1h-1zM405.4 324.2h1v1h-1zM354.4 293.8h1v1h-1zM399.8 309.1h1v1h-1zM351.2 287.2h1v1h-1zM318.2 274.3h1v1h-1zM406.3 324.5h1v1h-1zM371.3 305.2h1v1h-1zM405.8 325.3h1v1h-1zM371.5 324.9h1v1h-1zM333.1 324.5h1v1h-1zM278.4 293.4h1v1h-1zM292.8 286.5h1v1h-1zM296.7 283.2h1v1h-1zM381.3 300.1h1v1h-1zM372.8 314.4h1v1h-1zM322.8 328.9h1v1h-1zM308.3 344.1h1v1h-1zM400.6 321.4h1v1h-1zM400.1 311.0h1v1h-1zM288.7 286.4h1v1h-1zM277.7 312.9h1v1h-1zM288.3 286.2h1v1h-1zM279.9 329.3h1v1h-1zM310.5 283.0h1v1h-1zM365.0 295.3h1v1h-1zM408.2 282.9h1v1h-1zM345.6 282.5h1v1h-1zM395.6 323.5h1v1h-1zM313.9 282.0h1v1h-1zM279.1 288.6h1v1h-1zM336.5 270.2h1v1h-1zM402.9 330.6h1v1h-1zM290.0 330.3h1v1h-1zM363.2 292.9h1v1h-1zM309.6 331.0h1v1h-1zM394.6 283.1h1v1h-1zM303.1 284.3h1v1h-1zM398.1 310.0h1v1h-1zM310.5 282.6h1v1h-1zM298.8 330.6h1v1h-1zM396.7 334.5h1v1h-1zM387.3 276.9h1v1h-1zM363.2 298.3h1v1h-1zM395.8 296.3h1v1h-1zM326.9 338.1h1v1h-1zM319.6 337.2h1v1h-1zM332.6 272.1h1v1h-1zM332.2 333.1h1v1h-1zM370.2 317.2h1v1h-1zM271.4 300.5h1v1h-1zM367.3 297.3h1v1h-1zM321.0 328.7h1v1h-1zM328.2 277.3h1v1h-1zM353.6 294.5h1v1h-1zM327.8 275.4h1v1h-1zM272.9 294.5h1v1h-1zM328.2 325.9h1v1h-1zM282.4 327.6h1v1h-1zM294.4 278.4h1v1h-1zM346.0 284.1h1v1h-1zM401.8 319.6h1v1h-1zM349.3 280.0h1v1h-1zM407.9 270.7h1v1h-1zM319.5 329.0h1v1h-1zM339.1 267.4h1v1h-1zM284.9 330.1h1v1h-1zM357.3 314.1h1v1h-1zM359.4 294.3h1v1h-1zM279.5 287.0h1v1h-1zM366.4 294.2h1v1h-1zM330.7 330.0h1v1h-1zM395.7 312.4h1v1h-1zM281.9 278.7h1v1h-1zM377.3 310.5h1v1h-1zM286.1 287.8h1v1h-1zM312.6 330.4h1v1h-1zM345.1 279.4h1v1h-1zM276.9 303.0h1v1h-1zM336.4 267.4h1v1h-1zM353.5 284.9h1v1h-1zM374.1 320.1h1v1h-1zM396.6 315.2h1v1h-1zM301.4 331.2h1v1h-1zM344.8 279.0h1v1h-1zM368.2 300.0h1v1h-1zM314.1 275.7h1v1h-1zM400.1 319.4h1v1h-1zM345.2 275.5h1v1h-1zM299.2 331.5h1v1h-1zM375.0 302.2h1v1h-1zM277.4 308.1h1v1h-1zM350.2 292.3h1v1h-1zM357.1 294.7h1v1h-1zM315.4 329.3h1v1h-1zM342.7 323.4h1v1h-1zM352.0 293.8h1v1h-1zM367.0 326.6h1v1h-1zM357.2 293.2h1v1h-1zM318.2 273.7h1v1h-1zM361.3 283.0h1v1h-1zM397.5 296.3h1v1h-1zM366.8 297.8h1v1h-1zM317.0 280.3h1v1h-1zM365.1 320.0h1v1h-1zM344.8 283.7h1v1h-1zM350.6 317.4h1v1h-1zM391.1 306.5h1v1h-1zM401.3 317.0h1v1h-1zM299.5 330.1h1v1h-1zM348.5 320.5h1v1h-1zM277.5 315.5h1v1h-1zM342.3 319.0h1v1h-1zM265.3 305.6h1v1h-1zM316.0 339.9h1v1h-1zM367.0 326.6h1v1h-1zM309.0 279.4h1v1h-1zM321.9 279.1h1v1h-1zM364.1 297.3h1v1h-1zM393.2 331.0h1v1h-1zM322.9 278.3h1v1h-1zM345.4 283.5h1v1h-1zM311.4 349.9h1v1h-1zM342.7 322.6h1v1h-1zM373.2 308.5h1v1h-1zM312.6 279.9h1v1h-1zM340.9 268.7h1v1h-1zM403.0 289.1h1v1h-1zM401.0 281.0h1v1h-1zM289.2 330.0h1v1h-1zM274.3 305.6h1v1h-1zM400.1 304.1h1v1h-1zM356.8 315.1h1v1h-1zM372.1 302.9h1v1h-1zM306.8 283.6h1v1h-1zM401.6 321.6h1v1h-1zM403.3 321.8h1v1h-1zM315.1 330.7h1v1h-1zM277.4 302.5h1v1h-1zM315.5 277.5h1v1h-1zM312.2 333.7h1v1h-1zM345.6 265.2h1v1h-1zM292.3 279.4h1v1h-1zM352.0 320.1h1v1h-1zM334.4 328.8h1v1h-1zM304.9 332.5h1v1h-1zM278.3 314.0h1v1h-1zM296.9 285.6h1v1h-1zM346.0 268.3h1v1h-1zM282.0 321.9h1v1h-1zM394.1 316.9h1v1h-1zM314.4 276.7h1v1h-1zM282.6 322.7h1v1h-1zM298.7 332.8h1v1h-1zM278.2 281.2h1v1h-1zM371.6 314.2h1v1h-1zM272.4 296.0h1v1h-1zM278.8 315.3h1v1h-1zM329.3 276.5h1v1h-1zM282.9 330.3h1v1h-1zM293.9 286.5h1v1h-1zM372.1 316.9h1v1h-1zM400.6 283.4h1v1h-1zM317.5 280.5h1v1h-1zM286.9 333.6h1v1h-1zM303.7 284.6h1v1h-1zM318.3 333.2h1v1h-1zM315.9 328.8h1v1h-1zM370.8 310.0h1v1h-1zM372.0 310.7h1v1h-1zM342.1 268.4h1v1h-1zM334.2 324.2h1v1h-1zM343.8 318.7h1v1h-1zM274.4 313.0h1v1h-1zM283.5 326.7h1v1h-1zM380.6 300.5h1v1h-1zM367.6 293.3h1v1h-1zM367.8 322.1h1v1h-1zM272.4 303.1h1v1h-1zM370.2 314.5h1v1h-1zM408.5 278.7h1v1h-1zM299.7 281.8h1v1h-1zM297.0 281.0h1v1h-1zM401.0 325.8h1v1h-1zM289.4 340.3h1v1h-1zM310.9 335.0h1v1h-1zM273.8 309.6h1v1h-1zM369.4 324.9h1v1h-1zM322.7 276.8h1v1h-1zM354.6 289.2h1v1h-1zM309.1 332.0h1v1h-1zM285.9 286.8h1v1h-1zM320.0 279.4h1v1h-1zM386.2 297.0h1v1h-1zM367.7 323.8h1v1h-1zM353.8 337.6h1v1h-1zM342.4 268.5h1v1h-1zM395.0 316.7h1v1h-1zM330.9 327.9h1v1h-1zM337.6 326.7h1v1h-1zM304.0 331.1h1v1h-1zM366.6 317.0h1v1h-1zM316.5 328.4h1v1h-1zM361.8 294.9h1v1h-1zM378.0 313.4h1v1h-1zM380.1 309.2h1v1h-1zM365.3 297.8h1v1h-1zM367.7 298.5h1v1h-1zM351.0 320.1h1v1h-1zM324.2 278.8h1v1h-1zM321.1 327.6h1v1h-1zM270.9 320.5h1v1h-1zM309.0 281.9h1v1h-1zM273.6 290.7h1v1h-1zM400.7 327.8h1v1h-1zM372.9 296.4h1v1h-1zM284.9 328.5h1v1h-1zM356.6 294.6h1v1h-1zM324.6 339.9h1v1h-1zM278.6 294.0h1v1h-1zM304.6 336.8h1v1h-1zM351.8 293.7h1v1h-1zM369.7 296.0h1v1h-1zM303.5 280.4h1v1h-1zM281.6 325.1h1v1h-1zM335.5 273.6h1v1h-1zM276.9 324.9h1v1h-1zM375.6 303.4h1v1h-1zM318.4 328.8h1v1h-1zM396.1 315.6h1v1h-1zM307.4 332.6h1v1h-1zM274.0 305.2h1v1h-1zM302.5 283.2h1v1h-1zM296.7 331.4h1v1h-1zM305.7 330.2h1v1h-1zM331.3 327.9h1v1h-1zM370.1 314.0h1v1h-1zM345.1 284.7h1v1h-1zM333.6 266.2h1v1h-1zM400.6 326.3h1v1h-1zM402.2 317.7h1v1h-1zM400.0 297.7h1v1h-1zM390.1 305.2h1v1h-1zM342.2 325.1h1v1h-1zM298.5 283.3h1v1h-1zM400.9 266.7h1v1h-1zM335.0 274.9h1v1h-1zM305.9 338.0h1v1h-1zM403.4 282.2h1v1h-1zM318.2 335.6h1v1h-1zM336.7 268.0h1v1h-1zM343.1 318.3h1v1h-1zM381.4 306.7h1v1h-1zM264.8 303.2h1v1h-1zM329.4 248.8h1v1h-1zM400.5 311.2h1v1h-1zM369.5 315.4h1v1h-1zM325.4 327.6h1v1h-1zM338.6 327.3h1v1h-1zM334.8 326.4h1v1h-1zM330.1 271.8h1v1h-1zM286.2 329.6h1v1h-1zM273.0 306.3h1v1h-1zM336.9 329.1h1v1h-1zM311.4 330.5h1v1h-1zM330.7 273.8h1v1h-1zM371.4 295.4h1v1h-1zM400.3 304.2h1v1h-1zM357.2 314.4h1v1h-1zM299.1 332.0h1v1h-1zM328.8 269.1h1v1h-1zM358.7 314.4h1v1h-1zM379.7 302.7h1v1h-1zM306.3 277.8h1v1h-1zM362.3 318.9h1v1h-1zM351.6 321.3h1v1h-1zM333.0 276.4h1v1h-1zM334.1 275.5h1v1h-1zM400.7 302.1h1v1h-1zM303.4 333.3h1v1h-1zM360.4 327.4h1v1h-1zM372.1 317.8h1v1h-1zM389.6 294.4h1v1h-1zM315.8 333.0h1v1h-1zM274.4 300.9h1v1h-1zM316.9 278.0h1v1h-1zM276.5 314.0h1v1h-1zM321.4 274.9h1v1h-1zM292.1 329.1h1v1h-1zM393.3 303.9h1v1h-1zM398.8 321.9h1v1h-1zM329.7 328.4h1v1h-1zM356.8 325.1h1v1h-1zM330.4 325.3h1v1h-1zM405.9 324.7h1v1h-1zM363.6 293.5h1v1h-1zM343.0 268.0h1v1h-1zM346.4 284.3h1v1h-1zM353.9 317.5h1v1h-1zM349.6 288.0h1v1h-1zM341.8 337.4h1v1h-1zM284.8 288.1h1v1h-1zM368.2 320.2h1v1h-1zM394.2 277.0h1v1h-1zM398.7 298.9h1v1h-1zM350.2 325.9h1v1h-1zM333.2 330.7h1v1h-1zM331.7 273.1h1v1h-1zM287.1 326.2h1v1h-1zM310.2 334.2h1v1h-1zM357.0 267.0h1v1h-1zM286.1 326.6h1v1h-1zM349.3 269.8h1v1h-1zM343.4 318.5h1v1h-1zM322.9 337.8h1v1h-1zM344.4 274.1h1v1h-1zM279.7 322.6h1v1h-1zM329.2 276.1h1v1h-1zM357.9 312.9h1v1h-1zM347.8 290.6h1v1h-1zM396.6 310.0h1v1h-1zM283.5 323.4h1v1h-1zM316.3 281.4h1v1h-1zM401.3 286.8h1v1h-1zM402.5 276.4h1v1h-1zM274.0 295.3h1v1h-1zM328.6 273.9h1v1h-1zM342.4 268.1h1v1h-1zM368.1 321.6h1v1h-1zM368.8 319.9h1v1h-1zM345.5 268.1h1v1h-1zM265.8 317.5h1v1h-1zM366.5 318.5h1v1h-1zM349.5 290.4h1v1h-1zM348.1 286.6h1v1h-1zM408.2 283.1h1v1h-1zM360.8 314.4h1v1h-1zM353.6 277.7h1v1h-1zM370.9 309.0h1v1h-1zM361.2 295.2h1v1h-1zM268.3 305.1h1v1h-1zM338.4 323.4h1v1h-1zM292.0 283.0h1v1h-1zM347.6 288.0h1v1h-1zM276.7 301.6h1v1h-1zM284.4 289.0h1v1h-1zM342.0 318.8h1v1h-1zM317.4 278.3h1v1h-1zM333.2 330.8h1v1h-1zM303.3 332.4h1v1h-1zM398.6 277.0h1v1h-1zM370.7 302.1h1v1h-1zM271.2 290.6h1v1h-1zM355.4 290.4h1v1h-1zM283.0 281.8h1v1h-1zM393.4 307.8h1v1h-1zM371.3 325.8h1v1h-1zM302.0 283.6h1v1h-1zM340.0 324.9h1v1h-1zM362.7 322.5h1v1h-1zM356.5 316.4h1v1h-1zM311.8 329.8h1v1h-1zM357.5 314.3h1v1h-1zM285.9 325.8h1v1h-1zM405.9 333.1h1v1h-1zM292.8 328.7h1v1h-1zM371.2 312.0h1v1h-1zM403.6 286.3h1v1h-1zM399.8 314.3h1v1h-1zM377.9 320.8h1v1h-1zM346.8 320.9h1v1h-1zM279.1 294.6h1v1h-1zM404.3 322.7h1v1h-1zM352.4 289.4h1v1h-1zM325.2 277.3h1v1h-1zM336.2 333.3h1v1h-1zM298.0 331.0h1v1h-1zM371.0 296.3h1v1h-1zM275.6 309.4h1v1h-1zM336.9 265.6h1v1h-1zM280.7 333.2h1v1h-1zM374.1 291.1h1v1h-1zM276.7 315.0h1v1h-1zM318.0 277.9h1v1h-1zM315.4 278.2h1v1h-1zM358.8 313.2h1v1h-1zM352.8 318.2h1v1h-1zM323.2 335.8h1v1h-1zM369.2 319.6h1v1h-1zM269.6 315.1h1v1h-1zM275.6 314.7h1v1h-1zM287.9 285.5h1v1h-1zM381.2 292.5h1v1h-1zM277.9 316.1h1v1h-1zM327.8 278.0h1v1h-1zM348.7 287.2h1v1h-1zM345.7 279.8h1v1h-1zM342.9 269.2h1v1h-1zM367.8 298.6h1v1h-1zM397.7 292.5h1v1h-1zM371.7 310.3h1v1h-1zM354.9 294.6h1v1h-1zM338.0 273.2h1v1h-1zM317.8 328.8h1v1h-1zM331.3 269.7h1v1h-1zM345.4 266.8h1v1h-1zM339.8 267.2h1v1h-1zM401.5 325.1h1v1h-1zM350.4 292.4h1v1h-1zM297.9 332.6h1v1h-1zM363.1 288.1h1v1h-1zM356.7 295.3h1v1h-1zM361.1 319.6h1v1h-1zM315.0 332.7h1v1h-1zM299.8 330.9h1v1h-1zM359.5 292.9h1v1h-1zM370.6 318.6h1v1h-1zM321.3 272.0h1v1h-1zM401.0 311.6h1v1h-1zM362.4 317.2h1v1h-1zM348.1 285.7h1v1h-1zM352.0 317.5h1v1h-1zM347.9 287.4h1v1h-1zM336.2 323.9h1v1h-1zM325.4 273.2h1v1h-1zM395.5 297.3h1v1h-1zM382.0 300.9h1v1h-1zM370.9 303.5h1v1h-1zM387.7 303.8h1v1h-1zM367.1 281.9h1v1h-1zM370.5 298.2h1v1h-1zM357.8 278.4h1v1h-1zM377.7 304.6h1v1h-1zM377.2 313.3h1v1h-1zM393.1 306.4h1v1h-1zM369.5 295.7h1v1h-1zM398.7 294.6h1v1h-1zM367.1 331.0h1v1h-1zM398.8 310.7h1v1h-1zM377.2 301.5h1v1h-1zM376.2 310.3h1v1h-1zM386.6 291.8h1v1h-1zM397.1 303.1h1v1h-1zM360.8 284.7h1v1h-1zM386.7 327.2h1v1h-1zM350.8 293.2h1v1h-1zM400.4 292.6h1v1h-1zM354.6 283.3h1v1h-1zM374.1 292.7h1v1h-1zM384.8 304.9h1v1h-1zM390.2 309.7h1v1h-1zM376.1 276.9h1v1h-1zM377.9 304.0h1v1h-1zM368.2 289.8h1v1h-1zM368.3 294.6h1v1h-1zM382.4 313.7h1v1h-1zM373.9 299.9h1v1h-1zM368.1 295.2h1v1h-1zM414.8 328.6h1v1h-1zM386.7 329.7h1v1h-1zM365.3 317.9h1v1h-1zM379.1 324.0h1v1h-1zM376.8 296.8h1v1h-1zM364.7 328.9h1v1h-1zM369.5 301.9h1v1h-1zM381.2 319.1h1v1h-1zM385.3 297.8h1v1h-1zM386.0 304.4h1v1h-1zM386.5 318.1h1v1h-1zM395.7 299.9h1v1h-1zM375.5 311.5h1v1h-1zM376.1 297.6h1v1h-1zM379.0 332.1h1v1h-1zM389.9 283.9h1v1h-1zM371.7 339.0h1v1h-1zM351.6 317.5h1v1h-1zM394.8 326.3h1v1h-1zM391.6 311.4h1v1h-1zM350.7 284.6h1v1h-1zM394.7 299.4h1v1h-1zM392.9 305.0h1v1h-1zM396.7 319.6h1v1h-1zM370.9 324.4h1v1h-1zM367.2 290.9h1v1h-1zM360.6 317.8h1v1h-1zM385.5 279.9h1v1h-1zM380.6 306.1h1v1h-1zM353.3 279.4h1v1h-1zM361.4 316.8h1v1h-1zM370.1 317.7h1v1h-1zM362.5 282.1h1v1h-1zM394.9 287.1h1v1h-1zM380.9 294.8h1v1h-1zM375.2 295.4h1v1h-1zM392.9 299.3h1v1h-1zM377.0 288.2h1v1h-1zM385.8 321.8h1v1h-1zM381.6 299.6h1v1h-1zM394.4 310.7h1v1h-1zM389.3 307.1h1v1h-1zM371.5 298.5h1v1h-1zM374.8 302.2h1v1h-1zM412.8 273.3h1v1h-1zM349.4 282.4h1v1h-1zM378.7 286.9h1v1h-1zM380.8 321.0h1v1h-1zM390.8 301.7h1v1h-1zM395.1 300.3h1v1h-1zM382.7 319.7h1v1h-1zM385.0 313.1h1v1h-1zM403.6 285.6h1v1h-1zM392.9 306.9h1v1h-1zM353.8 288.1h1v1h-1zM366.2 289.6h1v1h-1zM381.1 286.3h1v1h-1zM404.8 323.1h1v1h-1zM350.8 333.4h1v1h-1zM395.1 325.8h1v1h-1zM357.5 285.3h1v1h-1zM394.0 323.6h1v1h-1zM360.1 331.5h1v1h-1zM378.9 326.5h1v1h-1zM371.5 290.9h1v1h-1zM384.8 319.1h1v1h-1zM392.0 319.0h1v1h-1zM365.0 296.1h1v1h-1zM392.2 302.6h1v1h-1zM367.0 319.5h1v1h-1zM357.0 315.5h1v1h-1zM379.8 309.8h1v1h-1zM380.6 314.5h1v1h-1zM365.6 294.8h1v1h-1zM405.7 277.9h1v1h-1zM384.0 312.0h1v1h-1zM379.6 290.5h1v1h-1zM305.6 330.7h1v1h-1zM361.1 287.8h1v1h-1zM392.3 308.4h1v1h-1zM379.2 319.9h1v1h-1zM390.2 316.9h1v1h-1zM383.9 304.4h1v1h-1zM364.9 289.3h1v1h-1zM384.9 306.7h1v1h-1zM374.2 326.1h1v1h-1zM379.3 308.7h1v1h-1zM374.6 313.6h1v1h-1zM367.3 328.0h1v1h-1zM377.8 293.4h1v1h-1zM379.2 307.9h1v1h-1zM357.8 289.9h1v1h-1zM360.8 321.8h1v1h-1zM400.5 308.7h1v1h-1zM391.1 301.1h1v1h-1zM380.9 305.5h1v1h-1zM350.6 317.8h1v1h-1zM398.8 326.5h1v1h-1zM381.7 291.0h1v1h-1zM387.7 299.2h1v1h-1zM379.3 321.2h1v1h-1zM395.6 327.9h1v1h-1zM350.8 291.4h1v1h-1zM380.5 290.1h1v1h-1zM392.0 309.2h1v1h-1zM400.7 297.8h1v1h-1zM375.4 317.9h1v1h-1zM397.7 304.8h1v1h-1zM360.5 321.9h1v1h-1zM414.2 282.1h1v1h-1zM410.0 280.5h1v1h-1zM370.4 277.4h1v1h-1zM385.3 272.6h1v1h-1zM391.0 303.9h1v1h-1zM372.9 310.3h1v1h-1zM387.2 303.0h1v1h-1zM381.2 283.5h1v1h-1zM371.5 324.2h1v1h-1zM386.6 323.3h1v1h-1zM455.6 331.2h1v1h-1zM399.8 304.7h1v1h-1zM401.4 293.1h1v1h-1zM363.1 298.4h1v1h-1zM389.7 278.1h1v1h-1zM424.6 281.7h1v1h-1zM381.3 319.9h1v1h-1zM383.5 284.6h1v1h-1zM372.0 312.1h1v1h-1zM400.7 280.1h1v1h-1zM374.8 310.8h1v1h-1zM386.2 305.0h1v1h-1zM367.9 288.3h1v1h-1zM370.8 324.9h1v1h-1zM400.2 327.8h1v1h-1zM372.0 326.2h1v1h-1zM364.8 295.2h1v1h-1zM399.6 293.6h1v1h-1zM385.1 304.4h1v1h-1zM382.6 275.2h1v1h-1zM373.6 295.5h1v1h-1zM394.7 329.1h1v1h-1zM383.1 286.7h1v1h-1zM359.7 293.7h1v1h-1zM367.7 294.2h1v1h-1zM388.8 303.1h1v1h-1zM388.9 299.5h1v1h-1zM358.9 282.8h1v1h-1zM374.8 312.6h1v1h-1zM387.2 304.1h1v1h-1zM385.8 304.4h1v1h-1zM380.2 283.4h1v1h-1zM397.8 282.3h1v1h-1zM371.4 289.7h1v1h-1zM354.8 291.8h1v1h-1zM382.2 261.3h1v1h-1zM391.6 295.6h1v1h-1zM387.6 319.6h1v1h-1zM383.2 299.4h1v1h-1zM371.3 318.3h1v1h-1zM359.1 263.7h1v1h-1zM372.0 302.4h1v1h-1zM391.2 323.4h1v1h-1zM403.3 326.0h1v1h-1zM394.7 292.4h1v1h-1zM389.0 298.9h1v1h-1zM396.2 280.6h1v1h-1zM377.3 304.1h1v1h-1zM392.6 326.8h1v1h-1zM359.8 294.8h1v1h-1zM384.4 302.7h1v1h-1zM346.3 285.9h1v1h-1zM380.8 304.5h1v1h-1zM384.4 309.9h1v1h-1zM380.2 317.1h1v1h-1zM365.5 276.0h1v1h-1zM369.6 330.7h1v1h-1zM382.5 293.9h1v1h-1zM409.5 338.5h1v1h-1zM375.2 317.6h1v1h-1zM367.4 289.5h1v1h-1zM408.8 276.5h1v1h-1zM392.4 311.6h1v1h-1zM354.9 294.0h1v1h-1zM356.0 314.5h1v1h-1zM393.9 312.4h1v1h-1zM375.0 313.8h1v1h-1zM393.2 290.0h1v1h-1zM379.2 287.1h1v1h-1zM395.2 293.3h1v1h-1zM363.8 318.5h1v1h-1zM350.8 330.9h1v1h-1zM334.7 260.7h1v1h-1zM383.2 294.0h1v1h-1zM378.2 322.8h1v1h-1zM377.7 289.7h1v1h-1zM354.5 325.7h1v1h-1zM342.7 268.1h1v1h-1zM378.1 292.3h1v1h-1zM384.3 297.3h1v1h-1zM392.5 287.6h1v1h-1zM387.8 294.7h1v1h-1zM385.4 284.5h1v1h-1zM371.6 310.5h1v1h-1zM387.8 264.7h1v1h-1zM373.8 298.2h1v1h-1zM345.2 272.2h1v1h-1zM368.7 295.0h1v1h-1zM391.5 305.2h1v1h-1zM382.2 299.9h1v1h-1zM376.1 315.6h1v1h-1zM347.0 272.2h1v1h-1zM380.9 304.3h1v1h-1zM383.8 288.4h1v1h-1zM401.8 317.4h1v1h-1zM400.8 289.4h1v1h-1zM369.0 288.3h1v1h-1zM391.8 315.4h1v1h-1zM369.4 295.1h1v1h-1zM377.2 299.3h1v1h-1zM377.0 276.3h1v1h-1zM402.6 319.8h1v1h-1zM390.9 297.5h1v1h-1zM400.6 302.3h1v1h-1zM355.7 328.4h1v1h-1zM396.8 316.2h1v1h-1zM391.5 323.9h1v1h-1zM380.8 280.6h1v1h-1zM362.9 292.4h1v1h-1zM379.1 280.7h1v1h-1zM363.5 335.0h1v1h-1zM355.0 289.7h1v1h-1zM345.3 264.6h1v1h-1zM365.0 335.3h1v1h-1zM378.7 302.7h1v1h-1zM388.6 284.2h1v1h-1zM378.8 292.1h1v1h-1zM397.2 316.4h1v1h-1zM374.8 309.2h1v1h-1zM350.4 290.1h1v1h-1zM384.1 311.6h1v1h-1zM393.4 298.4h1v1h-1zM374.5 290.7h1v1h-1zM350.9 281.4h1v1h-1zM362.1 296.1h1v1h-1zM381.0 317.1h1v1h-1zM382.1 298.6h1v1h-1zM384.8 293.1h1v1h-1zM379.5 306.2h1v1h-1zM389.6 305.4h1v1h-1zM392.3 306.2h1v1h-1zM403.0 331.1h1v1h-1zM375.6 300.2h1v1h-1zM389.5 308.8h1v1h-1zM382.5 292.0h1v1h-1zM404.7 283.1h1v1h-1zM348.0 288.2h1v1h-1zM389.6 294.2h1v1h-1zM375.1 315.6h1v1h-1zM409.8 326.2h1v1h-1zM352.3 274.1h1v1h-1zM374.8 292.5h1v1h-1zM392.1 289.2h1v1h-1zM386.2 296.4h1v1h-1zM363.8 323.4h1v1h-1zM342.0 320.3h1v1h-1zM371.2 298.8h1v1h-1zM358.3 287.5h1v1h-1zM378.0 279.1h1v1h-1zM368.5 298.8h1v1h-1zM373.5 317.6h1v1h-1zM399.3 314.6h1v1h-1zM328.6 277.8h1v1h-1zM398.6 301.2h1v1h-1zM397.4 295.1h1v1h-1zM380.1 307.9h1v1h-1zM382.0 288.5h1v1h-1zM374.5 316.7h1v1h-1zM397.4 301.0h1v1h-1zM381.5 312.0h1v1h-1zM358.8 316.2h1v1h-1zM383.9 276.7h1v1h-1zM389.3 325.1h1v1h-1zM380.8 304.2h1v1h-1zM385.2 318.5h1v1h-1zM368.5 297.0h1v1h-1zM375.5 318.7h1v1h-1zM370.3 324.2h1v1h-1zM357.4 288.4h1v1h-1zM384.2 284.7h1v1h-1zM383.6 302.1h1v1h-1zM391.8 301.0h1v1h-1zM397.5 312.7h1v1h-1zM379.0 308.3h1v1h-1zM359.3 321.4h1v1h-1zM381.5 315.7h1v1h-1zM384.7 304.0h1v1h-1zM376.7 315.0h1v1h-1zM396.7 300.4h1v1h-1zM377.5 309.4h1v1h-1zM371.4 330.4h1v1h-1zM385.9 295.3h1v1h-1zM367.3 332.0h1v1h-1zM402.9 262.6h1v1h-1zM345.1 317.4h1v1h-1zM375.7 292.5h1v1h-1zM327.1 332.0h1v1h-1zM394.8 291.5h1v1h-1zM353.8 290.1h1v1h-1zM386.7 288.1h1v1h-1zM371.3 315.2h1v1h-1zM369.1 316.1h1v1h-1zM356.1 294.2h1v1h-1zM368.5 337.5h1v1h-1zM388.1 325.8h1v1h-1zM400.1 289.8h1v1h-1zM399.0 290.5h1v1h-1zM379.2 305.2h1v1h-1zM391.6 310.3h1v1h-1zM403.9 274.0h1v1h-1zM389.9 306.4h1v1h-1zM380.9 296.1h1v1h-1zM361.3 290.5h1v1h-1zM396.1 300.9h1v1h-1zM377.3 297.7h1v1h-1zM356.6 322.5h1v1h-1zM380.0 302.9h1v1h-1zM358.2 315.7h1v1h-1zM388.8 298.1h1v1h-1zM379.4 312.4h1v1h-1zM383.8 296.3h1v1h-1zM392.0 282.8h1v1h-1zM393.0 290.8h1v1h-1zM376.8 311.7h1v1h-1zM377.3 299.8h1v1h-1zM390.2 310.6h1v1h-1zM372.2 314.1h1v1h-1zM363.7 323.4h1v1h-1zM397.4 311.6h1v1h-1zM398.3 290.7h1v1h-1zM377.8 309.8h1v1h-1zM391.4 280.3h1v1h-1zM350.6 291.8h1v1h-1zM380.9 292.7h1v1h-1zM384.1 305.3h1v1h-1zM388.0 292.0h1v1h-1zM371.2 296.8h1v1h-1zM377.6 308.4h1v1h-1zM378.8 306.1h1v1h-1zM382.8 303.4h1v1h-1zM391.8 317.9h1v1h-1zM397.8 323.1h1v1h-1zM366.0 298.8h1v1h-1zM377.5 293.9h1v1h-1zM419.9 328.1h1v1h-1zM391.3 291.5h1v1h-1zM387.1 285.6h1v1h-1zM374.6 307.7h1v1h-1zM367.6 286.8h1v1h-1zM383.4 302.2h1v1h-1zM369.1 284.0h1v1h-1zM364.9 294.3h1v1h-1zM381.3 326.6h1v1h-1zM380.5 306.3h1v1h-1zM378.8 305.0h1v1h-1zM382.1 307.9h1v1h-1zM364.2 287.4h1v1h-1zM377.0 287.5h1v1h-1zM397.7 331.9h1v1h-1zM385.0 320.6h1v1h-1zM373.7 294.0h1v1h-1zM379.7 322.1h1v1h-1zM356.9 331.9h1v1h-1zM379.1 291.0h1v1h-1zM371.4 292.0h1v1h-1zM381.1 298.9h1v1h-1zM365.9 299.4h1v1h-1zM417.9 326.0h1v1h-1zM405.1 279.8h1v1h-1zM359.0 286.5h1v1h-1zM354.9 290.7h1v1h-1zM356.2 314.0h1v1h-1zM373.8 310.6h1v1h-1zM399.1 337.3h1v1h-1zM379.2 288.3h1v1h-1zM367.3 288.0h1v1h-1zM398.0 306.8h1v1h-1zM382.2 300.7h1v1h-1zM388.5 294.1h1v1h-1zM369.6 297.3h1v1h-1zM349.0 329.7h1v1h-1zM392.7 296.8h1v1h-1zM379.2 304.3h1v1h-1zM373.3 300.4h1v1h-1zM380.7 276.6h1v1h-1zM374.1 300.2h1v1h-1zM373.0 276.9h1v1h-1zM380.5 311.9h1v1h-1zM401.0 321.6h1v1h-1zM396.1 302.8h1v1h-1zM400.1 310.3h1v1h-1zM355.5 328.4h1v1h-1zM376.5 297.7h1v1h-1zM365.7 318.2h1v1h-1zM373.7 307.1h1v1h-1zM374.0 296.4h1v1h-1zM390.9 301.2h1v1h-1zM368.6 300.7h1v1h-1zM386.1 283.2h1v1h-1zM377.8 328.1h1v1h-1zM393.0 325.0h1v1h-1zM375.7 312.0h1v1h-1zM397.1 278.6h1v1h-1zM392.0 308.9h1v1h-1zM368.5 290.1h1v1h-1zM377.6 303.0h1v1h-1zM391.8 294.8h1v1h-1zM331.8 327.7h1v1h-1zM374.0 323.4h1v1h-1zM391.9 293.9h1v1h-1zM399.2 301.4h1v1h-1zM387.6 298.9h1v1h-1zM388.6 304.7h1v1h-1zM371.2 315.7h1v1h-1zM384.3 302.4h1v1h-1zM369.8 318.1h1v1h-1zM393.1 308.0h1v1h-1zM398.7 317.2h1v1h-1zM374.6 305.9h1v1h-1zM386.4 285.9h1v1h-1zM386.0 288.4h1v1h-1zM368.1 280.9h1v1h-1zM386.8 302.2h1v1h-1zM401.0 292.3h1v1h-1zM357.8 288.6h1v1h-1zM387.0 325.8h1v1h-1zM350.3 290.8h1v1h-1zM374.4 322.6h1v1h-1zM385.2 278.5h1v1h-1zM389.5 305.0h1v1h-1zM351.3 287.5h1v1h-1zM368.2 273.1h1v1h-1zM424.6 330.2h1v1h-1zM378.5 319.4h1v1h-1zM374.0 313.9h1v1h-1zM346.2 325.9h1v1h-1zM397.9 321.5h1v1h-1zM387.3 300.0h1v1h-1zM379.2 298.1h1v1h-1zM374.5 305.2h1v1h-1zM383.9 309.6h1v1h-1zM358.1 331.0h1v1h-1zM380.7 304.9h1v1h-1zM360.3 331.6h1v1h-1zM394.7 310.8h1v1h-1zM393.8 299.4h1v1h-1zM374.0 305.9h1v1h-1zM357.0 292.1h1v1h-1zM372.6 301.3h1v1h-1zM369.9 295.8h1v1h-1zM365.5 279.4h1v1h-1zM378.7 301.7h1v1h-1zM374.6 328.4h1v1h-1zM365.2 319.0h1v1h-1zM377.2 294.7h1v1h-1zM367.2 297.7h1v1h-1zM375.8 284.3h1v1h-1zM377.1 308.2h1v1h-1zM397.9 327.4h1v1h-1zM393.9 295.0h1v1h-1zM371.9 296.5h1v1h-1zM409.1 266.7h1v1h-1zM386.8 291.0h1v1h-1zM386.9 320.0h1v1h-1zM372.2 306.2h1v1h-1zM372.1 338.2h1v1h-1zM401.9 286.9h1v1h-1zM380.0 301.2h1v1h-1zM375.0 303.3h1v1h-1zM371.1 326.3h1v1h-1zM380.9 291.6h1v1h-1zM386.3 309.9h1v1h-1zM347.2 317.6h1v1h-1zM383.4 292.8h1v1h-1zM383.1 305.3h1v1h-1zM380.9 276.2h1v1h-1zM376.7 273.6h1v1h-1zM389.0 327.9h1v1h-1zM371.6 306.2h1v1h-1zM366.5 333.9h1v1h-1zM389.0 318.5h1v1h-1zM363.4 298.0h1v1h-1zM366.7 298.1h1v1h-1zM360.4 294.4h1v1h-1zM366.6 317.7h1v1h-1zM395.4 264.0h1v1h-1zM376.0 308.3h1v1h-1zM384.6 313.2h1v1h-1zM380.6 261.4h1v1h-1zM360.5 270.8h1v1h-1zM373.3 297.5h1v1h-1zM374.9 278.4h1v1h-1zM369.3 317.1h1v1h-1zM355.0 292.6h1v1h-1zM386.6 310.3h1v1h-1zM389.8 308.0h1v1h-1zM363.7 291.8h1v1h-1zM394.4 313.6h1v1h-1zM397.0 313.4h1v1h-1zM394.9 301.4h1v1h-1zM358.7 295.8h1v1h-1zM403.0 320.2h1v1h-1zM389.6 296.4h1v1h-1zM360.5 293.1h1v1h-1zM354.5 317.4h1v1h-1zM390.2 334.7h1v1h-1zM364.9 322.6h1v1h-1zM389.3 311.1h1v1h-1zM374.0 314.5h1v1h-1zM387.3 299.3h1v1h-1zM400.8 297.2h1v1h-1zM379.4 287.8h1v1h-1zM402.1 324.0h1v1h-1zM359.1 294.2h1v1h-1zM395.8 306.7h1v1h-1zM383.6 296.5h1v1h-1zM399.4 322.6h1v1h-1zM391.5 308.2h1v1h-1zM376.9 294.5h1v1h-1zM373.5 298.2h1v1h-1zM389.0 326.5h1v1h-1zM372.0 312.8h1v1h-1zM387.2 310.9h1v1h-1zM380.8 303.8h1v1h-1zM400.1 319.5h1v1h-1zM400.5 297.4h1v1h-1zM396.3 301.2h1v1h-1zM379.5 304.3h1v1h-1zM383.8 302.0h1v1h-1zM372.1 295.7h1v1h-1zM388.2 316.1h1v1h-1zM360.6 272.4h1v1h-1zM390.3 295.1h1v1h-1zM374.6 289.2h1v1h-1zM374.3 315.6h1v1h-1zM373.4 317.1h1v1h-1zM380.0 287.6h1v1h-1zM399.6 294.6h1v1h-1zM319.6 269.5h1v1h-1zM332.3 265.0h1v1h-1zM294.5 274.3h1v1h-1zM281.1 272.1h1v1h-1zM312.8 276.5h1v1h-1zM272.4 273.0h1v1h-1zM288.9 279.4h1v1h-1zM310.1 282.3h1v1h-1zM288.9 274.3h1v1h-1zM307.6 281.0h1v1h-1zM340.1 269.7h1v1h-1zM278.3 276.1h1v1h-1zM330.9 268.7h1v1h-1zM285.0 276.0h1v1h-1zM279.4 272.0h1v1h-1zM305.0 276.3h1v1h-1zM322.6 269.5h1v1h-1zM284.3 276.3h1v1h-1zM284.0 275.7h1v1h-1zM290.3 272.2h1v1h-1zM284.2 271.1h1v1h-1zM304.1 269.2h1v1h-1zM284.3 273.1h1v1h-1zM294.4 277.1h1v1h-1zM307.8 274.4h1v1h-1zM290.8 275.9h1v1h-1zM285.1 273.5h1v1h-1zM283.0 276.6h1v1h-1zM344.8 279.3h1v1h-1zM301.6 277.1h1v1h-1zM318.3 275.5h1v1h-1zM288.8 274.7h1v1h-1zM314.9 273.2h1v1h-1zM306.7 278.1h1v1h-1zM259.5 282.2h1v1h-1zM317.8 275.3h1v1h-1zM303.7 279.3h1v1h-1zM284.9 277.6h1v1h-1zM290.6 275.5h1v1h-1zM291.1 278.4h1v1h-1zM270.9 278.2h1v1h-1zM287.4 275.8h1v1h-1zM266.6 273.2h1v1h-1zM291.7 282.1h1v1h-1zM248.0 285.7h1v1h-1zM287.3 285.7h1v1h-1zM308.6 276.5h1v1h-1zM298.9 274.2h1v1h-1zM301.0 267.1h1v1h-1zM275.4 274.8h1v1h-1zM280.1 267.3h1v1h-1zM320.0 267.4h1v1h-1zM304.7 279.3h1v1h-1zM291.6 278.2h1v1h-1zM332.7 266.0h1v1h-1zM291.3 274.8h1v1h-1zM322.5 276.8h1v1h-1zM302.3 267.5h1v1h-1zM300.0 279.9h1v1h-1zM322.0 268.5h1v1h-1zM309.6 280.8h1v1h-1zM299.8 276.1h1v1h-1zM297.4 271.6h1v1h-1zM304.7 267.1h1v1h-1zM301.9 273.4h1v1h-1zM292.8 274.7h1v1h-1zM277.2 274.5h1v1h-1zM243.0 272.1h1v1h-1zM297.6 274.1h1v1h-1zM294.7 279.5h1v1h-1zM326.7 270.6h1v1h-1zM309.9 274.1h1v1h-1zM325.1 277.4h1v1h-1zM297.7 279.5h1v1h-1zM281.5 282.9h1v1h-1zM318.0 273.3h1v1h-1zM286.9 276.2h1v1h-1zM294.4 260.4h1v1h-1zM331.7 273.4h1v1h-1zM312.2 278.5h1v1h-1zM324.2 269.5h1v1h-1zM270.4 281.8h1v1h-1zM300.8 265.7h1v1h-1zM271.8 272.5h1v1h-1zM304.4 270.0h1v1h-1zM308.9 272.7h1v1h-1zM249.3 273.8h1v1h-1zM335.2 270.0h1v1h-1zM284.4 268.2h1v1h-1zM297.0 272.5h1v1h-1zM260.7 277.1h1v1h-1zM310.3 281.8h1v1h-1zM290.2 272.0h1v1h-1zM301.0 273.3h1v1h-1zM282.0 273.4h1v1h-1zM330.1 275.8h1v1h-1zM275.4 277.4h1v1h-1zM308.0 283.9h1v1h-1zM312.0 278.6h1v1h-1zM298.0 275.9h1v1h-1zM294.0 281.9h1v1h-1zM294.2 271.2h1v1h-1zM322.6 268.5h1v1h-1zM310.0 278.4h1v1h-1zM298.3 275.9h1v1h-1zM276.1 275.7h1v1h-1zM303.6 279.8h1v1h-1zM311.8 273.4h1v1h-1zM299.4 274.5h1v1h-1zM331.7 277.0h1v1h-1z" fill="#333"/>
<path d="M277.8 302.0 278.0 300.3 278.3 298.6 278.7 297.0 279.2 295.4 279.9 293.9 280.7 292.6 281.6 291.4 282.7 290.3 284.0 289.4 285.5 288.8 287.1 288.2 288.9 287.8 290.8 287.4 292.6 287.1 294.5 286.8 296.3 286.4 298.1 286.0 299.9 285.6 301.7 285.3 303.6 285.0 305.4 284.6 307.2 284.3 309.0 283.9 310.8 283.5 312.5 283.1 314.2 282.6 315.9 282.1 317.6 281.7 319.2 281.2 320.9 280.6 322.6 280.1 324.3 279.5 326.1 278.9 328.1 278.2 330.1 277.5 332.1 276.8 334.1 276.0 335.9 275.3 337.5 274.6 338.8 274.0 339.8 273.3 340.6 272.4 341.2 271.5 341.7 270.7 342.1 270.0 342.4 269.6 342.7 269.6 343.0 270.0 343.3 271.0 343.5 272.6 343.6 274.6 343.6 276.8 343.7 279.1 343.9 281.4 344.2 283.5 344.6 285.2 345.2 286.6 345.9 288.0 346.6 289.2 347.5 290.3 348.4 291.3 349.4 292.3 350.4 293.2 351.4 294.0 352.5 294.7 353.6 295.3 354.9 295.8 356.1 296.3 357.4 296.7 358.7 297.0 359.9 297.5 361.0 297.9 362.1 298.4 363.2 298.8 364.3 299.2 365.4 299.6 366.4 300.1 367.3 300.5 368.1 301.1 368.8 301.7 369.4 302.4 369.8 303.2 370.2 304.0 370.4 304.9 370.6 305.8 370.7 306.7 370.8 307.6 370.8 308.5 370.8 309.4 370.6 310.3 370.5 311.3 370.2 312.2 369.9 313.1 369.6 313.9 369.2 314.7 368.8 315.3 368.3 315.8 367.8 316.3 367.1 316.7 366.5 317.0 365.8 317.2 365.1 317.3 364.5 317.4 364.0 317.3 363.5 317.1 363.1 316.7 362.7 316.2 362.4 315.6 362.0 315.0 361.7 314.4 361.4 313.8 361.0 313.4 360.6 313.0 360.3 312.7 359.9 312.3 359.6 312.0 359.3 311.8 358.9 311.6 358.6 311.5 358.2 311.5 357.8 311.6 357.5 311.9 357.1 312.3 356.8 312.7 356.4 313.2 356.0 313.6 355.6 314.1 355.2 314.4 354.8 314.7 354.4 315.0 354.0 315.2 353.6 315.5 353.2 315.7 352.7 315.9 352.1 316.1 351.4 316.3 350.6 316.4 349.5 316.6 348.4 316.6 347.3 316.7 346.1 316.8 345.0 316.9 344.0 317.1 343.2 317.3 342.6 317.6 342.2 318.0 341.8 318.5 341.6 319.0 341.3 319.5 341.0 320.0 340.6 320.5 340.0 321.0 339.3 321.5 338.4 321.9 337.5 322.3 336.6 322.8 335.5 323.2 334.4 323.7 333.2 324.1 332.0 324.5 330.7 324.9 329.4 325.3 327.9 325.7 326.4 326.1 324.9 326.5 323.3 326.8 321.7 327.2 320.0 327.5 318.2 327.8 316.3 328.1 314.3 328.4 312.3 328.7 310.3 329.0 308.4 329.2 306.6 329.4 305.0 329.5 303.6 329.6 302.3 329.7 301.2 329.7 300.2 329.7 299.1 329.7 298.1 329.6 297.1 329.4 296.0 329.2 294.8 328.9 293.6 328.6 292.4 328.2 291.1 327.7 289.9 327.2 288.7 326.6 287.6 326.0 286.6 325.3 285.7 324.6 284.8 323.8 284.0 323.0 283.2 322.1 282.5 321.2 281.9 320.1 281.3 318.9 280.7 317.5 280.1 315.9 279.6 314.1 279.1 312.1 278.6 310.0 278.2 307.9 277.9 305.8 277.8 303.8Z" fill="#fff"/>
<path d="M281.8 304.0 281.8 302.9 281.9 301.7 281.9 300.6 282.0 299.5 282.2 298.4 282.4 297.3 282.7 296.4 283.0 295.5 283.4 294.7 283.8 294.1 284.2 293.4 284.7 292.9 285.2 292.4 285.9 291.9 286.6 291.4 287.5 291.0 288.5 290.6 289.6 290.2 290.8 289.9 292.2 289.6 293.5 289.3 295.0 289.0 296.5 288.7 298.0 288.3 299.6 287.9 301.3 287.5 303.0 287.1 304.8 286.7 306.6 286.2 308.4 285.8 310.2 285.3 312.0 284.8 313.8 284.3 315.6 283.7 317.4 283.1 319.2 282.5 321.0 281.9 322.8 281.4 324.4 280.8 326.0 280.3 327.5 279.8 328.9 279.3 330.3 278.8 331.6 278.4 332.9 278.0 334.0 277.6 335.1 277.3 336.0 277.0 336.8 276.7 337.5 276.4 338.1 276.1 338.6 275.9 339.1 275.8 339.4 275.8 339.7 276.2 340.0 276.8 340.2 277.8 340.4 279.1 340.5 280.7 340.5 282.5 340.5 284.3 340.4 286.3 340.2 288.2 340.0 290.0 339.7 291.8 339.4 293.7 339.1 295.7 338.6 297.6 338.1 299.6 337.5 301.5 336.8 303.3 336.0 305.0 335.1 306.6 334.1 308.1 333.0 309.5 331.8 310.9 330.5 312.3 329.1 313.6 327.6 314.8 326.0 316.0 324.3 317.2 322.4 318.4 320.4 319.5 318.3 320.6 316.2 321.6 314.1 322.6 312.0 323.4 310.0 324.0 308.0 324.5 306.0 324.9 304.0 325.2 302.0 325.3 300.1 325.4 298.3 325.3 296.6 325.2 295.0 325.0 293.6 324.7 292.3 324.2 291.1 323.7 290.0 323.0 289.0 322.3 288.1 321.5 287.3 320.8 286.5 320.0 285.8 319.2 285.2 318.4 284.7 317.6 284.3 316.8 283.9 315.9 283.6 314.9 283.3 314.0 283.0 313.0 282.7 312.0 282.5 310.9 282.3 309.7 282.1 308.6 282.0 307.4 281.9 306.3 281.8 305.1ZM283.7 304.6 283.7 303.5 283.7 302.5 283.8 301.4 283.9 300.4 284.1 299.4 284.3 298.4 284.5 297.6 284.9 296.8 285.3 296.1 285.7 295.4 286.1 294.9 286.7 294.4 287.3 293.9 287.9 293.5 288.7 293.1 289.6 292.7 290.6 292.3 291.8 292.0 293.0 291.8 294.3 291.5 295.6 291.2 297.0 291.0 298.5 290.7 299.9 290.3 301.4 290.0 303.0 289.6 304.6 289.2 306.3 288.7 308.0 288.3 309.6 287.8 311.3 287.3 313.0 286.8 314.6 286.2 316.3 285.5 318.1 284.9 319.8 284.2 321.5 283.5 323.2 282.9 324.7 282.2 326.2 281.7 327.7 281.1 329.0 280.5 330.4 280.0 331.6 279.5 332.8 279.0 334.0 278.5 335.0 278.2 335.9 277.9 336.7 277.5 337.4 277.2 338.0 276.9 338.5 276.6 338.9 276.4 339.3 276.5 339.6 276.7 339.8 277.3 340.0 278.1 340.2 279.3 340.3 280.7 340.3 282.3 340.3 284.0 340.2 285.8 340.0 287.5 339.8 289.2 339.5 290.9 339.2 292.7 338.8 294.6 338.4 296.4 337.9 298.3 337.3 300.1 336.6 301.9 335.8 303.5 334.9 305.1 333.9 306.6 332.8 308.0 331.6 309.4 330.3 310.8 329.0 312.1 327.5 313.3 326.0 314.5 324.3 315.7 322.5 316.9 320.6 318.0 318.6 319.1 316.6 320.1 314.5 321.0 312.5 321.8 310.6 322.5 308.7 323.0 306.8 323.3 304.9 323.6 303.0 323.7 301.2 323.8 299.5 323.8 297.9 323.7 296.4 323.5 295.1 323.2 293.9 322.8 292.7 322.3 291.7 321.8 290.7 321.1 289.8 320.4 289.0 319.8 288.2 319.1 287.5 318.4 287.0 317.7 286.5 316.9 286.1 316.1 285.7 315.3 285.4 314.5 285.1 313.6 284.8 312.7 284.6 311.8 284.3 310.8 284.1 309.8 284.0 308.7 283.8 307.7 283.8 306.6 283.7 305.6ZM285.6 305.1 285.6 304.2 285.6 303.2 285.7 302.3 285.8 301.4 285.9 300.4 286.1 299.6 286.4 298.8 286.7 298.0 287.1 297.4 287.5 296.8 288.0 296.3 288.5 295.8 289.1 295.4 289.8 295.0 290.6 294.6 291.5 294.2 292.4 293.8 293.5 293.5 294.7 293.2 295.9 293.0 297.2 292.7 298.5 292.4 299.8 292.1 301.2 291.7 302.6 291.3 304.1 290.9 305.6 290.5 307.2 290.0 308.8 289.5 310.3 289.0 311.9 288.4 313.5 287.9 315.1 287.2 316.7 286.6 318.4 285.9 320.1 285.2 321.8 284.4 323.4 283.7 324.9 283.1 326.4 282.4 327.8 281.8 329.1 281.2 330.4 280.7 331.7 280.1 332.8 279.6 333.9 279.1 334.9 278.7 335.8 278.4 336.6 278.1 337.3 277.7 337.9 277.4 338.4 277.1 338.8 276.9 339.1 276.9 339.4 277.1 339.7 277.6 339.9 278.4 340.1 279.4 340.1 280.7 340.2 282.2 340.1 283.8 340.0 285.4 339.8 287.0 339.6 288.6 339.3 290.2 339.0 291.8 338.6 293.6 338.2 295.3 337.7 297.1 337.0 298.8 336.4 300.4 335.6 302.0 334.7 303.5 333.7 305.0 332.6 306.4 331.5 307.8 330.2 309.2 328.9 310.4 327.5 311.7 326.0 312.9 324.4 314.0 322.7 315.2 320.8 316.3 318.9 317.4 317.0 318.4 315.0 319.3 313.1 320.0 311.3 320.7 309.5 321.2 307.7 321.6 305.9 321.9 304.1 322.1 302.4 322.2 300.8 322.2 299.3 322.2 297.9 322.0 296.6 321.8 295.4 321.5 294.3 321.0 293.3 320.5 292.3 320.0 291.4 319.4 290.6 318.7 289.9 318.1 289.3 317.5 288.7 316.9 288.2 316.2 287.8 315.5 287.5 314.8 287.2 314.0 286.9 313.3 286.6 312.5 286.4 311.6 286.2 310.7 286.0 309.8 285.8 308.9 285.7 307.9 285.6 307.0 285.6 306.0ZM287.5 305.6 287.5 304.8 287.5 304.0 287.6 303.1 287.7 302.3 287.8 301.5 288.0 300.7 288.3 300.0 288.6 299.3 289.0 298.7 289.4 298.2 289.9 297.7 290.4 297.2 291.0 296.8 291.6 296.4 292.4 296.0 293.2 295.6 294.1 295.2 295.1 294.9 296.2 294.6 297.4 294.3 298.6 294.0 299.8 293.7 301.1 293.4 302.4 293.0 303.7 292.5 305.1 292.1 306.5 291.6 308.0 291.1 309.5 290.5 310.9 290.0 312.5 289.4 313.9 288.8 315.5 288.1 317.1 287.4 318.7 286.7 320.3 285.9 322.0 285.2 323.6 284.4 325.1 283.7 326.5 283.1 327.8 282.4 329.2 281.8 330.4 281.2 331.7 280.7 332.8 280.1 333.9 279.6 334.9 279.2 335.8 278.8 336.5 278.5 337.2 278.1 337.8 277.8 338.3 277.5 338.7 277.3 339.0 277.3 339.3 277.5 339.6 277.9 339.8 278.6 339.9 279.6 340.0 280.7 340.0 282.1 340.0 283.5 339.9 285.0 339.7 286.5 339.4 288.0 339.2 289.4 338.8 291.0 338.4 292.6 338.0 294.2 337.4 295.8 336.8 297.5 336.1 299.0 335.3 300.5 334.5 302.0 333.5 303.4 332.4 304.8 331.3 306.2 330.1 307.5 328.8 308.7 327.4 310.0 326.0 311.1 324.5 312.3 322.8 313.4 321.1 314.5 319.3 315.5 317.4 316.5 315.6 317.4 313.8 318.2 312.1 318.8 310.4 319.4 308.6 319.8 306.9 320.1 305.2 320.4 303.6 320.5 302.1 320.6 300.6 320.6 299.3 320.5 298.1 320.4 296.9 320.1 295.9 319.7 294.9 319.3 294.0 318.8 293.1 318.3 292.3 317.7 291.6 317.2 291.0 316.7 290.5 316.1 290.0 315.5 289.6 314.9 289.3 314.2 289.0 313.6 288.7 312.9 288.4 312.2 288.2 311.4 288.0 310.6 287.8 309.8 287.7 309.0 287.6 308.2 287.5 307.3 287.5 306.5ZM289.2 306.2 289.2 305.4 289.3 304.7 289.3 303.9 289.4 303.2 289.6 302.4 289.7 301.7 290.0 301.1 290.3 300.4 290.7 299.9 291.1 299.4 291.5 298.9 292.0 298.5 292.6 298.0 293.3 297.6 294.0 297.2 294.8 296.8 295.6 296.5 296.6 296.1 297.6 295.8 298.7 295.5 299.8 295.1 300.9 294.8 302.1 294.4 303.3 294.0 304.6 293.5 305.9 293.0 307.2 292.5 308.6 292.0 310.0 291.4 311.4 290.8 312.9 290.2 314.3 289.5 315.8 288.9 317.3 288.1 318.9 287.3 320.5 286.6 322.1 285.8 323.7 285.0 325.2 284.3 326.6 283.6 327.9 282.9 329.2 282.3 330.5 281.7 331.7 281.1 332.8 280.5 333.9 280.0 334.9 279.6 335.7 279.2 336.5 278.9 337.1 278.5 337.7 278.1 338.2 277.9 338.6 277.7 339.0 277.7 339.2 277.8 339.5 278.2 339.7 278.8 339.8 279.7 339.9 280.7 339.9 282.0 339.8 283.3 339.7 284.7 339.5 286.1 339.3 287.4 339.0 288.8 338.7 290.2 338.2 291.7 337.8 293.2 337.2 294.8 336.6 296.3 335.9 297.8 335.1 299.2 334.3 300.6 333.3 301.9 332.3 303.3 331.1 304.6 330.0 305.9 328.7 307.1 327.4 308.3 326.0 309.5 324.5 310.6 323.0 311.7 321.3 312.8 319.6 313.8 317.8 314.8 316.1 315.6 314.4 316.4 312.8 317.1 311.1 317.6 309.5 318.1 307.9 318.5 306.3 318.8 304.7 319.0 303.2 319.1 301.9 319.2 300.6 319.2 299.4 319.1 298.3 318.9 297.3 318.6 296.3 318.2 295.4 317.8 294.6 317.3 293.9 316.8 293.2 316.3 292.6 315.9 292.0 315.4 291.6 314.9 291.2 314.3 290.9 313.8 290.6 313.2 290.3 312.6 290.1 311.9 289.9 311.3 289.7 310.6 289.5 309.9 289.4 309.1 289.3 308.4 289.2 307.6 289.2 306.9ZM290.9 306.6 290.9 306.0 291.0 305.4 291.0 304.7 291.1 304.0 291.3 303.4 291.5 302.8 291.7 302.2 292.0 301.6 292.4 301.1 292.8 300.6 293.2 300.1 293.7 299.7 294.2 299.3 294.8 298.9 295.5 298.5 296.3 298.1 297.1 297.7 297.9 297.3 298.9 296.9 299.9 296.6 300.9 296.2 302.0 295.8 303.1 295.4 304.2 294.9 305.4 294.4 306.6 293.9 307.9 293.4 309.2 292.8 310.5 292.2 311.9 291.6 313.3 290.9 314.6 290.2 316.1 289.5 317.6 288.7 319.2 287.9 320.7 287.1 322.3 286.3 323.8 285.5 325.3 284.8 326.7 284.1 328.0 283.4 329.2 282.7 330.5 282.1 331.7 281.5 332.8 280.9 333.9 280.4 334.8 280.0 335.7 279.6 336.4 279.2 337.1 278.8 337.6 278.5 338.1 278.2 338.5 278.0 338.9 278.0 339.2 278.1 339.4 278.4 339.6 279.0 339.7 279.8 339.8 280.8 339.8 281.9 339.7 283.1 339.6 284.4 339.4 285.6 339.2 286.9 338.8 288.1 338.5 289.5 338.1 290.9 337.6 292.3 337.0 293.7 336.4 295.1 335.7 296.5 334.9 297.8 334.1 299.2 333.1 300.5 332.1 301.8 331.0 303.0 329.8 304.3 328.6 305.5 327.3 306.7 326.0 307.8 324.6 308.9 323.1 310.0 321.5 311.0 319.9 312.0 318.3 313.0 316.6 313.8 315.0 314.6 313.5 315.3 311.9 315.9 310.4 316.4 308.8 316.8 307.3 317.2 305.8 317.4 304.4 317.7 303.1 317.8 301.9 317.8 300.8 317.8 299.7 317.6 298.7 317.4 297.8 317.1 296.9 316.7 296.1 316.3 295.4 315.9 294.7 315.5 294.1 315.1 293.6 314.7 293.2 314.2 292.8 313.8 292.5 313.3 292.2 312.7 292.0 312.2 291.7 311.7 291.5 311.1 291.3 310.5 291.2 309.9 291.1 309.2 291.0 308.6 290.9 307.9 290.9 307.3ZM292.5 307.1 292.5 306.5 292.5 306.0 292.6 305.4 292.7 304.8 292.8 304.2 293.0 303.7 293.2 303.1 293.5 302.6 293.9 302.1 294.3 301.7 294.7 301.2 295.2 300.8 295.7 300.4 296.2 300.0 296.9 299.5 297.6 299.1 298.3 298.7 299.2 298.3 300.0 297.9 300.9 297.6 301.9 297.2 302.9 296.7 303.9 296.3 305.0 295.8 306.1 295.2 307.3 294.7 308.5 294.1 309.7 293.5 311.0 292.9 312.3 292.2 313.6 291.5 314.9 290.8 316.3 290.1 317.8 289.3 319.3 288.5 320.9 287.6 322.4 286.8 323.9 286.0 325.4 285.2 326.7 284.5 328.0 283.8 329.3 283.1 330.5 282.5 331.7 281.8 332.8 281.3 333.8 280.7 334.8 280.3 335.6 279.9 336.4 279.5 337.0 279.1 337.6 278.8 338.1 278.5 338.5 278.3 338.8 278.3 339.1 278.4 339.3 278.6 339.5 279.2 339.6 279.9 339.7 280.8 339.7 281.8 339.6 282.9 339.5 284.1 339.3 285.3 339.0 286.4 338.7 287.6 338.3 288.8 337.9 290.1 337.4 291.4 336.9 292.7 336.2 294.0 335.5 295.4 334.8 296.6 333.9 297.9 333.0 299.1 331.9 300.4 330.9 301.6 329.7 302.8 328.5 304.0 327.3 305.2 326.0 306.2 324.7 307.3 323.2 308.4 321.7 309.4 320.2 310.4 318.7 311.3 317.1 312.2 315.6 313.0 314.1 313.7 312.7 314.3 311.2 314.8 309.7 315.3 308.3 315.7 306.8 316.0 305.5 316.3 304.2 316.5 303.1 316.6 302.0 316.6 301.0 316.5 300.0 316.3 299.1 316.1 298.2 315.8 297.5 315.4 296.8 315.1 296.1 314.7 295.5 314.4 295.1 314.0 294.6 313.6 294.3 313.2 294.0 312.8 293.7 312.4 293.5 311.9 293.2 311.4 293.0 311.0 292.8 310.4 292.7 309.9 292.6 309.3 292.5 308.8 292.5 308.2 292.5 307.7ZM294.0 307.6 294.0 307.1 294.1 306.6 294.2 306.1 294.3 305.6 294.4 305.1 294.6 304.6 294.8 304.1 295.1 303.7 295.4 303.2 295.8 302.8 296.2 302.3 296.6 301.9 297.1 301.5 297.6 301.0 298.2 300.6 298.9 300.2 299.6 299.8 300.3 299.3 301.1 298.9 302.0 298.5 302.9 298.1 303.8 297.6 304.7 297.1 305.7 296.6 306.8 296.0 307.9 295.4 309.0 294.8 310.2 294.2 311.4 293.5 312.6 292.8 313.9 292.1 315.2 291.4 316.6 290.6 318.0 289.8 319.5 288.9 321.0 288.1 322.6 287.2 324.0 286.4 325.5 285.6 326.8 284.9 328.1 284.2 329.3 283.5 330.5 282.8 331.7 282.2 332.8 281.6 333.8 281.0 334.8 280.6 335.6 280.1 336.3 279.8 337.0 279.4 337.5 279.1 338.0 278.8 338.4 278.6 338.7 278.5 339.0 278.6 339.2 278.9 339.4 279.3 339.5 280.0 339.6 280.8 339.6 281.7 339.5 282.7 339.4 283.8 339.2 284.9 338.9 286.0 338.6 287.0 338.2 288.2 337.8 289.3 337.2 290.5 336.7 291.8 336.0 293.0 335.3 294.2 334.6 295.4 333.7 296.6 332.8 297.8 331.8 299.0 330.7 300.2 329.6 301.4 328.4 302.5 327.2 303.6 326.0 304.7 324.7 305.7 323.4 306.7 322.0 307.7 320.5 308.7 319.1 309.6 317.6 310.5 316.2 311.3 314.8 312.0 313.4 312.6 312.0 313.2 310.6 313.8 309.2 314.2 307.9 314.6 306.6 315.0 305.4 315.2 304.2 315.4 303.2 315.5 302.2 315.4 301.3 315.3 300.4 315.1 299.6 314.8 298.8 314.5 298.1 314.2 297.5 314.0 297.0 313.7 296.5 313.4 296.1 313.1 295.7 312.7 295.4 312.4 295.2 312.0 294.9 311.6 294.7 311.2 294.5 310.8 294.4 310.4 294.2 309.9 294.1 309.5 294.1 309.0 294.0 308.5 294.0 308.0ZM295.6 308.0 295.6 307.6 295.6 307.2 295.7 306.8 295.8 306.4 295.9 306.0 296.1 305.5 296.3 305.1 296.6 304.7 296.9 304.3 297.3 303.9 297.6 303.4 298.1 303.0 298.5 302.6 299.0 302.1 299.6 301.7 300.2 301.2 300.8 300.8 301.5 300.3 302.2 299.9 303.0 299.4 303.8 298.9 304.6 298.4 305.5 297.9 306.5 297.4 307.4 296.8 308.5 296.1 309.5 295.5 310.6 294.8 311.8 294.1 313.0 293.4 314.2 292.6 315.5 291.9 316.8 291.1 318.2 290.3 319.7 289.4 321.2 288.5 322.7 287.6 324.1 286.8 325.6 286.0 326.9 285.2 328.1 284.5 329.4 283.8 330.6 283.1 331.7 282.5 332.8 281.9 333.8 281.3 334.7 280.8 335.6 280.4 336.3 280.0 336.9 279.7 337.5 279.3 337.9 279.0 338.3 278.9 338.7 278.8 338.9 278.8 339.2 279.1 339.3 279.5 339.4 280.1 339.5 280.8 339.5 281.6 339.4 282.6 339.2 283.5 339.0 284.5 338.8 285.5 338.4 286.5 338.1 287.5 337.6 288.6 337.1 289.7 336.5 290.8 335.9 292.0 335.2 293.1 334.4 294.2 333.6 295.3 332.6 296.5 331.6 297.6 330.6 298.7 329.5 299.9 328.3 301.0 327.2 302.1 326.0 303.1 324.8 304.1 323.5 305.1 322.2 306.1 320.8 307.0 319.5 307.9 318.1 308.8 316.8 309.6 315.5 310.3 314.2 311.0 312.8 311.6 311.5 312.2 310.2 312.8 308.9 313.2 307.6 313.6 306.5 314.0 305.4 314.2 304.4 314.3 303.4 314.3 302.5 314.2 301.7 314.1 300.9 313.9 300.2 313.7 299.5 313.4 298.9 313.2 298.4 313.0 297.9 312.8 297.5 312.5 297.2 312.2 296.9 311.9 296.6 311.6 296.4 311.3 296.2 311.0 296.0 310.7 295.9 310.3 295.7 309.9 295.6 309.6 295.6 309.2 295.6 308.8 295.5 308.4ZM296.9 308.4 297.0 308.1 297.0 307.7 297.1 307.4 297.2 307.1 297.3 306.7 297.5 306.4 297.7 306.0 298.0 305.6 298.3 305.2 298.6 304.8 298.9 304.4 299.3 304.0 299.8 303.5 300.2 303.1 300.8 302.6 301.3 302.1 301.9 301.7 302.5 301.2 303.2 300.7 303.9 300.2 304.6 299.7 305.4 299.2 306.2 298.6 307.1 298.0 308.0 297.4 309.0 296.7 310.0 296.1 311.0 295.4 312.1 294.6 313.3 293.9 314.5 293.1 315.7 292.3 317.0 291.5 318.4 290.7 319.8 289.8 321.3 288.9 322.8 288.0 324.2 287.1 325.6 286.3 326.9 285.5 328.2 284.8 329.4 284.1 330.6 283.4 331.7 282.8 332.8 282.2 333.8 281.6 334.7 281.1 335.5 280.7 336.3 280.3 336.9 279.9 337.4 279.6 337.9 279.3 338.3 279.1 338.6 279.0 338.9 279.0 339.1 279.2 339.3 279.6 339.4 280.1 339.4 280.8 339.4 281.6 339.3 282.4 339.1 283.3 338.9 284.2 338.7 285.1 338.3 286.0 337.9 286.9 337.5 287.9 336.9 288.9 336.4 290.0 335.7 291.0 335.0 292.1 334.2 293.1 333.4 294.2 332.5 295.3 331.5 296.4 330.5 297.4 329.4 298.5 328.3 299.6 327.1 300.7 326.0 301.7 324.8 302.6 323.6 303.6 322.4 304.6 321.1 305.5 319.9 306.4 318.6 307.2 317.3 308.1 316.1 308.8 314.8 309.5 313.6 310.2 312.3 310.8 311.0 311.4 309.8 312.0 308.6 312.4 307.5 312.8 306.4 313.1 305.5 313.3 304.5 313.3 303.7 313.3 302.9 313.2 302.1 313.0 301.4 312.9 300.7 312.7 300.1 312.5 299.6 312.4 299.2 312.2 298.8 312.0 298.5 311.8 298.2 311.5 297.9 311.3 297.7 311.1 297.5 310.8 297.3 310.5 297.2 310.3 297.1 310.0 297.0 309.7 296.9 309.4 296.9 309.0 296.9 308.7Z" fill="none" stroke="#000" stroke-width="1.0"/>
<path d="M299.0 309.0 299.0 308.8 299.1 308.6 299.2 308.4 299.3 308.1 299.4 307.9 299.6 307.6 299.8 307.3 300.0 307.0 300.3 306.6 300.6 306.3 300.9 305.8 301.2 305.4 301.6 305.0 302.1 304.5 302.5 304.0 303.0 303.5 303.5 303.0 304.0 302.5 304.6 302.0 305.2 301.4 305.8 300.8 306.5 300.3 307.2 299.6 308.0 299.0 308.8 298.3 309.7 297.6 310.6 296.9 311.6 296.2 312.6 295.4 313.7 294.6 314.8 293.8 316.0 293.0 317.2 292.2 318.6 291.3 320.0 290.4 321.5 289.4 322.9 288.5 324.4 287.6 325.7 286.8 327.0 286.0 328.2 285.3 329.4 284.5 330.6 283.8 331.7 283.2 332.8 282.5 333.8 282.0 334.7 281.4 335.5 281.0 336.2 280.6 336.8 280.2 337.4 279.9 337.8 279.6 338.2 279.4 338.5 279.3 338.8 279.4 339.0 279.5 339.2 279.8 339.2 280.2 339.3 280.8 339.2 281.5 339.2 282.2 339.0 283.0 338.8 283.7 338.5 284.5 338.2 285.3 337.7 286.1 337.3 286.9 336.7 287.8 336.1 288.7 335.5 289.6 334.8 290.6 334.0 291.5 333.2 292.5 332.3 293.5 331.3 294.5 330.3 295.5 329.2 296.5 328.2 297.5 327.1 298.5 326.0 299.5 324.9 300.4 323.8 301.4 322.7 302.3 321.6 303.2 320.4 304.1 319.3 304.9 318.1 305.7 317.0 306.5 315.9 307.3 314.7 308.0 313.5 308.7 312.3 309.4 311.2 310.1 310.0 310.6 309.0 311.1 308.0 311.5 307.1 311.7 306.2 311.9 305.4 311.9 304.6 311.9 303.9 311.8 303.2 311.7 302.6 311.6 302.0 311.5 301.5 311.4 301.1 311.3 300.7 311.2 300.4 311.1 300.1 311.0 299.9 310.8 299.7 310.7 299.5 310.5 299.3 310.3 299.2 310.2 299.1 310.0 299.0 309.8 299.0 309.6 299.0 309.4 299.0 309.2Z" fill="#2e2e2e"/>
<path d="M306 304L317 296L328 289L337 282" fill="none" stroke="#bbb" stroke-width="0.8"/>
<path d="M303 306L312 299.5L322 292L332 285.5" fill="none" stroke="#666" stroke-width="0.7"/>
<path d="M307 309L318 302L328 294.5L336 287" fill="none" stroke="#666" stroke-width="0.7"/>
<path d="M277.8 302.0 278.0 300.3 278.3 298.6 278.7 297.0 279.2 295.4 279.9 293.9 280.7 292.6 281.6 291.4 282.7 290.3 284.0 289.4 285.5 288.8 287.1 288.2 288.9 287.8 290.8 287.4 292.6 287.1 294.5 286.8 296.3 286.4 298.1 286.0 299.9 285.6 301.7 285.3 303.6 285.0 305.4 284.6 307.2 284.3 309.0 283.9 310.8 283.5 312.5 283.1 314.2 282.6 315.9 282.1 317.6 281.7 319.2 281.2 320.9 280.6 322.6 280.1 324.3 279.5 326.1 278.9 328.1 278.2 330.1 277.5 332.1 276.8 334.1 276.0 335.9 275.3 337.5 274.6 338.8 274.0 339.8 273.3 340.6 272.4 341.2 271.5 341.7 270.7 342.1 270.0 342.4 269.6 342.7 269.6 343.0 270.0 343.3 271.0 343.5 272.6 343.6 274.6 343.6 276.8 343.7 279.1 343.9 281.4 344.2 283.5 344.6 285.2 345.2 286.6 345.9 288.0 346.6 289.2 347.5 290.3 348.4 291.3 349.4 292.3 350.4 293.2 351.4 294.0 352.5 294.7 353.6 295.3 354.9 295.8 356.1 296.3 357.4 296.7 358.7 297.0 359.9 297.5 361.0 297.9 362.1 298.4 363.2 298.8 364.3 299.2 365.4 299.6 366.4 300.1 367.3 300.5 368.1 301.1 368.8 301.7 369.4 302.4 369.8 303.2 370.2 304.0 370.4 304.9 370.6 305.8 370.7 306.7 370.8 307.6 370.8 308.5 370.8 309.4 370.6 310.3 370.5 311.3 370.2 312.2 369.9 313.1 369.6 313.9 369.2 314.7 368.8 315.3 368.3 315.8 367.8 316.3 367.1 316.7 366.5 317.0 365.8 317.2 365.1 317.3 364.5 317.4 364.0 317.3 363.5 317.1 363.1 316.7 362.7 316.2 362.4 315.6 362.0 315.0 361.7 314.4 361.4 313.8 361.0 313.4 360.6 313.0 360.3 312.7 359.9 312.3 359.6 312.0 359.3 311.8 358.9 311.6 358.6 311.5 358.2 311.5 357.8 311.6 357.5 311.9 357.1 312.3 356.8 312.7 356.4 313.2 356.0 313.6 355.6 314.1 355.2 314.4 354.8 314.7 354.4 315.0 354.0 315.2 353.6 315.5 353.2 315.7 352.7 315.9 352.1 316.1 351.4 316.3 350.6 316.4 349.5 316.6 348.4 316.6 347.3 316.7 346.1 316.8 345.0 316.9 344.0 317.1 343.2 317.3 342.6 317.6 342.2 318.0 341.8 318.5 341.6 319.0 341.3 319.5 341.0 320.0 340.6 320.5 340.0 321.0 339.3 321.5 338.4 321.9 337.5 322.3 336.6 322.8 335.5 323.2 334.4 323.7 333.2 324.1 332.0 324.5 330.7 324.9 329.4 325.3 327.9 325.7 326.4 326.1 324.9 326.5 323.3 326.8 321.7 327.2 320.0 327.5 318.2 327.8 316.3 328.1 314.3 328.4 312.3 328.7 310.3 329.0 308.4 329.2 306.6 329.4 305.0 329.5 303.6 329.6 302.3 329.7 301.2 329.7 300.2 329.7 299.1 329.7 298.1 329.6 297.1 329.4 296.0 329.2 294.8 328.9 293.6 328.6 292.4 328.2 291.1 327.7 289.9 327.2 288.7 326.6 287.6 326.0 286.6 325.3 285.7 324.6 284.8 323.8 284.0 323.0 283.2 322.1 282.5 321.2 281.9 320.1 281.3 318.9 280.7 317.5 280.1 315.9 279.6 314.1 279.1 312.1 278.6 310.0 278.2 307.9 277.9 305.8 277.8 303.8Z" fill="none" stroke="#000" stroke-width="1.0"/>
<path d="M410.0 285.5 409.4 284.0 408.6 283.4 407.6 283.6 406.5 284.4 405.4 285.7 404.4 287.1 403.5 288.6 402.8 290.0 402.3 291.4 401.8 293.0 401.5 294.9 401.2 296.9 401.0 299.0 400.9 301.1 400.8 303.1 400.8 305.0 400.8 306.9 400.9 308.8 401.0 310.7 401.2 312.7 401.5 314.5 401.8 316.2 402.3 317.7 402.8 319.0 403.5 320.3 404.4 321.8 405.4 323.3 406.5 324.5 407.6 325.3 408.6 325.6 409.4 325.0 410.0 323.5 410.4 320.5 410.7 316.0 410.8 310.5 410.9 304.5 410.8 298.5 410.7 293.0 410.4 288.5Z" fill="#fff"/>
<path d="M410.0 297.0 409.5 296.1 408.8 295.8 408.0 296.0 407.2 296.4 406.3 297.1 405.4 297.9 404.7 298.7 404.2 299.5 403.8 300.3 403.6 301.2 403.4 302.2 403.3 303.4 403.2 304.5 403.2 305.7 403.2 306.9 403.2 308.0 403.2 309.1 403.2 310.3 403.2 311.5 403.3 312.7 403.4 313.8 403.6 314.9 403.8 315.8 404.2 316.5 404.7 317.2 405.4 317.9 406.3 318.6 407.2 319.1 408.0 319.4 408.8 319.4 409.5 318.9 410.0 318.0 410.3 316.3 410.5 313.8 410.7 310.7 410.7 307.4 410.7 304.1 410.5 301.1 410.3 298.7Z" fill="#8a8a8a"/>
<path d="M406 289C403 294 402.5 315 405.5 321" fill="none" stroke="#222" stroke-width="0.7"/>
<path d="M410.0 285.5 409.4 284.0 408.6 283.4 407.6 283.6 406.5 284.4 405.4 285.7 404.4 287.1 403.5 288.6 402.8 290.0 402.3 291.4 401.8 293.0 401.5 294.9 401.2 296.9 401.0 299.0 400.9 301.1 400.8 303.1 400.8 305.0 400.8 306.9 400.9 308.8 401.0 310.7 401.2 312.7 401.5 314.5 401.8 316.2 402.3 317.7 402.8 319.0 403.5 320.3 404.4 321.8 405.4 323.3 406.5 324.5 407.6 325.3 408.6 325.6 409.4 325.0 410.0 323.5 410.4 320.5 410.7 316.0 410.8 310.5 410.9 304.5 410.8 298.5 410.7 293.0 410.4 288.5Z" fill="none" stroke="#000" stroke-width="1.0"/>
</g>
<rect x="253.4" y="226.6" width="153.6" height="152.9" fill="none" stroke="#6a6a6a" stroke-width="1.1"/>
<path d="M249.6 239.3H253.4 M249.6 270.2H253.4 M249.6 301.2H253.4 M249.6 332.9H253.4 M249.6 358.4H253.4 M251.4 323.4H253.4 M251.4 317.8H253.4 M251.4 313.8H253.4 M251.4 310.7H253.4 M251.4 308.2H253.4 M251.4 306.1H253.4 M251.4 304.3H253.4 M251.4 302.7H253.4 M251.4 291.9H253.4 M251.4 286.4H253.4 M251.4 282.5H253.4 M251.4 279.5H253.4 M251.4 277.1H253.4 M251.4 275.0H253.4 M251.4 273.2H253.4 M251.4 271.6H253.4 M251.4 260.9H253.4 M251.4 255.5H253.4 M251.4 251.6H253.4 M251.4 248.6H253.4 M251.4 246.2H253.4 M251.4 244.1H253.4 M251.4 242.3H253.4 M251.4 240.7H253.4 M251.4 230.0H253.4 M251.4 340.9H253.4 M251.4 347.9H253.4 M251.4 353.9H253.4 M251.4 364.4H253.4 M251.4 370.4H253.4 M251.4 375.4H253.4 M280.8 379.5V383.0 M299.0 379.5V383.0 M331.9 379.5V383.0 M363.4 379.5V383.0 M395.0 379.5V383.0 M308.9 379.5V381.5 M314.7 379.5V381.5 M318.8 379.5V381.5 M322.0 379.5V381.5 M324.6 379.5V381.5 M326.8 379.5V381.5 M328.7 379.5V381.5 M330.4 379.5V381.5 M341.4 379.5V381.5 M346.9 379.5V381.5 M350.9 379.5V381.5 M353.9 379.5V381.5 M356.4 379.5V381.5 M358.5 379.5V381.5 M360.3 379.5V381.5 M362.0 379.5V381.5 M372.9 379.5V381.5 M378.5 379.5V381.5 M382.4 379.5V381.5 M385.5 379.5V381.5 M388.0 379.5V381.5 M390.1 379.5V381.5 M391.9 379.5V381.5 M393.6 379.5V381.5 M261.4 379.5V381.5 M267.4 379.5V381.5 M273.4 379.5V381.5 M286.4 379.5V381.5 M292.4 379.5V381.5" stroke="#444" stroke-width="0.9" fill="none"/>
<rect x="279.8" y="379.5" width="2" height="3.4" fill="#111"/><rect x="250.4" y="357.2" width="3" height="2.6" fill="#111"/>
<text x="230.6" y="243.7" font-size="11">10<tspan font-size="7.8" dy="-4.8">5</tspan></text>
<text x="230.6" y="274.6" font-size="11">10<tspan font-size="7.8" dy="-4.8">4</tspan></text>
<text x="230.6" y="305.6" font-size="11">10<tspan font-size="7.8" dy="-4.8">3</tspan></text>
<text x="230.6" y="337.3" font-size="11">10<tspan font-size="7.8" dy="-4.8">2</tspan></text>
<text x="246.6" y="362.5" font-size="11" text-anchor="end">0</text>
<text x="280.8" y="398.3" font-size="11" text-anchor="middle">0</text>
<text x="290.6" y="398.3" font-size="11">10<tspan font-size="7.8" dy="-4.8">2</tspan></text>
<text x="323.5" y="398.3" font-size="11">10<tspan font-size="7.8" dy="-4.8">3</tspan></text>
<text x="355.0" y="398.3" font-size="11">10<tspan font-size="7.8" dy="-4.8">4</tspan></text>
<text x="386.6" y="398.3" font-size="11">10<tspan font-size="7.8" dy="-4.8">5</tspan></text>
<text x="287.5" y="220.6" font-size="14.45">Asthma+nAM</text>
<rect x="341.3" y="233.6" width="65.59999999999997" height="123.6" fill="none" stroke="#000" stroke-width="2.7"/>
<text x="403.5" y="375" font-size="14.7" text-anchor="end">4.9±1.8%</text>
<path d="M20.1 16.5V399H23.7V16.5Z" fill="#000"/>
<path d="M21.9 5.3L27.2 17H16.5Z" fill="#000"/>
<path d="M28.4 411H399V414.8H28.4Z" fill="#000"/>
<path d="M409.5 412.9L398.2 407.5V418.3Z" fill="#000"/>
<text x="1.6" y="12.2" font-size="15.8" font-weight="bold">a</text>
<text transform="translate(14.9 397.6) rotate(-90)" font-size="14.8">CD172α</text>
<text x="28.2" y="431.6" font-size="14.2">OVA</text>
<text x="40.6" y="461.4" font-size="16.5" font-weight="bold">b</text>
<defs>
<pattern id="vs" patternUnits="userSpaceOnUse" x="233.5" y="0" width="7" height="10"><rect width="7" height="10" fill="#fff"/><rect x="2.2" y="0" width="1.8" height="10" fill="#000"/></pattern>
<pattern id="hs" patternUnits="userSpaceOnUse" x="0.9" width="4.9" height="4.9" patternTransform="rotate(-45)"><rect width="4.9" height="4.9" fill="#fff"/><rect x="0" y="0" width="1.55" height="4.9" fill="#000"/></pattern>
</defs>
<path d="M106.6 457.8V721.6" stroke="#000" stroke-width="2.6"/>
<path d="M100 720.3H338.5" stroke="#000" stroke-width="2.7"/>
<path d="M100.2 720.3H106 M100.2 655.0H106 M100.2 589.7H106 M100.2 524.4H106 M100.2 459.1H106 M101.6 687.6H106 M101.6 622.3H106 M101.6 557.0H106 M101.6 491.8H106 M135.8 720.3V727.2 M193.9 720.3V727.2 M251.4 720.3V727.2 M309.1 720.3V727.2" stroke="#000" stroke-width="2.4"/>
<text x="95.6" y="724.9" font-size="13" text-anchor="end">0</text>
<text x="95.6" y="659.6" font-size="13" text-anchor="end">1</text>
<text x="95.6" y="594.3" font-size="13" text-anchor="end">2</text>
<text x="95.6" y="529.0" font-size="13" text-anchor="end">3</text>
<text x="95.6" y="463.7" font-size="13" text-anchor="end">4</text>
<rect x="116.4" y="666.2" width="38.099999999999994" height="54.09999999999991" fill="#fff" stroke="#000" stroke-width="2.5"/>
<rect x="174.3" y="575.8" width="38.79999999999998" height="144.5" fill="#000" stroke="#000" stroke-width="2.5"/>
<rect x="232.3" y="565.9" width="38.5" height="154.39999999999998" fill="url(#vs)" stroke="#000" stroke-width="2.5"/>
<rect x="290.1" y="670.0" width="38.5" height="50.299999999999955" fill="url(#hs)" stroke="#000" stroke-width="2.5"/>
<path d="M135.8 666.2V653.3M124.9 653.3H146 M193.7 575.8V555.9M182.8 555.9H203.9 M251.1 565.9V511M240.6 511H263 M309.4 670V646.3M298.9 646.3H320.1" stroke="#000" stroke-width="2.5" fill="none"/>
<path d="M132.8 545.4H196.6M245 503H311" stroke="#000" stroke-width="2.5"/>
<text x="160.3" y="546.6" font-size="20" font-weight="bold" text-anchor="middle">*</text>
<text x="278.3" y="504.8" font-size="20" font-weight="bold" text-anchor="middle">*</text>
<text x="116.2" y="740.6" font-size="14.2">Naive</text>
<text x="159.4" y="740.6" font-size="14.2">Asthmatic</text>
<text x="251.5" y="740.6" font-size="14.2" text-anchor="middle">Asthma</text>
<text x="251.3" y="758.1" font-size="14.2" text-anchor="middle">+sAM</text>
<text x="309.7" y="740.6" font-size="14.2" text-anchor="middle">Asthma</text>
<text x="309.9" y="758.1" font-size="14.2" text-anchor="middle">+nAM</text>
<text transform="translate(56.1 587.4) rotate(-90)" font-size="13.6" text-anchor="middle">Number of OVA<tspan font-size="9" dy="-5">+</tspan><tspan dy="5"> AM</tspan></text>
<text transform="translate(73.5 585.8) rotate(-90)" font-size="13.6" text-anchor="middle">(x10<tspan font-size="9" dy="-5">5</tspan><tspan dy="5"> per BAL)</tspan></text>
</svg>
</body></html>
